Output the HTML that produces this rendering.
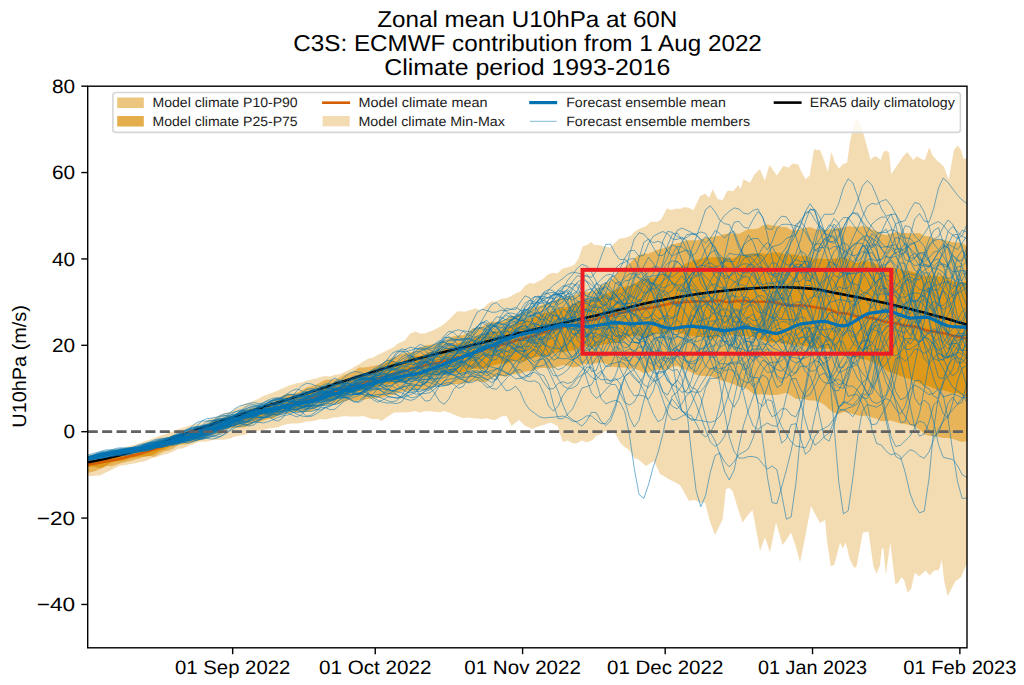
<!DOCTYPE html>
<html><head><meta charset="utf-8"><style>
html,body{margin:0;padding:0;background:#fff;overflow:hidden;}
svg{display:block;text-rendering:geometricPrecision;}
text{font-family:"Liberation Sans", sans-serif;fill:#000;}
.tk{font-size:19.4px;}
.tt{font-size:23.0px;}
.lg{font-size:13.5px;fill:#1a1a1a;}
</style></head><body>
<svg width="1024" height="685" viewBox="0 0 1024 685">
<rect width="1024" height="685" fill="#fff"/>
<clipPath id="ax"><rect x="87.7" y="86.2" width="879.3" height="561.5999999999999"/></clipPath>
<g clip-path="url(#ax)">
<path d="M86.0,455.5 L88.0,455.0 L92.4,453.9 L97.2,452.9 L102.0,452.5 L106.7,451.2 L111.5,450.3 L113.0,450.0 L116.2,449.0 L121.0,448.4 L125.7,447.3 L130.5,445.7 L135.2,444.4 L138.0,443.8 L140.0,443.1 L144.7,441.3 L149.5,439.8 L154.2,438.0 L159.0,436.1 L163.0,435.0 L168.5,433.0 L173.2,431.2 L178.0,429.3 L182.8,427.8 L188.0,426.0 L192.3,425.0 L197.0,423.6 L201.8,422.2 L206.5,420.6 L211.3,418.1 L213.0,417.5 L216.0,416.4 L220.8,414.6 L225.5,412.8 L230.3,411.8 L235.0,408.7 L238.0,407.5 L239.8,406.7 L244.5,403.7 L249.3,402.6 L254.0,400.8 L258.8,398.5 L263.0,396.0 L268.3,394.3 L273.1,392.4 L277.8,390.4 L282.6,388.3 L288.0,386.0 L292.1,384.5 L296.8,383.2 L301.6,382.5 L306.3,380.7 L311.1,379.5 L313.0,379.0 L315.8,378.6 L320.6,377.1 L325.3,376.0 L330.0,376.5 L334.8,374.8 L339.6,374.2 L342.7,372.7 L344.4,371.9 L349.1,369.9 L353.9,367.1 L355.4,366.3 L358.6,364.6 L363.4,361.6 L368.1,358.7 L372.9,357.7 L377.6,354.8 L380.8,353.6 L382.4,352.8 L387.1,350.3 L391.9,348.1 L393.5,347.3 L396.6,344.6 L400.0,342.6 L401.4,342.0 L404.7,340.6 L406.1,338.8 L410.2,333.6 L415.6,331.6 L420.3,333.6 L425.8,333.2 L429.9,331.6 L432.8,330.5 L434.7,329.5 L439.0,327.3 L443.8,324.2 L450.0,318.8 L453.7,314.8 L457.8,311.3 L463.2,311.6 L464.8,311.7 L467.9,310.8 L470.3,310.2 L472.7,309.2 L475.0,308.2 L477.4,309.2 L480.0,310.2 L482.2,308.9 L486.9,304.5 L491.7,301.2 L495.0,301.6 L496.5,301.2 L501.2,298.8 L506.0,298.3 L507.8,297.8 L510.7,296.3 L515.5,293.5 L520.4,291.4 L525.0,285.7 L529.7,283.0 L533.2,283.8 L534.5,283.2 L540.0,280.5 L544.0,278.3 L547.1,274.8 L548.7,274.2 L552.8,272.7 L557.1,273.4 L562.8,268.4 L568.5,267.0 L572.5,265.5 L574.2,264.9 L577.3,260.3 L578.5,258.4 L582.8,246.3 L587.0,244.9 L591.3,242.0 L594.2,244.9 L596.3,244.9 L598.5,244.9 L601.0,245.5 L604.2,246.3 L605.8,246.7 L609.9,247.8 L614.1,243.5 L619.8,238.5 L625.5,237.8 L629.5,236.2 L631.2,235.6 L634.1,232.1 L639.8,228.5 L643.8,227.0 L645.5,226.4 L648.5,223.7 L651.2,221.4 L653.3,221.7 L656.9,222.1 L661.2,219.2 L662.8,216.2 L666.9,208.5 L671.2,210.0 L676.9,208.5 L680.0,209.1 L681.8,208.2 L684.3,207.0 L686.6,207.4 L688.6,207.7 L691.3,208.9 L693.5,209.9 L696.1,204.5 L700.0,196.3 L705.0,193.5 L709.2,197.7 L712.5,189.2 L715.1,194.1 L717.8,199.2 L719.8,199.5 L722.8,199.9 L724.6,196.2 L727.0,191.3 L729.9,190.6 L733.0,191.3 L738.5,184.9 L740.6,189.2 L743.4,179.2 L748.4,181.9 L749.9,182.8 L754.1,174.9 L757.9,171.1 L759.8,169.2 L762.6,175.6 L764.8,180.6 L767.4,172.1 L769.5,165.0 L772.1,168.8 L776.9,175.6 L781.6,168.4 L783.4,165.7 L786.4,167.0 L788.4,167.8 L791.1,165.0 L792.6,163.5 L795.9,163.9 L798.3,164.2 L801.2,171.4 L805.5,179.2 L809.7,175.6 L814.0,149.3 L816.9,150.0 L820.0,149.9 L822.9,157.0 L824.4,161.6 L827.8,172.0 L829.2,164.5 L831.4,152.1 L835.0,162.8 L839.2,168.5 L842.8,164.2 L847.1,162.8 L850.0,141.4 L852.9,128.4 L854.2,122.8 L857.4,118.8 L861.3,125.7 L865.6,141.4 L867.2,147.3 L870.6,159.9 L871.9,158.6 L874.2,156.3 L877.0,157.0 L880.6,159.9 L883.4,152.1 L886.3,150.6 L889.1,152.8 L891.3,174.2 L895.7,167.6 L897.0,165.6 L900.5,160.4 L902.7,157.0 L905.2,154.3 L907.3,152.1 L909.8,155.6 L913.4,159.9 L914.7,158.5 L916.9,156.3 L919.5,157.8 L921.9,159.2 L924.8,159.9 L929.1,147.4 L932.6,155.6 L936.9,160.6 L938.5,161.8 L939.8,162.8 L944.0,167.0 L948.7,179.9 L952.7,157.0 L954.0,149.9 L957.6,145.6 L961.1,149.9 L963.3,158.5 L966.0,158.5 L968.0,158.5 L968.0,563.0 L966.0,565.6 L961.1,577.0 L957.5,579.7 L955.4,581.3 L952.7,586.4 L947.6,596.3 L944.0,579.9 L941.9,559.9 L939.0,569.9 L934.1,570.6 L929.8,575.6 L925.5,570.6 L924.2,571.7 L919.1,576.3 L914.8,572.8 L911.2,588.4 L910.0,589.9 L907.7,592.7 L904.1,579.9 L901.3,577.0 L898.4,582.7 L895.3,583.9 L892.7,562.8 L890.3,542.8 L887.7,561.3 L885.9,574.9 L883.4,548.5 L882.0,547.8 L879.9,565.6 L876.7,573.5 L873.5,567.0 L871.9,555.9 L868.5,531.4 L867.2,531.7 L862.8,532.8 L857.7,560.2 L856.4,567.0 L854.2,567.8 L852.9,565.4 L850.0,560.0 L848.2,552.7 L845.7,542.8 L842.8,548.5 L840.0,542.8 L838.7,548.0 L834.3,564.9 L830.7,566.3 L829.2,555.7 L827.1,541.4 L825.0,520.0 L820.0,522.9 L814.9,513.6 L811.0,506.0 L805.4,536.0 L800.0,562.5 L795.9,546.7 L791.0,532.5 L786.4,540.0 L782.5,545.0 L776.0,522.5 L772.1,541.9 L770.0,552.5 L767.4,544.6 L765.0,537.5 L762.6,543.9 L760.0,551.0 L757.9,539.3 L752.5,510.0 L748.4,514.4 L742.5,522.5 L738.9,511.5 L734.1,496.0 L732.5,491.0 L729.3,488.0 L726.0,489.0 L724.6,501.4 L722.5,520.0 L719.8,525.3 L715.0,535.0 L710.3,522.5 L705.0,502.5 L700.8,502.9 L695.0,500.0 L691.3,500.6 L689.0,501.0 L686.6,496.7 L681.8,488.2 L680.0,485.0 L677.1,483.4 L672.5,481.0 L667.6,478.4 L662.8,475.6 L660.0,474.0 L658.1,469.8 L654.0,461.0 L648.5,464.4 L646.0,466.0 L643.8,464.1 L638.4,459.5 L634.3,458.2 L629.5,450.6 L627.9,449.0 L624.8,447.2 L620.8,443.6 L615.3,433.9 L613.8,431.3 L610.5,431.1 L605.0,431.3 L600.0,434.5 L596.3,435.8 L592.7,440.0 L586.8,442.4 L582.0,440.5 L577.3,443.1 L575.0,443.6 L572.5,443.3 L567.7,440.4 L562.8,442.0 L557.6,426.0 L553.5,424.0 L550.5,422.6 L548.7,423.2 L544.0,424.7 L540.0,426.0 L534.5,427.9 L531.5,429.0 L529.7,427.7 L525.0,425.7 L520.2,420.9 L519.0,420.0 L515.5,422.8 L511.5,426.0 L506.5,416.0 L501.2,416.5 L496.5,419.2 L494.0,420.0 L491.7,419.8 L486.9,418.3 L482.2,419.1 L477.4,418.4 L472.7,418.2 L469.0,417.5 L463.2,417.9 L458.4,416.5 L453.7,414.6 L448.9,412.5 L444.0,411.0 L439.4,412.2 L434.7,411.8 L429.9,411.2 L425.2,411.2 L420.4,412.4 L419.0,412.5 L415.7,410.9 L410.9,411.9 L406.1,412.4 L401.4,412.2 L396.6,412.5 L394.0,412.5 L391.9,413.9 L387.1,417.1 L381.5,421.0 L377.6,418.8 L372.9,419.2 L369.0,418.0 L363.4,415.9 L358.6,416.4 L353.9,416.4 L349.1,416.6 L344.0,416.0 L339.6,417.1 L338.0,417.5 L334.8,417.2 L330.1,418.5 L325.3,419.4 L320.6,419.1 L315.8,420.6 L313.0,421.0 L311.1,421.2 L306.3,421.5 L301.6,423.0 L296.8,423.4 L292.1,423.5 L288.0,424.0 L282.6,425.3 L277.8,427.6 L273.1,428.1 L268.3,428.5 L263.0,430.0 L258.8,430.6 L254.0,431.5 L249.3,432.9 L244.5,434.7 L239.8,435.6 L238.0,436.0 L235.0,436.5 L230.3,438.4 L225.5,439.6 L220.8,439.7 L216.0,439.8 L213.0,440.0 L211.3,440.3 L206.5,441.7 L201.8,441.4 L198.0,442.2 L192.3,444.4 L190.0,445.3 L187.5,446.3 L182.5,448.4 L178.0,448.8 L174.7,450.8 L173.2,451.4 L168.5,453.3 L167.0,453.9 L163.7,454.4 L159.0,456.3 L154.2,457.6 L151.0,458.6 L149.5,459.2 L144.7,461.2 L143.4,461.7 L140.0,462.0 L135.6,463.3 L130.5,464.1 L128.0,464.5 L125.7,464.9 L120.0,465.8 L116.2,467.6 L113.0,469.0 L111.5,469.8 L108.0,471.5 L106.7,472.1 L102.0,474.5 L100.0,475.5 L97.2,475.6 L92.4,476.1 L88.0,476.0 L86.0,476.3 Z" fill="rgba(218,140,0,0.3)"/>
<path d="M87.7,461.3 L92.4,460.3 L97.2,458.5 L102.0,457.9 L106.7,457.9 L111.5,456.9 L116.2,455.1 L121.0,453.0 L125.7,453.4 L130.5,453.3 L135.2,452.0 L140.0,449.2 L144.7,446.4 L149.5,446.2 L154.2,443.6 L159.0,440.1 L163.7,439.6 L168.5,436.9 L173.2,434.7 L178.0,434.2 L182.8,434.0 L187.5,431.5 L192.3,430.3 L197.0,430.3 L201.8,428.3 L206.5,424.6 L211.3,421.5 L216.0,419.0 L220.8,418.0 L225.5,417.6 L230.3,416.0 L235.0,414.3 L239.8,412.7 L244.5,409.9 L249.3,408.7 L254.0,407.9 L258.8,406.6 L263.6,405.2 L268.3,402.7 L273.1,400.4 L277.8,398.7 L282.6,395.7 L287.3,393.7 L292.1,394.0 L296.8,392.7 L301.6,390.4 L306.3,387.4 L311.1,386.3 L315.8,384.7 L320.6,382.4 L325.3,379.8 L330.1,379.7 L334.8,379.6 L339.6,377.5 L344.4,374.8 L349.1,373.5 L353.9,371.4 L358.6,367.5 L363.4,367.4 L368.1,367.1 L372.9,366.1 L377.6,365.2 L382.4,362.9 L387.1,360.0 L391.9,358.1 L396.6,356.5 L401.4,354.0 L406.1,352.7 L410.9,352.2 L415.7,351.2 L420.4,347.9 L425.2,345.5 L429.9,344.7 L434.7,344.3 L439.4,342.6 L444.2,341.2 L448.9,337.9 L453.7,336.3 L458.4,335.5 L463.2,335.2 L467.9,333.0 L472.7,328.9 L477.4,327.4 L482.2,326.6 L486.9,323.8 L491.7,321.6 L496.5,322.0 L501.2,320.8 L506.0,319.0 L510.7,316.8 L515.5,315.7 L520.2,313.7 L525.0,312.1 L529.7,309.1 L534.5,307.2 L539.2,306.1 L544.0,304.2 L548.7,303.5 L553.5,301.0 L558.2,298.3 L563.0,297.6 L567.7,296.6 L572.5,296.2 L577.3,293.9 L582.0,291.6 L586.8,291.7 L591.5,291.8 L596.3,289.6 L601.0,285.5 L605.8,282.9 L610.5,280.8 L615.3,275.4 L620.0,269.8 L624.8,266.9 L629.5,263.4 L634.3,258.6 L639.0,255.0 L643.8,253.6 L648.5,253.7 L653.3,251.4 L658.1,249.6 L662.8,248.4 L667.6,246.9 L672.3,244.3 L677.1,243.5 L681.8,241.9 L686.6,240.4 L691.3,240.2 L696.1,240.6 L700.8,239.5 L705.6,237.7 L710.3,237.3 L715.1,236.6 L719.8,235.5 L724.6,234.1 L729.3,233.5 L734.1,233.3 L738.9,234.1 L743.6,231.6 L748.4,229.0 L753.1,229.2 L757.9,228.6 L762.6,225.6 L767.4,224.4 L772.1,225.4 L776.9,225.9 L781.6,227.0 L786.4,227.3 L791.1,229.9 L795.9,230.2 L800.6,228.9 L805.4,228.0 L810.1,226.9 L814.9,228.9 L819.7,229.4 L824.4,229.7 L829.2,229.4 L833.9,228.5 L838.7,227.9 L843.4,227.5 L848.2,226.2 L852.9,226.7 L857.7,227.0 L862.4,226.3 L867.2,226.4 L871.9,229.6 L876.7,231.0 L881.4,233.7 L886.2,235.3 L891.0,233.6 L895.7,232.0 L900.5,232.7 L905.2,232.9 L910.0,233.5 L914.7,233.3 L919.5,233.1 L924.2,236.0 L929.0,236.4 L933.7,238.3 L938.5,239.4 L943.2,239.9 L948.0,241.1 L952.7,242.2 L957.5,242.6 L962.2,243.2 L967.0,246.0 L967.0,441.1 L962.2,442.0 L957.5,440.4 L952.7,438.7 L948.0,437.9 L943.2,438.1 L938.5,437.0 L933.7,436.1 L929.0,435.8 L924.2,434.3 L919.5,429.4 L914.7,426.9 L910.0,425.3 L905.2,423.9 L900.5,423.6 L895.7,421.9 L891.0,420.6 L886.2,421.1 L881.4,421.2 L876.7,418.7 L871.9,417.6 L867.2,415.4 L862.4,415.9 L857.7,415.5 L852.9,414.1 L848.2,412.6 L843.4,412.1 L838.7,414.1 L833.9,412.8 L829.2,409.2 L824.4,404.7 L819.7,401.9 L814.9,400.4 L810.1,400.6 L805.4,399.5 L800.6,398.7 L795.9,398.9 L791.1,395.5 L786.4,392.7 L781.6,394.0 L776.9,394.9 L772.1,394.9 L767.4,394.7 L762.6,394.2 L757.9,394.6 L753.1,393.5 L748.4,389.8 L743.6,387.2 L738.9,386.8 L734.1,384.5 L729.3,382.7 L724.6,381.3 L719.8,379.9 L715.1,377.9 L710.3,375.9 L705.6,376.0 L700.8,375.8 L696.1,374.8 L691.3,372.6 L686.6,370.0 L681.8,368.2 L677.1,365.8 L672.3,366.8 L667.6,369.6 L662.8,369.9 L658.1,369.8 L653.3,370.4 L648.5,372.5 L643.8,373.1 L639.0,370.3 L634.3,368.6 L629.5,368.8 L624.8,367.6 L620.0,367.4 L615.3,367.1 L610.5,366.6 L605.8,363.6 L601.0,362.3 L596.3,363.3 L591.5,364.2 L586.8,363.4 L582.0,364.7 L577.3,367.1 L572.5,367.4 L567.7,365.7 L563.0,364.9 L558.2,366.5 L553.5,368.1 L548.7,368.5 L544.0,367.7 L539.2,368.2 L534.5,370.3 L529.7,371.1 L525.0,371.8 L520.2,373.4 L515.5,373.7 L510.7,374.5 L506.0,376.5 L501.2,376.0 L496.5,376.2 L491.7,377.8 L486.9,381.7 L482.2,382.0 L477.4,381.1 L472.7,381.2 L467.9,382.8 L463.2,383.3 L458.4,383.9 L453.7,384.1 L448.9,385.1 L444.2,385.5 L439.4,384.9 L434.7,385.8 L429.9,388.3 L425.2,389.9 L420.4,388.9 L415.7,389.9 L410.9,390.8 L406.1,391.3 L401.4,391.5 L396.6,393.6 L391.9,394.9 L387.1,396.0 L382.4,397.4 L377.6,397.5 L372.9,398.3 L368.1,398.9 L363.4,399.8 L358.6,400.5 L353.9,401.0 L349.1,399.9 L344.4,401.6 L339.6,403.5 L334.8,403.2 L330.1,404.0 L325.3,405.2 L320.6,406.1 L315.8,408.7 L311.1,411.6 L306.3,412.0 L301.6,412.2 L296.8,412.0 L292.1,412.2 L287.3,413.3 L282.6,413.6 L277.8,415.9 L273.1,418.5 L268.3,419.1 L263.6,420.7 L258.8,422.2 L254.0,422.5 L249.3,425.8 L244.5,427.2 L239.8,427.8 L235.0,427.8 L230.3,428.2 L225.5,429.6 L220.8,433.4 L216.0,434.1 L211.3,435.1 L206.5,436.9 L201.8,440.1 L197.0,441.0 L192.3,442.3 L187.5,444.1 L182.8,444.4 L178.0,445.3 L173.2,448.5 L168.5,450.5 L163.7,451.4 L159.0,453.9 L154.2,456.9 L149.5,456.1 L144.7,456.2 L140.0,458.2 L135.2,459.6 L130.5,460.9 L125.7,461.9 L121.0,463.2 L116.2,464.7 L111.5,466.3 L106.7,466.1 L102.0,467.9 L97.2,470.2 L92.4,471.9 L87.7,472.7 Z" fill="rgba(218,140,0,0.5)"/>
<path d="M87.7,463.9 L92.4,462.6 L97.2,460.9 L102.0,458.8 L106.7,457.6 L111.5,458.3 L116.2,457.8 L121.0,456.1 L125.7,455.1 L130.5,454.3 L135.2,453.2 L140.0,451.6 L144.7,449.5 L149.5,448.3 L154.2,445.6 L159.0,444.8 L163.7,443.4 L168.5,442.0 L173.2,440.9 L178.0,438.2 L182.8,433.9 L187.5,431.6 L192.3,431.3 L197.0,429.1 L201.8,428.0 L206.5,426.4 L211.3,422.6 L216.0,420.6 L220.8,420.9 L225.5,419.6 L230.3,417.6 L235.0,415.8 L239.8,413.3 L244.5,411.3 L249.3,410.6 L254.0,408.4 L258.8,406.8 L263.6,406.8 L268.3,405.5 L273.1,403.8 L277.8,401.3 L282.6,399.6 L287.3,397.8 L292.1,396.8 L296.8,396.1 L301.6,394.3 L306.3,393.6 L311.1,392.8 L315.8,391.8 L320.6,388.6 L325.3,387.6 L330.1,385.5 L334.8,383.3 L339.6,380.8 L344.4,379.9 L349.1,379.4 L353.9,377.5 L358.6,375.8 L363.4,374.4 L368.1,373.4 L372.9,370.5 L377.6,367.1 L382.4,365.7 L387.1,362.9 L391.9,360.8 L396.6,361.8 L401.4,362.5 L406.1,360.0 L410.9,356.8 L415.7,355.7 L420.4,355.9 L425.2,353.9 L429.9,352.1 L434.7,350.9 L439.4,350.1 L444.2,349.2 L448.9,347.5 L453.7,345.3 L458.4,343.2 L463.2,342.5 L467.9,340.6 L472.7,339.3 L477.4,336.5 L482.2,335.0 L486.9,333.1 L491.7,331.0 L496.5,331.6 L501.2,330.2 L506.0,327.5 L510.7,326.2 L515.5,323.4 L520.2,320.0 L525.0,319.8 L529.7,319.0 L534.5,317.0 L539.2,314.5 L544.0,313.0 L548.7,312.2 L553.5,311.0 L558.2,308.9 L563.0,307.6 L567.7,306.9 L572.5,304.6 L577.3,302.5 L582.0,299.9 L586.8,300.3 L591.5,299.5 L596.3,297.8 L601.0,295.6 L605.8,293.5 L610.5,291.9 L615.3,289.7 L620.0,287.5 L624.8,286.6 L629.5,285.9 L634.3,283.4 L639.0,280.9 L643.8,278.7 L648.5,278.1 L653.3,278.0 L658.1,275.6 L662.8,272.8 L667.6,270.1 L672.3,267.3 L677.1,267.0 L681.8,266.3 L686.6,263.2 L691.3,261.5 L696.1,259.8 L700.8,258.9 L705.6,257.3 L710.3,257.5 L715.1,257.0 L719.8,257.1 L724.6,257.5 L729.3,258.6 L734.1,258.0 L738.9,255.8 L743.6,254.5 L748.4,254.4 L753.1,254.1 L757.9,252.8 L762.6,253.5 L767.4,254.0 L772.1,252.4 L776.9,252.2 L781.6,253.3 L786.4,254.4 L791.1,254.2 L795.9,254.6 L800.6,255.9 L805.4,255.8 L810.1,257.6 L814.9,258.9 L819.7,258.4 L824.4,258.8 L829.2,259.2 L833.9,258.4 L838.7,258.2 L843.4,257.3 L848.2,258.9 L852.9,262.2 L857.7,262.8 L862.4,260.9 L867.2,261.2 L871.9,262.4 L876.7,263.9 L881.4,265.7 L886.2,267.1 L891.0,267.8 L895.7,268.2 L900.5,269.5 L905.2,270.5 L910.0,271.3 L914.7,272.6 L919.5,274.9 L924.2,276.0 L929.0,275.4 L933.7,275.3 L938.5,276.6 L943.2,276.1 L948.0,277.7 L952.7,281.2 L957.5,282.3 L962.2,282.0 L967.0,281.5 L967.0,397.1 L962.2,395.4 L957.5,393.0 L952.7,393.2 L948.0,391.5 L943.2,390.3 L938.5,389.7 L933.7,388.3 L929.0,386.1 L924.2,385.5 L919.5,383.0 L914.7,380.9 L910.0,379.0 L905.2,377.7 L900.5,376.0 L895.7,374.1 L891.0,372.6 L886.2,370.2 L881.4,366.2 L876.7,364.1 L871.9,362.1 L867.2,360.0 L862.4,359.1 L857.7,358.1 L852.9,357.2 L848.2,355.2 L843.4,353.5 L838.7,352.6 L833.9,349.9 L829.2,348.4 L824.4,348.6 L819.7,348.7 L814.9,348.2 L810.1,347.6 L805.4,345.9 L800.6,345.5 L795.9,345.0 L791.1,344.8 L786.4,344.2 L781.6,343.0 L776.9,342.1 L772.1,342.9 L767.4,341.9 L762.6,339.7 L757.9,338.3 L753.1,337.1 L748.4,336.4 L743.6,336.1 L738.9,335.8 L734.1,335.2 L729.3,334.9 L724.6,335.5 L719.8,336.0 L715.1,338.5 L710.3,339.5 L705.6,337.2 L700.8,336.4 L696.1,336.6 L691.3,336.2 L686.6,335.4 L681.8,333.5 L677.1,332.0 L672.3,330.4 L667.6,333.9 L662.8,333.9 L658.1,333.2 L653.3,334.8 L648.5,337.3 L643.8,337.3 L639.0,335.8 L634.3,335.8 L629.5,336.6 L624.8,338.9 L620.0,342.3 L615.3,343.0 L610.5,343.5 L605.8,344.0 L601.0,345.0 L596.3,346.4 L591.5,347.9 L586.8,345.7 L582.0,346.5 L577.3,349.3 L572.5,351.0 L567.7,351.2 L563.0,352.5 L558.2,352.1 L553.5,353.2 L548.7,355.3 L544.0,355.4 L539.2,356.4 L534.5,357.2 L529.7,358.6 L525.0,361.4 L520.2,361.5 L515.5,360.4 L510.7,362.1 L506.0,364.2 L501.2,363.4 L496.5,364.6 L491.7,365.7 L486.9,368.0 L482.2,368.7 L477.4,368.8 L472.7,368.8 L467.9,370.6 L463.2,372.4 L458.4,372.5 L453.7,373.0 L448.9,372.8 L444.2,373.9 L439.4,375.1 L434.7,375.4 L429.9,377.1 L425.2,377.2 L420.4,378.3 L415.7,377.9 L410.9,378.8 L406.1,380.4 L401.4,381.0 L396.6,383.4 L391.9,383.8 L387.1,383.4 L382.4,384.6 L377.6,386.4 L372.9,387.4 L368.1,388.9 L363.4,390.6 L358.6,391.5 L353.9,392.2 L349.1,393.3 L344.4,396.0 L339.6,397.7 L334.8,397.6 L330.1,399.8 L325.3,400.2 L320.6,400.4 L315.8,402.6 L311.1,404.4 L306.3,407.1 L301.6,408.2 L296.8,410.4 L292.1,409.1 L287.3,409.7 L282.6,411.8 L277.8,414.7 L273.1,416.0 L268.3,416.6 L263.6,415.8 L258.8,418.5 L254.0,420.3 L249.3,420.1 L244.5,421.0 L239.8,423.9 L235.0,426.3 L230.3,426.9 L225.5,428.7 L220.8,429.9 L216.0,429.9 L211.3,431.0 L206.5,434.9 L201.8,436.7 L197.0,437.9 L192.3,439.4 L187.5,439.1 L182.8,440.4 L178.0,443.1 L173.2,445.2 L168.5,447.5 L163.7,449.7 L159.0,451.3 L154.2,454.1 L149.5,456.1 L144.7,456.8 L140.0,456.4 L135.2,457.6 L130.5,458.1 L125.7,459.9 L121.0,461.2 L116.2,461.2 L111.5,462.4 L106.7,465.2 L102.0,468.0 L97.2,467.5 L92.4,466.5 L87.7,467.0 Z" fill="rgba(218,140,0,0.7)"/>
<path d="M87.7,464.8 L92.4,464.0 L97.2,463.2 L102.0,462.3 L106.7,461.3 L111.5,460.4 L116.2,459.6 L121.0,458.6 L125.7,457.3 L130.5,456.1 L135.2,455.0 L140.0,453.8 L144.7,452.3 L149.5,450.8 L154.2,449.3 L159.0,447.7 L163.7,445.8 L168.5,444.0 L173.2,442.2 L178.0,440.4 L182.8,438.6 L187.5,437.0 L192.3,435.3 L197.0,433.7 L201.8,432.1 L206.5,430.4 L211.3,428.6 L216.0,427.1 L220.8,425.6 L225.5,424.0 L230.3,422.3 L235.0,420.8 L239.8,419.2 L244.5,417.8 L249.3,416.4 L254.0,414.8 L258.8,413.4 L263.6,412.0 L268.3,410.5 L273.1,409.1 L277.8,407.7 L282.6,406.3 L287.3,404.9 L292.1,403.6 L296.8,402.4 L301.6,400.8 L306.3,399.5 L311.1,398.2 L315.8,396.8 L320.6,395.6 L325.3,394.1 L330.1,392.4 L334.8,391.0 L339.6,389.6 L344.4,388.2 L349.1,386.8 L353.9,385.4 L358.6,384.1 L363.4,382.8 L368.1,381.3 L372.9,379.9 L377.6,378.5 L382.4,377.1 L387.1,375.7 L391.9,374.3 L396.6,373.2 L401.4,372.0 L406.1,370.7 L410.9,369.1 L415.7,367.8 L420.4,366.6 L425.2,365.2 L429.9,364.1 L434.7,363.2 L439.4,362.3 L444.2,361.1 L448.9,359.7 L453.7,358.5 L458.4,357.5 L463.2,356.4 L467.9,354.9 L472.7,353.3 L477.4,352.0 L482.2,350.5 L486.9,348.8 L491.7,347.2 L496.5,345.9 L501.2,344.7 L506.0,343.7 L510.7,342.3 L515.5,340.8 L520.2,339.4 L525.0,338.1 L529.7,337.0 L534.5,335.6 L539.2,334.1 L544.0,332.5 L548.7,331.2 L553.5,329.4 L558.2,327.9 L563.0,327.1 L567.7,326.1 L572.5,325.5 L577.3,324.6 L582.0,322.5 L586.8,321.0 L591.5,320.1 L596.3,319.1 L601.0,317.8 L605.8,316.7 L610.5,315.9 L615.3,314.6 L620.0,313.0 L624.8,312.1 L629.5,311.1 L634.3,309.9 L639.0,309.1 L643.8,308.4 L648.5,308.1 L653.3,307.3 L658.1,306.2 L662.8,305.2 L667.6,304.2 L672.3,302.8 L677.1,302.6 L681.8,302.5 L686.6,301.8 L691.3,301.8 L696.1,301.3 L700.8,301.5 L705.6,301.3 L710.3,301.5 L715.1,301.0 L719.8,300.6 L724.6,301.7 L729.3,302.2 L734.1,301.4 L738.9,300.9 L743.6,300.9 L748.4,301.1 L753.1,301.9 L757.9,301.8 L762.6,301.8 L767.4,301.8 L772.1,302.0 L776.9,302.7 L781.6,304.2 L786.4,304.9 L791.1,305.5 L795.9,305.5 L800.6,305.4 L805.4,305.8 L810.1,306.4 L814.9,307.2 L819.7,308.0 L824.4,308.8 L829.2,309.5 L833.9,311.2 L838.7,313.1 L843.4,313.3 L848.2,313.8 L852.9,315.6 L857.7,316.8 L862.4,316.7 L867.2,317.4 L871.9,318.1 L876.7,318.9 L881.4,320.7 L886.2,321.9 L891.0,322.5 L895.7,323.3 L900.5,324.6 L905.2,325.4 L910.0,326.1 L914.7,326.6 L919.5,327.9 L924.2,329.9 L929.0,330.7 L933.7,331.6 L938.5,332.5 L943.2,333.1 L948.0,334.3 L952.7,335.7 L957.5,336.5 L962.2,337.4 L967.0,338.6" fill="none" stroke="#D55E00" stroke-width="2.6" stroke-linejoin="round"/>
<path d="M87.7,462.3 L92.4,461.4 L97.2,460.4 L102.0,459.5 L106.7,458.4 L111.5,457.3 L116.2,456.2 L121.0,455.0 L125.7,453.8 L130.5,452.6 L135.2,451.3 L140.0,449.9 L144.7,448.5 L149.5,447.0 L154.2,445.4 L159.0,443.7 L163.7,442.0 L168.5,440.2 L173.2,438.4 L178.0,436.6 L182.8,434.8 L187.5,433.0 L192.3,431.3 L197.0,429.5 L201.8,427.9 L206.5,426.2 L211.3,424.6 L216.0,423.0 L220.8,421.3 L225.5,419.7 L230.3,418.1 L235.0,416.5 L239.8,414.9 L244.5,413.3 L249.3,411.7 L254.0,410.1 L258.8,408.5 L263.6,407.0 L268.3,405.4 L273.1,403.9 L277.8,402.4 L282.6,400.9 L287.3,399.4 L292.1,397.9 L296.8,396.4 L301.6,394.9 L306.3,393.4 L311.1,391.8 L315.8,390.3 L320.6,388.8 L325.3,387.2 L330.1,385.7 L334.8,384.1 L339.6,382.4 L344.4,380.9 L349.1,379.4 L353.9,377.9 L358.6,376.4 L363.4,374.9 L368.1,373.4 L372.9,371.9 L377.6,370.4 L382.4,369.0 L387.1,367.6 L391.9,366.1 L396.6,364.7 L401.4,363.3 L406.1,362.0 L410.9,360.6 L415.7,359.3 L420.4,358.0 L425.2,356.7 L429.9,355.4 L434.7,354.2 L439.4,353.0 L444.2,351.9 L448.9,350.8 L453.7,349.7 L458.4,348.5 L463.2,347.4 L467.9,346.3 L472.7,345.1 L477.4,343.9 L482.2,342.7 L486.9,341.4 L491.7,340.2 L496.5,339.0 L501.2,337.7 L506.0,336.5 L510.7,335.2 L515.5,334.0 L520.2,332.8 L525.0,331.7 L529.7,330.5 L534.5,329.4 L539.2,328.3 L544.0,327.2 L548.7,326.1 L553.5,325.0 L558.2,323.9 L563.0,322.9 L567.7,321.8 L572.5,320.8 L577.3,319.7 L582.0,318.6 L586.8,317.5 L591.5,316.5 L596.3,315.4 L601.0,314.3 L605.8,313.1 L610.5,311.9 L615.3,310.8 L620.0,309.6 L624.8,308.4 L629.5,307.2 L634.3,306.0 L639.0,304.9 L643.8,303.8 L648.5,302.8 L653.3,301.8 L658.1,300.9 L662.8,300.0 L667.6,299.0 L672.3,298.2 L677.1,297.3 L681.8,296.5 L686.6,295.7 L691.3,295.0 L696.1,294.3 L700.8,293.6 L705.6,293.0 L710.3,292.4 L715.1,291.8 L719.8,291.3 L724.6,290.7 L729.3,290.2 L734.1,289.7 L738.9,289.3 L743.6,288.9 L748.4,288.6 L753.1,288.3 L757.9,288.0 L762.6,287.8 L767.4,287.5 L772.1,287.3 L776.9,287.2 L781.6,287.2 L786.4,287.3 L791.1,287.4 L795.9,287.6 L800.6,287.9 L805.4,288.2 L810.1,288.6 L814.9,289.0 L819.7,289.8 L824.4,290.8 L829.2,291.8 L833.9,292.7 L838.7,293.6 L843.4,294.5 L848.2,295.5 L852.9,296.4 L857.7,297.3 L862.4,298.3 L867.2,299.3 L871.9,300.3 L876.7,301.3 L881.4,302.3 L886.2,303.3 L891.0,304.4 L895.7,305.5 L900.5,306.7 L905.2,307.8 L910.0,309.0 L914.7,310.2 L919.5,311.4 L924.2,312.6 L929.0,313.9 L933.7,315.2 L938.5,316.5 L943.2,317.8 L948.0,319.1 L952.7,320.5 L957.5,321.9 L962.2,323.3 L967.0,324.7" fill="none" stroke="#000" stroke-width="2.6" stroke-linejoin="round"/>
<g fill="none" stroke="#0072B2" stroke-opacity="0.58" stroke-width="0.95" stroke-linejoin="round">
<path d="M87.7,459.7 L92.4,459.1 L97.2,458.5 L102.0,458.0 L106.7,457.3 L111.5,456.5 L116.2,455.7 L121.0,454.2 L125.7,452.1 L130.5,450.4 L135.2,449.4 L140.0,448.4 L144.7,447.5 L149.5,446.7 L154.2,445.8 L159.0,444.7 L163.7,443.9 L168.5,442.9 L173.2,441.9 L178.0,441.8 L182.8,441.8 L187.5,440.2 L192.3,437.4 L197.0,435.3 L201.8,434.3 L206.5,433.9 L211.3,432.8 L216.0,430.6 L220.8,428.8 L225.5,427.1 L230.3,424.3 L235.0,420.9 L239.8,417.7 L244.5,416.0 L249.3,416.3 L254.0,416.4 L258.8,413.8 L263.6,410.5 L268.3,408.3 L273.1,407.9 L277.8,408.1 L282.6,408.2 L287.3,407.7 L292.1,406.1 L296.8,403.9 L301.6,400.7 L306.3,396.2 L311.1,391.9 L315.8,389.7 L320.6,388.3 L325.3,385.7 L330.1,384.1 L334.8,384.6 L339.6,384.4 L344.4,383.3 L349.1,383.2 L353.9,383.1 L358.6,381.5 L363.4,378.9 L368.1,378.3 L372.9,379.7 L377.6,380.1 L382.4,377.7 L387.1,375.1 L391.9,375.0 L396.6,377.1 L401.4,378.8 L406.1,379.9 L410.9,381.5 L415.7,380.4 L420.4,375.9 L425.2,369.4 L429.9,361.2 L434.7,355.3 L439.4,354.8 L444.2,356.9 L448.9,357.8 L453.7,356.1 L458.4,352.0 L463.2,348.1 L467.9,346.2 L472.7,343.8 L477.4,338.6 L482.2,332.9 L486.9,327.1 L491.7,324.4 L496.5,327.1 L501.2,333.1 L506.0,337.3 L510.7,335.8 L515.5,329.7 L520.2,327.0 L525.0,330.7 L529.7,336.1 L534.5,342.3 L539.2,351.1 L544.0,356.8 L548.7,360.8 L553.5,366.6 L558.2,369.7 L563.0,367.8 L567.7,363.4 L572.5,359.7 L577.3,357.1 L582.0,352.9 L586.8,347.9 L591.5,341.9 L596.3,330.5 L601.0,316.4 L605.8,308.9 L610.5,309.3 L615.3,309.4 L620.0,308.1 L624.8,310.7 L629.5,312.0 L634.3,305.1 L639.0,299.1 L643.8,303.2 L648.5,307.5 L653.3,303.1 L658.1,294.6 L662.8,291.4 L667.6,297.5 L672.3,304.0 L677.1,305.1 L681.8,306.9 L686.6,315.2 L691.3,324.1 L696.1,328.7 L700.8,326.7 L705.6,333.2 L710.3,340.9 L715.1,336.1 L719.8,329.1 L724.6,330.2 L729.3,338.6 L734.1,349.5 L738.9,346.7 L743.6,329.5 L748.4,322.8 L753.1,335.3 L757.9,340.3 L762.6,336.9 L767.4,324.4 L772.1,307.7 L776.9,293.9 L781.6,287.1 L786.4,295.0 L791.1,314.0 L795.9,333.2 L800.6,344.5 L805.4,339.9 L810.1,334.5 L814.9,333.6 L819.7,324.9 L824.4,300.0 L829.2,275.8 L833.9,265.9 L838.7,255.6 L843.4,234.8 L848.2,219.0 L852.9,212.0 L857.7,200.5 L862.4,186.3 L867.2,180.5 L871.9,185.0 L876.7,196.4 L881.4,208.9 L886.2,216.2 L891.0,214.5 L895.7,214.0 L900.5,227.2 L905.2,246.6 L910.0,260.8 L914.7,265.8 L919.5,264.6 L924.2,266.0 L929.0,266.8 L933.7,260.4 L938.5,258.9 L943.2,266.7 L948.0,265.9 L952.7,252.5 L957.5,237.5 L962.2,230.2 L967.0,232.3"/>
<path d="M87.7,457.3 L92.4,456.4 L97.2,455.7 L102.0,454.5 L106.7,453.0 L111.5,451.9 L116.2,451.4 L121.0,451.2 L125.7,450.7 L130.5,450.0 L135.2,449.7 L140.0,449.5 L144.7,448.8 L149.5,447.9 L154.2,446.7 L159.0,445.1 L163.7,443.4 L168.5,441.7 L173.2,439.3 L178.0,436.7 L182.8,435.0 L187.5,433.2 L192.3,430.3 L197.0,427.3 L201.8,425.3 L206.5,424.6 L211.3,424.4 L216.0,423.5 L220.8,422.6 L225.5,421.9 L230.3,420.0 L235.0,416.5 L239.8,412.7 L244.5,409.4 L249.3,407.0 L254.0,405.8 L258.8,404.7 L263.6,402.5 L268.3,399.9 L273.1,398.2 L277.8,398.0 L282.6,399.1 L287.3,399.5 L292.1,396.5 L296.8,391.0 L301.6,385.8 L306.3,383.4 L311.1,383.9 L315.8,385.8 L320.6,386.6 L325.3,386.6 L330.1,386.9 L334.8,388.2 L339.6,388.3 L344.4,386.0 L349.1,384.4 L353.9,384.5 L358.6,384.3 L363.4,381.9 L368.1,377.9 L372.9,376.6 L377.6,380.0 L382.4,386.8 L387.1,391.1 L391.9,390.8 L396.6,389.5 L401.4,387.9 L406.1,385.8 L410.9,385.1 L415.7,385.4 L420.4,385.8 L425.2,383.9 L429.9,379.2 L434.7,376.1 L439.4,373.9 L444.2,371.0 L448.9,369.8 L453.7,369.3 L458.4,367.3 L463.2,363.8 L467.9,358.9 L472.7,357.6 L477.4,363.6 L482.2,368.6 L486.9,365.0 L491.7,355.3 L496.5,345.4 L501.2,340.3 L506.0,340.4 L510.7,344.8 L515.5,349.2 L520.2,348.9 L525.0,346.4 L529.7,346.5 L534.5,350.9 L539.2,355.1 L544.0,356.0 L548.7,356.3 L553.5,351.0 L558.2,335.5 L563.0,323.1 L567.7,324.9 L572.5,334.0 L577.3,333.6 L582.0,320.9 L586.8,307.5 L591.5,301.7 L596.3,300.2 L601.0,301.1 L605.8,306.7 L610.5,309.1 L615.3,304.7 L620.0,302.1 L624.8,303.3 L629.5,303.3 L634.3,302.4 L639.0,304.9 L643.8,307.1 L648.5,312.0 L653.3,321.0 L658.1,325.7 L662.8,327.7 L667.6,335.9 L672.3,359.2 L677.1,390.5 L681.8,411.1 L686.6,413.2 L691.3,404.3 L696.1,393.0 L700.8,384.9 L705.6,377.4 L710.3,369.1 L715.1,366.8 L719.8,369.1 L724.6,367.5 L729.3,363.4 L734.1,362.2 L738.9,361.9 L743.6,358.3 L748.4,349.0 L753.1,338.3 L757.9,330.7 L762.6,324.6 L767.4,319.5 L772.1,316.4 L776.9,320.3 L781.6,318.7 L786.4,306.5 L791.1,290.8 L795.9,286.2 L800.6,293.5 L805.4,303.6 L810.1,314.7 L814.9,323.1 L819.7,331.5 L824.4,336.5 L829.2,346.1 L833.9,363.3 L838.7,372.8 L843.4,370.7 L848.2,367.7 L852.9,366.4 L857.7,363.5 L862.4,352.8 L867.2,338.0 L871.9,328.6 L876.7,325.4 L881.4,324.1 L886.2,317.8 L891.0,303.0 L895.7,275.3 L900.5,249.3 L905.2,243.0 L910.0,248.6 L914.7,259.3 L919.5,265.6 L924.2,258.8 L929.0,247.1 L933.7,240.8 L938.5,239.2 L943.2,240.0 L948.0,245.2 L952.7,258.4 L957.5,277.7 L962.2,294.5 L967.0,306.1"/>
<path d="M87.7,459.1 L92.4,458.5 L97.2,458.2 L102.0,457.7 L106.7,456.4 L111.5,454.4 L116.2,452.5 L121.0,450.9 L125.7,449.6 L130.5,448.7 L135.2,448.0 L140.0,447.3 L144.7,446.3 L149.5,444.8 L154.2,443.3 L159.0,442.7 L163.7,443.0 L168.5,443.2 L173.2,442.8 L178.0,441.6 L182.8,439.8 L187.5,437.5 L192.3,435.6 L197.0,434.4 L201.8,431.7 L206.5,426.9 L211.3,422.3 L216.0,418.5 L220.8,415.2 L225.5,413.6 L230.3,413.1 L235.0,412.0 L239.8,410.6 L244.5,409.2 L249.3,407.6 L254.0,406.7 L258.8,406.6 L263.6,407.1 L268.3,408.9 L273.1,411.0 L277.8,412.3 L282.6,412.4 L287.3,410.9 L292.1,408.1 L296.8,405.0 L301.6,401.9 L306.3,400.1 L311.1,399.9 L315.8,398.2 L320.6,395.3 L325.3,393.2 L330.1,391.3 L334.8,390.1 L339.6,389.3 L344.4,387.8 L349.1,387.9 L353.9,390.3 L358.6,389.9 L363.4,385.9 L368.1,381.6 L372.9,380.3 L377.6,383.2 L382.4,387.3 L387.1,389.3 L391.9,390.8 L396.6,394.4 L401.4,397.5 L406.1,396.6 L410.9,394.5 L415.7,392.5 L420.4,387.1 L425.2,377.4 L429.9,366.6 L434.7,357.9 L439.4,351.3 L444.2,348.7 L448.9,348.5 L453.7,348.4 L458.4,346.9 L463.2,342.0 L467.9,332.9 L472.7,321.1 L477.4,312.0 L482.2,309.3 L486.9,310.5 L491.7,312.3 L496.5,312.1 L501.2,310.2 L506.0,311.0 L510.7,315.3 L515.5,318.5 L520.2,320.1 L525.0,321.6 L529.7,321.8 L534.5,324.5 L539.2,334.8 L544.0,342.8 L548.7,347.2 L553.5,352.7 L558.2,358.2 L563.0,358.8 L567.7,358.5 L572.5,360.2 L577.3,357.3 L582.0,351.9 L586.8,350.4 L591.5,348.5 L596.3,343.1 L601.0,337.4 L605.8,331.2 L610.5,322.2 L615.3,312.2 L620.0,312.5 L624.8,313.0 L629.5,308.5 L634.3,305.4 L639.0,310.7 L643.8,317.7 L648.5,317.3 L653.3,313.8 L658.1,318.3 L662.8,318.9 L667.6,322.1 L672.3,334.5 L677.1,348.8 L681.8,355.3 L686.6,360.2 L691.3,368.7 L696.1,371.8 L700.8,363.2 L705.6,351.1 L710.3,346.7 L715.1,345.2 L719.8,340.6 L724.6,341.3 L729.3,346.5 L734.1,339.3 L738.9,315.7 L743.6,296.9 L748.4,297.7 L753.1,311.2 L757.9,326.4 L762.6,334.8 L767.4,333.5 L772.1,328.9 L776.9,325.3 L781.6,321.3 L786.4,322.2 L791.1,325.1 L795.9,326.6 L800.6,309.7 L805.4,280.7 L810.1,255.5 L814.9,236.7 L819.7,221.8 L824.4,214.2 L829.2,214.4 L833.9,213.9 L838.7,203.6 L843.4,187.8 L848.2,178.8 L852.9,182.9 L857.7,196.4 L862.4,210.9 L867.2,220.7 L871.9,226.9 L876.7,232.9 L881.4,232.2 L886.2,221.5 L891.0,214.2 L895.7,224.5 L900.5,246.0 L905.2,260.0 L910.0,261.9 L914.7,258.0 L919.5,253.0 L924.2,252.3 L929.0,260.4 L933.7,273.8 L938.5,282.9 L943.2,289.9 L948.0,301.6 L952.7,316.7 L957.5,330.7 L962.2,338.4 L967.0,349.3"/>
<path d="M87.7,458.0 L92.4,457.0 L97.2,456.2 L102.0,455.4 L106.7,454.9 L111.5,454.7 L116.2,454.5 L121.0,453.9 L125.7,453.3 L130.5,453.1 L135.2,452.6 L140.0,451.8 L144.7,451.2 L149.5,450.3 L154.2,448.2 L159.0,445.4 L163.7,442.8 L168.5,440.9 L173.2,439.5 L178.0,438.5 L182.8,435.9 L187.5,433.2 L192.3,431.8 L197.0,430.7 L201.8,428.5 L206.5,426.1 L211.3,423.8 L216.0,420.3 L220.8,416.8 L225.5,415.6 L230.3,416.8 L235.0,418.4 L239.8,417.9 L244.5,414.9 L249.3,411.6 L254.0,410.0 L258.8,409.6 L263.6,409.6 L268.3,410.4 L273.1,412.8 L277.8,414.8 L282.6,414.6 L287.3,412.4 L292.1,409.6 L296.8,408.9 L301.6,412.0 L306.3,415.9 L311.1,416.4 L315.8,414.2 L320.6,410.9 L325.3,408.0 L330.1,406.1 L334.8,403.4 L339.6,399.8 L344.4,396.6 L349.1,392.7 L353.9,388.9 L358.6,388.0 L363.4,389.5 L368.1,390.0 L372.9,389.1 L377.6,388.9 L382.4,388.2 L387.1,385.9 L391.9,385.7 L396.6,388.8 L401.4,388.9 L406.1,382.8 L410.9,376.1 L415.7,375.3 L420.4,378.3 L425.2,379.8 L429.9,377.4 L434.7,372.6 L439.4,370.4 L444.2,371.2 L448.9,372.6 L453.7,371.7 L458.4,367.1 L463.2,358.7 L467.9,350.8 L472.7,347.6 L477.4,347.8 L482.2,351.3 L486.9,357.1 L491.7,357.1 L496.5,345.0 L501.2,331.4 L506.0,325.3 L510.7,327.0 L515.5,330.4 L520.2,328.3 L525.0,319.7 L529.7,306.8 L534.5,296.6 L539.2,296.2 L544.0,304.1 L548.7,312.9 L553.5,315.7 L558.2,316.4 L563.0,323.9 L567.7,327.6 L572.5,323.4 L577.3,318.8 L582.0,320.3 L586.8,325.2 L591.5,331.9 L596.3,338.5 L601.0,335.9 L605.8,326.3 L610.5,323.3 L615.3,324.8 L620.0,323.8 L624.8,322.3 L629.5,325.1 L634.3,326.9 L639.0,320.0 L643.8,312.1 L648.5,305.8 L653.3,301.0 L658.1,297.9 L662.8,293.4 L667.6,283.3 L672.3,269.5 L677.1,255.1 L681.8,242.3 L686.6,234.7 L691.3,233.7 L696.1,234.2 L700.8,231.9 L705.6,233.4 L710.3,241.7 L715.1,248.3 L719.8,256.4 L724.6,270.3 L729.3,278.3 L734.1,281.4 L738.9,284.5 L743.6,285.3 L748.4,288.1 L753.1,288.7 L757.9,280.3 L762.6,273.6 L767.4,268.9 L772.1,262.3 L776.9,263.9 L781.6,273.7 L786.4,275.7 L791.1,265.2 L795.9,259.4 L800.6,261.7 L805.4,261.3 L810.1,262.2 L814.9,273.1 L819.7,289.4 L824.4,306.3 L829.2,322.5 L833.9,331.9 L838.7,330.7 L843.4,320.5 L848.2,309.9 L852.9,305.8 L857.7,303.7 L862.4,297.7 L867.2,292.2 L871.9,297.4 L876.7,310.7 L881.4,311.9 L886.2,297.1 L891.0,287.5 L895.7,290.7 L900.5,297.0 L905.2,297.4 L910.0,294.2 L914.7,292.7 L919.5,293.5 L924.2,296.6 L929.0,302.2 L933.7,309.1 L938.5,318.2 L943.2,328.4 L948.0,333.1 L952.7,329.0 L957.5,320.1 L962.2,311.5 L967.0,306.8"/>
<path d="M87.7,456.2 L92.4,455.5 L97.2,454.6 L102.0,453.7 L106.7,452.8 L111.5,452.2 L116.2,452.1 L121.0,452.3 L125.7,452.0 L130.5,451.3 L135.2,450.7 L140.0,449.5 L144.7,447.3 L149.5,446.1 L154.2,446.1 L159.0,446.3 L163.7,446.1 L168.5,445.1 L173.2,442.3 L178.0,438.9 L182.8,437.0 L187.5,436.8 L192.3,436.6 L197.0,435.6 L201.8,434.1 L206.5,432.9 L211.3,432.9 L216.0,431.6 L220.8,427.8 L225.5,423.3 L230.3,420.2 L235.0,418.4 L239.8,417.1 L244.5,416.5 L249.3,417.0 L254.0,417.5 L258.8,417.4 L263.6,417.4 L268.3,416.7 L273.1,413.1 L277.8,408.9 L282.6,408.4 L287.3,410.4 L292.1,411.1 L296.8,409.4 L301.6,407.1 L306.3,405.6 L311.1,403.9 L315.8,400.7 L320.6,397.1 L325.3,395.1 L330.1,393.5 L334.8,390.4 L339.6,388.1 L344.4,388.3 L349.1,389.6 L353.9,391.0 L358.6,392.7 L363.4,393.3 L368.1,390.4 L372.9,385.3 L377.6,382.0 L382.4,383.2 L387.1,387.9 L391.9,391.2 L396.6,390.2 L401.4,386.6 L406.1,386.6 L410.9,391.3 L415.7,394.2 L420.4,393.9 L425.2,393.5 L429.9,392.7 L434.7,389.1 L439.4,385.1 L444.2,383.4 L448.9,382.4 L453.7,384.2 L458.4,388.2 L463.2,386.5 L467.9,378.4 L472.7,373.5 L477.4,375.4 L482.2,375.9 L486.9,369.5 L491.7,359.7 L496.5,352.0 L501.2,349.1 L506.0,351.1 L510.7,352.5 L515.5,347.2 L520.2,338.7 L525.0,333.4 L529.7,328.1 L534.5,323.7 L539.2,324.7 L544.0,327.6 L548.7,323.7 L553.5,313.4 L558.2,301.9 L563.0,292.8 L567.7,291.7 L572.5,304.0 L577.3,323.1 L582.0,335.8 L586.8,336.8 L591.5,328.6 L596.3,318.4 L601.0,313.7 L605.8,317.1 L610.5,321.5 L615.3,320.2 L620.0,311.9 L624.8,295.6 L629.5,279.6 L634.3,270.7 L639.0,268.4 L643.8,273.8 L648.5,281.4 L653.3,283.5 L658.1,285.0 L662.8,288.1 L667.6,286.2 L672.3,283.1 L677.1,286.4 L681.8,290.9 L686.6,291.8 L691.3,289.7 L696.1,290.5 L700.8,306.3 L705.6,326.8 L710.3,344.7 L715.1,361.2 L719.8,383.9 L724.6,412.8 L729.3,437.0 L734.1,451.5 L738.9,458.1 L743.6,458.1 L748.4,456.5 L753.1,456.6 L757.9,457.9 L762.6,463.8 L767.4,469.1 L772.1,465.9 L776.9,469.7 L781.6,494.0 L786.4,519.2 L791.1,517.0 L795.9,483.5 L800.6,433.8 L805.4,391.2 L810.1,367.8 L814.9,360.4 L819.7,354.6 L824.4,343.3 L829.2,333.5 L833.9,326.7 L838.7,328.0 L843.4,334.0 L848.2,328.3 L852.9,310.7 L857.7,295.8 L862.4,293.9 L867.2,301.8 L871.9,308.0 L876.7,298.8 L881.4,279.7 L886.2,264.2 L891.0,260.7 L895.7,269.5 L900.5,283.2 L905.2,292.7 L910.0,297.6 L914.7,302.6 L919.5,313.9 L924.2,318.4 L929.0,308.0 L933.7,301.2 L938.5,304.8 L943.2,309.3 L948.0,306.6 L952.7,302.0 L957.5,293.1 L962.2,285.5 L967.0,282.6"/>
<path d="M87.7,458.4 L92.4,457.9 L97.2,457.1 L102.0,456.4 L106.7,455.9 L111.5,454.8 L116.2,453.4 L121.0,452.5 L125.7,452.2 L130.5,451.8 L135.2,450.7 L140.0,449.1 L144.7,447.5 L149.5,446.2 L154.2,445.5 L159.0,444.9 L163.7,443.8 L168.5,442.0 L173.2,440.0 L178.0,438.6 L182.8,438.0 L187.5,437.7 L192.3,436.3 L197.0,434.1 L201.8,431.4 L206.5,428.7 L211.3,426.3 L216.0,424.8 L220.8,424.1 L225.5,423.4 L230.3,422.0 L235.0,420.5 L239.8,419.3 L244.5,418.0 L249.3,416.3 L254.0,414.4 L258.8,412.0 L263.6,410.1 L268.3,409.0 L273.1,408.4 L277.8,408.5 L282.6,408.1 L287.3,405.1 L292.1,400.4 L296.8,397.0 L301.6,396.6 L306.3,397.1 L311.1,396.1 L315.8,393.4 L320.6,391.3 L325.3,389.9 L330.1,388.6 L334.8,389.2 L339.6,391.2 L344.4,391.0 L349.1,387.5 L353.9,382.4 L358.6,378.7 L363.4,377.3 L368.1,375.6 L372.9,372.5 L377.6,369.3 L382.4,367.4 L387.1,367.3 L391.9,368.9 L396.6,368.8 L401.4,364.2 L406.1,358.4 L410.9,356.0 L415.7,357.9 L420.4,363.6 L425.2,369.9 L429.9,370.4 L434.7,367.7 L439.4,363.4 L444.2,357.0 L448.9,350.5 L453.7,348.5 L458.4,351.9 L463.2,355.4 L467.9,354.4 L472.7,353.7 L477.4,349.1 L482.2,338.5 L486.9,328.7 L491.7,324.1 L496.5,323.7 L501.2,324.2 L506.0,324.7 L510.7,325.8 L515.5,324.1 L520.2,318.3 L525.0,311.9 L529.7,306.3 L534.5,300.7 L539.2,296.6 L544.0,296.7 L548.7,297.9 L553.5,298.6 L558.2,296.8 L563.0,288.6 L567.7,280.3 L572.5,274.8 L577.3,268.2 L582.0,264.4 L586.8,266.1 L591.5,272.1 L596.3,281.8 L601.0,292.9 L605.8,302.7 L610.5,307.6 L615.3,305.4 L620.0,297.4 L624.8,290.4 L629.5,287.0 L634.3,284.3 L639.0,286.9 L643.8,293.3 L648.5,292.1 L653.3,284.8 L658.1,276.6 L662.8,262.9 L667.6,245.3 L672.3,234.2 L677.1,232.9 L681.8,239.3 L686.6,249.3 L691.3,256.5 L696.1,252.7 L700.8,242.4 L705.6,236.6 L710.3,240.0 L715.1,252.3 L719.8,263.1 L724.6,262.2 L729.3,258.7 L734.1,268.1 L738.9,285.8 L743.6,299.0 L748.4,302.4 L753.1,301.0 L757.9,305.3 L762.6,316.4 L767.4,331.4 L772.1,339.9 L776.9,342.3 L781.6,338.1 L786.4,334.0 L791.1,333.7 L795.9,343.8 L800.6,361.7 L805.4,371.9 L810.1,375.8 L814.9,390.3 L819.7,416.5 L824.4,438.2 L829.2,441.2 L833.9,426.0 L838.7,407.9 L843.4,401.9 L848.2,402.4 L852.9,397.5 L857.7,388.4 L862.4,382.7 L867.2,378.7 L871.9,364.0 L876.7,340.3 L881.4,325.8 L886.2,323.3 L891.0,312.9 L895.7,306.0 L900.5,292.4 L905.2,270.5 L910.0,256.2 L914.7,253.3 L919.5,257.5 L924.2,264.7 L929.0,267.0 L933.7,260.0 L938.5,251.6 L943.2,247.2 L948.0,244.3 L952.7,246.7 L957.5,249.5 L962.2,242.9 L967.0,235.9"/>
<path d="M87.7,459.7 L92.4,458.9 L97.2,457.7 L102.0,456.3 L106.7,455.2 L111.5,454.5 L116.2,454.3 L121.0,454.0 L125.7,452.9 L130.5,450.8 L135.2,448.9 L140.0,448.3 L144.7,448.3 L149.5,447.6 L154.2,446.1 L159.0,445.0 L163.7,444.1 L168.5,442.9 L173.2,441.2 L178.0,439.4 L182.8,437.8 L187.5,436.0 L192.3,433.1 L197.0,431.0 L201.8,430.4 L206.5,429.3 L211.3,427.5 L216.0,425.3 L220.8,423.7 L225.5,422.2 L230.3,419.1 L235.0,415.1 L239.8,412.4 L244.5,411.9 L249.3,412.5 L254.0,412.5 L258.8,411.3 L263.6,410.2 L268.3,409.0 L273.1,407.2 L277.8,406.2 L282.6,405.6 L287.3,404.9 L292.1,404.2 L296.8,404.0 L301.6,405.7 L306.3,408.4 L311.1,408.9 L315.8,407.0 L320.6,404.7 L325.3,403.6 L330.1,403.8 L334.8,404.5 L339.6,403.2 L344.4,399.3 L349.1,394.8 L353.9,389.0 L358.6,384.6 L363.4,386.8 L368.1,393.1 L372.9,397.6 L377.6,400.1 L382.4,402.2 L387.1,403.0 L391.9,402.9 L396.6,403.6 L401.4,402.0 L406.1,395.9 L410.9,389.7 L415.7,385.4 L420.4,379.7 L425.2,373.3 L429.9,369.3 L434.7,367.3 L439.4,366.8 L444.2,366.2 L448.9,362.9 L453.7,356.3 L458.4,350.1 L463.2,348.5 L467.9,350.5 L472.7,353.5 L477.4,353.4 L482.2,347.1 L486.9,343.2 L491.7,345.8 L496.5,346.7 L501.2,343.9 L506.0,342.8 L510.7,346.2 L515.5,350.9 L520.2,353.1 L525.0,355.5 L529.7,361.4 L534.5,365.6 L539.2,361.5 L544.0,355.6 L548.7,359.6 L553.5,370.1 L558.2,379.0 L563.0,385.8 L567.7,388.4 L572.5,384.5 L577.3,377.9 L582.0,375.0 L586.8,372.3 L591.5,364.5 L596.3,358.0 L601.0,351.3 L605.8,336.5 L610.5,321.8 L615.3,316.8 L620.0,314.2 L624.8,312.4 L629.5,311.8 L634.3,307.1 L639.0,301.0 L643.8,296.4 L648.5,289.7 L653.3,281.7 L658.1,275.6 L662.8,269.7 L667.6,263.5 L672.3,260.8 L677.1,261.6 L681.8,265.8 L686.6,277.8 L691.3,293.8 L696.1,303.1 L700.8,308.3 L705.6,317.0 L710.3,328.1 L715.1,332.8 L719.8,336.8 L724.6,341.7 L729.3,345.6 L734.1,344.0 L738.9,335.2 L743.6,324.7 L748.4,325.6 L753.1,332.9 L757.9,332.2 L762.6,326.6 L767.4,322.0 L772.1,306.6 L776.9,289.2 L781.6,273.9 L786.4,270.4 L791.1,276.2 L795.9,281.7 L800.6,281.0 L805.4,276.2 L810.1,266.5 L814.9,245.2 L819.7,225.7 L824.4,230.1 L829.2,251.5 L833.9,263.9 L838.7,265.6 L843.4,271.8 L848.2,293.0 L852.9,328.7 L857.7,344.0 L862.4,350.9 L867.2,347.1 L871.9,351.1 L876.7,372.7 L881.4,397.8 L886.2,421.3 L891.0,443.1 L895.7,456.4 L900.5,459.3 L905.2,454.2 L910.0,449.7 L914.7,451.4 L919.5,455.9 L924.2,458.3 L929.0,451.9 L933.7,439.5 L938.5,429.2 L943.2,421.6 L948.0,415.2 L952.7,409.7 L957.5,404.1 L962.2,398.1 L967.0,393.9"/>
<path d="M87.7,458.0 L92.4,456.4 L97.2,454.2 L102.0,452.5 L106.7,452.0 L111.5,451.8 L116.2,450.7 L121.0,449.5 L125.7,449.1 L130.5,448.8 L135.2,448.0 L140.0,447.1 L144.7,446.8 L149.5,446.1 L154.2,444.8 L159.0,443.2 L163.7,441.7 L168.5,440.2 L173.2,439.7 L178.0,439.3 L182.8,439.1 L187.5,439.2 L192.3,439.2 L197.0,438.3 L201.8,436.2 L206.5,433.6 L211.3,431.5 L216.0,429.0 L220.8,426.3 L225.5,425.0 L230.3,424.4 L235.0,422.0 L239.8,417.7 L244.5,414.4 L249.3,412.3 L254.0,411.5 L258.8,409.4 L263.6,405.1 L268.3,402.1 L273.1,402.3 L277.8,403.6 L282.6,404.8 L287.3,406.0 L292.1,405.2 L296.8,401.5 L301.6,397.4 L306.3,396.5 L311.1,399.1 L315.8,401.4 L320.6,401.6 L325.3,401.3 L330.1,401.0 L334.8,399.6 L339.6,395.5 L344.4,390.3 L349.1,386.6 L353.9,384.4 L358.6,385.6 L363.4,390.5 L368.1,394.9 L372.9,394.4 L377.6,388.9 L382.4,382.6 L387.1,380.3 L391.9,381.2 L396.6,381.1 L401.4,380.4 L406.1,380.9 L410.9,380.1 L415.7,379.4 L420.4,382.2 L425.2,385.1 L429.9,387.4 L434.7,393.2 L439.4,401.2 L444.2,404.4 L448.9,398.8 L453.7,389.2 L458.4,384.6 L463.2,382.8 L467.9,377.4 L472.7,371.5 L477.4,370.7 L482.2,373.0 L486.9,369.7 L491.7,359.1 L496.5,346.8 L501.2,333.5 L506.0,326.6 L510.7,323.5 L515.5,321.0 L520.2,317.8 L525.0,313.0 L529.7,311.4 L534.5,314.0 L539.2,314.0 L544.0,309.0 L548.7,300.2 L553.5,293.6 L558.2,294.2 L563.0,296.8 L567.7,294.4 L572.5,286.4 L577.3,283.4 L582.0,290.6 L586.8,296.1 L591.5,291.6 L596.3,284.4 L601.0,279.5 L605.8,275.3 L610.5,274.2 L615.3,277.5 L620.0,284.0 L624.8,290.4 L629.5,295.3 L634.3,299.1 L639.0,295.5 L643.8,284.6 L648.5,279.7 L653.3,284.4 L658.1,289.8 L662.8,290.6 L667.6,292.5 L672.3,301.6 L677.1,307.0 L681.8,301.1 L686.6,293.4 L691.3,292.8 L696.1,296.0 L700.8,298.1 L705.6,297.2 L710.3,294.1 L715.1,288.8 L719.8,276.7 L724.6,260.1 L729.3,253.2 L734.1,254.4 L738.9,254.8 L743.6,255.3 L748.4,254.7 L753.1,253.8 L757.9,255.1 L762.6,260.6 L767.4,267.7 L772.1,273.4 L776.9,280.7 L781.6,283.0 L786.4,272.8 L791.1,263.3 L795.9,265.9 L800.6,272.5 L805.4,273.2 L810.1,262.7 L814.9,249.9 L819.7,247.5 L824.4,247.5 L829.2,240.3 L833.9,229.7 L838.7,229.9 L843.4,252.0 L848.2,277.5 L852.9,291.7 L857.7,312.4 L862.4,332.0 L867.2,350.6 L871.9,357.0 L876.7,356.8 L881.4,364.7 L886.2,374.9 L891.0,384.1 L895.7,402.8 L900.5,422.4 L905.2,421.8 L910.0,400.4 L914.7,380.7 L919.5,380.2 L924.2,386.2 L929.0,388.8 L933.7,396.2 L938.5,398.8 L943.2,383.7 L948.0,366.0 L952.7,359.0 L957.5,357.7 L962.2,359.4 L967.0,364.8"/>
<path d="M87.7,459.6 L92.4,458.4 L97.2,456.7 L102.0,455.5 L106.7,454.7 L111.5,454.0 L116.2,453.5 L121.0,453.2 L125.7,453.2 L130.5,452.5 L135.2,451.2 L140.0,450.4 L144.7,450.2 L149.5,450.0 L154.2,448.6 L159.0,445.6 L163.7,443.0 L168.5,443.0 L173.2,444.2 L178.0,443.4 L182.8,440.2 L187.5,436.8 L192.3,434.4 L197.0,430.8 L201.8,427.8 L206.5,427.1 L211.3,427.7 L216.0,426.7 L220.8,423.6 L225.5,420.7 L230.3,418.4 L235.0,414.7 L239.8,411.3 L244.5,410.4 L249.3,411.5 L254.0,412.2 L258.8,411.5 L263.6,409.8 L268.3,408.0 L273.1,406.2 L277.8,405.9 L282.6,408.1 L287.3,408.8 L292.1,407.3 L296.8,406.9 L301.6,408.5 L306.3,409.2 L311.1,406.5 L315.8,401.4 L320.6,395.8 L325.3,392.1 L330.1,391.5 L334.8,392.4 L339.6,392.8 L344.4,393.7 L349.1,394.8 L353.9,394.7 L358.6,393.4 L363.4,391.8 L368.1,389.2 L372.9,385.9 L377.6,382.3 L382.4,379.5 L387.1,378.9 L391.9,379.1 L396.6,380.2 L401.4,381.6 L406.1,381.3 L410.9,378.3 L415.7,375.2 L420.4,374.7 L425.2,373.5 L429.9,371.4 L434.7,371.3 L439.4,372.4 L444.2,370.0 L448.9,362.2 L453.7,355.4 L458.4,356.8 L463.2,365.1 L467.9,372.0 L472.7,373.0 L477.4,372.2 L482.2,372.4 L486.9,371.9 L491.7,370.6 L496.5,368.8 L501.2,369.2 L506.0,373.5 L510.7,374.8 L515.5,370.6 L520.2,369.5 L525.0,375.2 L529.7,377.1 L534.5,368.9 L539.2,359.8 L544.0,350.9 L548.7,336.7 L553.5,324.0 L558.2,319.8 L563.0,319.2 L567.7,318.6 L572.5,318.3 L577.3,315.8 L582.0,311.9 L586.8,309.3 L591.5,312.0 L596.3,319.4 L601.0,325.0 L605.8,321.1 L610.5,303.1 L615.3,283.3 L620.0,281.7 L624.8,292.2 L629.5,299.2 L634.3,304.4 L639.0,311.0 L643.8,307.8 L648.5,295.3 L653.3,283.9 L658.1,274.1 L662.8,266.0 L667.6,257.4 L672.3,243.1 L677.1,230.5 L681.8,228.1 L686.6,230.1 L691.3,232.3 L696.1,235.3 L700.8,239.0 L705.6,243.0 L710.3,238.5 L715.1,230.5 L719.8,233.4 L724.6,238.2 L729.3,233.1 L734.1,231.4 L738.9,244.2 L743.6,255.6 L748.4,256.3 L753.1,259.3 L757.9,265.3 L762.6,268.6 L767.4,272.6 L772.1,281.5 L776.9,288.9 L781.6,285.0 L786.4,277.1 L791.1,271.1 L795.9,264.4 L800.6,264.1 L805.4,269.4 L810.1,272.1 L814.9,270.7 L819.7,268.9 L824.4,270.5 L829.2,280.4 L833.9,296.7 L838.7,309.4 L843.4,315.9 L848.2,326.1 L852.9,337.6 L857.7,332.5 L862.4,327.9 L867.2,322.1 L871.9,316.6 L876.7,320.7 L881.4,332.1 L886.2,342.6 L891.0,353.0 L895.7,356.1 L900.5,352.0 L905.2,346.6 L910.0,339.1 L914.7,328.4 L919.5,322.3 L924.2,316.5 L929.0,316.9 L933.7,315.5 L938.5,304.8 L943.2,285.8 L948.0,265.8 L952.7,258.9 L957.5,269.9 L962.2,282.9 L967.0,291.4"/>
<path d="M87.7,457.7 L92.4,456.6 L97.2,456.0 L102.0,455.9 L106.7,455.4 L111.5,454.2 L116.2,453.2 L121.0,452.8 L125.7,452.4 L130.5,451.4 L135.2,450.3 L140.0,449.6 L144.7,448.4 L149.5,446.2 L154.2,444.4 L159.0,443.8 L163.7,443.2 L168.5,441.5 L173.2,438.5 L178.0,435.1 L182.8,432.1 L187.5,429.6 L192.3,427.7 L197.0,426.8 L201.8,426.6 L206.5,425.6 L211.3,423.4 L216.0,421.8 L220.8,421.6 L225.5,421.5 L230.3,419.8 L235.0,417.7 L239.8,416.2 L244.5,414.6 L249.3,414.1 L254.0,415.4 L258.8,417.0 L263.6,417.6 L268.3,416.8 L273.1,414.2 L277.8,410.2 L282.6,408.0 L287.3,408.3 L292.1,409.3 L296.8,409.3 L301.6,407.7 L306.3,405.8 L311.1,406.5 L315.8,409.6 L320.6,410.0 L325.3,407.4 L330.1,405.7 L334.8,404.1 L339.6,400.2 L344.4,397.5 L349.1,399.1 L353.9,402.1 L358.6,401.4 L363.4,397.2 L368.1,394.4 L372.9,395.9 L377.6,397.1 L382.4,394.1 L387.1,390.0 L391.9,386.0 L396.6,381.8 L401.4,379.6 L406.1,377.3 L410.9,372.9 L415.7,370.0 L420.4,367.8 L425.2,366.5 L429.9,365.3 L434.7,364.4 L439.4,362.6 L444.2,358.7 L448.9,359.9 L453.7,366.8 L458.4,373.4 L463.2,374.3 L467.9,373.2 L472.7,375.6 L477.4,377.4 L482.2,376.9 L486.9,379.2 L491.7,382.6 L496.5,379.1 L501.2,369.3 L506.0,362.1 L510.7,359.5 L515.5,360.8 L520.2,363.1 L525.0,359.5 L529.7,352.1 L534.5,349.6 L539.2,352.4 L544.0,359.2 L548.7,370.7 L553.5,381.3 L558.2,391.4 L563.0,405.0 L567.7,416.0 L572.5,419.5 L577.3,422.9 L582.0,426.2 L586.8,420.7 L591.5,412.2 L596.3,412.7 L601.0,421.2 L605.8,425.6 L610.5,420.9 L615.3,408.5 L620.0,391.4 L624.8,376.8 L629.5,372.8 L634.3,378.1 L639.0,382.9 L643.8,376.4 L648.5,357.1 L653.3,340.5 L658.1,336.9 L662.8,337.6 L667.6,336.5 L672.3,340.4 L677.1,337.0 L681.8,322.6 L686.6,300.0 L691.3,278.0 L696.1,268.5 L700.8,272.9 L705.6,285.4 L710.3,298.3 L715.1,312.5 L719.8,330.5 L724.6,336.3 L729.3,326.4 L734.1,316.3 L738.9,318.1 L743.6,334.9 L748.4,347.5 L753.1,341.7 L757.9,332.6 L762.6,332.1 L767.4,330.9 L772.1,321.3 L776.9,303.5 L781.6,293.1 L786.4,305.9 L791.1,330.6 L795.9,335.9 L800.6,332.7 L805.4,326.5 L810.1,328.7 L814.9,344.9 L819.7,358.8 L824.4,363.5 L829.2,369.9 L833.9,379.0 L838.7,384.8 L843.4,382.9 L848.2,371.5 L852.9,361.9 L857.7,365.7 L862.4,373.2 L867.2,378.7 L871.9,385.0 L876.7,391.8 L881.4,398.0 L886.2,394.7 L891.0,376.7 L895.7,358.6 L900.5,356.8 L905.2,361.3 L910.0,356.5 L914.7,349.0 L919.5,350.1 L924.2,353.5 L929.0,350.2 L933.7,339.4 L938.5,326.3 L943.2,319.7 L948.0,315.2 L952.7,303.5 L957.5,284.8 L962.2,282.4 L967.0,297.2"/>
<path d="M87.7,458.4 L92.4,457.6 L97.2,456.8 L102.0,455.8 L106.7,454.7 L111.5,454.3 L116.2,454.1 L121.0,453.1 L125.7,451.8 L130.5,450.9 L135.2,450.1 L140.0,448.9 L144.7,447.9 L149.5,447.9 L154.2,447.4 L159.0,445.3 L163.7,443.2 L168.5,442.5 L173.2,442.0 L178.0,440.3 L182.8,436.7 L187.5,433.7 L192.3,432.5 L197.0,431.9 L201.8,430.6 L206.5,427.5 L211.3,423.5 L216.0,420.6 L220.8,419.4 L225.5,418.1 L230.3,415.3 L235.0,411.9 L239.8,410.0 L244.5,410.3 L249.3,411.3 L254.0,410.9 L258.8,408.7 L263.6,405.6 L268.3,402.3 L273.1,400.2 L277.8,399.5 L282.6,399.2 L287.3,399.4 L292.1,400.7 L296.8,403.0 L301.6,404.2 L306.3,405.2 L311.1,405.5 L315.8,406.0 L320.6,405.7 L325.3,403.4 L330.1,400.4 L334.8,398.6 L339.6,397.7 L344.4,397.3 L349.1,398.4 L353.9,401.2 L358.6,402.6 L363.4,399.5 L368.1,393.0 L372.9,388.5 L377.6,388.9 L382.4,391.6 L387.1,393.2 L391.9,393.5 L396.6,394.9 L401.4,397.3 L406.1,399.2 L410.9,400.4 L415.7,398.7 L420.4,394.5 L425.2,390.7 L429.9,386.1 L434.7,379.2 L439.4,372.9 L444.2,371.2 L448.9,372.4 L453.7,371.5 L458.4,367.6 L463.2,362.6 L467.9,358.1 L472.7,352.1 L477.4,344.4 L482.2,340.9 L486.9,342.7 L491.7,342.3 L496.5,337.0 L501.2,336.0 L506.0,338.0 L510.7,336.5 L515.5,331.6 L520.2,331.2 L525.0,332.5 L529.7,327.0 L534.5,316.0 L539.2,307.5 L544.0,306.2 L548.7,303.7 L553.5,300.9 L558.2,307.2 L563.0,317.3 L567.7,321.9 L572.5,318.6 L577.3,309.7 L582.0,302.9 L586.8,303.6 L591.5,306.9 L596.3,307.4 L601.0,307.4 L605.8,312.6 L610.5,322.3 L615.3,333.2 L620.0,341.4 L624.8,337.5 L629.5,324.6 L634.3,314.2 L639.0,315.8 L643.8,326.3 L648.5,337.9 L653.3,345.3 L658.1,354.8 L662.8,369.7 L667.6,381.2 L672.3,384.4 L677.1,387.4 L681.8,392.3 L686.6,390.9 L691.3,380.8 L696.1,363.8 L700.8,344.6 L705.6,332.2 L710.3,330.2 L715.1,322.7 L719.8,311.2 L724.6,298.3 L729.3,288.6 L734.1,282.3 L738.9,279.5 L743.6,273.7 L748.4,265.3 L753.1,264.5 L757.9,274.0 L762.6,286.3 L767.4,297.0 L772.1,306.0 L776.9,316.3 L781.6,319.4 L786.4,319.8 L791.1,319.6 L795.9,320.1 L800.6,317.0 L805.4,318.3 L810.1,332.0 L814.9,350.3 L819.7,362.7 L824.4,371.0 L829.2,382.1 L833.9,390.8 L838.7,390.6 L843.4,380.8 L848.2,366.3 L852.9,356.6 L857.7,356.2 L862.4,354.0 L867.2,341.5 L871.9,325.9 L876.7,319.0 L881.4,320.6 L886.2,317.7 L891.0,313.4 L895.7,317.4 L900.5,323.5 L905.2,326.2 L910.0,326.6 L914.7,317.4 L919.5,302.0 L924.2,299.4 L929.0,306.8 L933.7,310.9 L938.5,302.0 L943.2,290.8 L948.0,295.1 L952.7,310.6 L957.5,322.4 L962.2,320.6 L967.0,308.8"/>
<path d="M87.7,460.6 L92.4,459.9 L97.2,458.9 L102.0,457.8 L106.7,456.8 L111.5,455.8 L116.2,454.9 L121.0,454.1 L125.7,453.3 L130.5,452.8 L135.2,452.1 L140.0,451.3 L144.7,450.9 L149.5,449.9 L154.2,448.2 L159.0,447.1 L163.7,446.5 L168.5,445.1 L173.2,442.2 L178.0,439.1 L182.8,437.3 L187.5,437.3 L192.3,437.7 L197.0,437.5 L201.8,436.6 L206.5,434.7 L211.3,431.5 L216.0,428.7 L220.8,427.4 L225.5,425.7 L230.3,422.7 L235.0,421.7 L239.8,422.8 L244.5,424.7 L249.3,426.1 L254.0,424.8 L258.8,420.9 L263.6,417.4 L268.3,415.9 L273.1,415.0 L277.8,414.0 L282.6,413.0 L287.3,412.9 L292.1,415.1 L296.8,416.9 L301.6,414.7 L306.3,409.0 L311.1,405.4 L315.8,406.4 L320.6,406.1 L325.3,401.9 L330.1,398.5 L334.8,397.0 L339.6,395.8 L344.4,394.0 L349.1,391.6 L353.9,390.1 L358.6,390.1 L363.4,391.3 L368.1,393.8 L372.9,395.8 L377.6,396.7 L382.4,398.5 L387.1,400.6 L391.9,401.9 L396.6,400.7 L401.4,395.8 L406.1,388.8 L410.9,382.4 L415.7,379.9 L420.4,382.0 L425.2,383.4 L429.9,377.8 L434.7,369.3 L439.4,362.9 L444.2,358.7 L448.9,355.7 L453.7,355.1 L458.4,353.3 L463.2,348.8 L467.9,345.9 L472.7,345.6 L477.4,346.8 L482.2,347.5 L486.9,348.5 L491.7,348.8 L496.5,352.1 L501.2,358.9 L506.0,361.9 L510.7,357.2 L515.5,351.4 L520.2,350.3 L525.0,351.0 L529.7,349.3 L534.5,341.8 L539.2,330.1 L544.0,318.1 L548.7,314.2 L553.5,319.4 L558.2,326.8 L563.0,321.6 L567.7,310.5 L572.5,311.1 L577.3,320.9 L582.0,330.9 L586.8,335.1 L591.5,333.0 L596.3,333.4 L601.0,335.5 L605.8,336.9 L610.5,339.0 L615.3,342.0 L620.0,342.6 L624.8,341.9 L629.5,346.8 L634.3,354.5 L639.0,359.7 L643.8,357.4 L648.5,346.8 L653.3,338.7 L658.1,337.5 L662.8,336.7 L667.6,331.5 L672.3,324.5 L677.1,304.1 L681.8,288.7 L686.6,280.3 L691.3,273.8 L696.1,270.7 L700.8,275.7 L705.6,286.6 L710.3,297.2 L715.1,299.8 L719.8,291.6 L724.6,286.7 L729.3,300.1 L734.1,331.0 L738.9,356.1 L743.6,361.3 L748.4,368.5 L753.1,385.4 L757.9,402.1 L762.6,406.3 L767.4,399.6 L772.1,401.0 L776.9,422.9 L781.6,443.1 L786.4,438.9 L791.1,424.6 L795.9,423.7 L800.6,438.6 L805.4,454.3 L810.1,450.1 L814.9,436.2 L819.7,430.4 L824.4,428.2 L829.2,425.3 L833.9,418.7 L838.7,411.6 L843.4,409.3 L848.2,412.4 L852.9,416.7 L857.7,408.7 L862.4,395.3 L867.2,402.8 L871.9,429.2 L876.7,443.5 L881.4,445.1 L886.2,451.2 L891.0,455.0 L895.7,453.2 L900.5,456.6 L905.2,472.3 L910.0,493.2 L914.7,505.5 L919.5,512.8 L924.2,511.2 L929.0,478.7 L933.7,429.6 L938.5,395.3 L943.2,381.2 L948.0,376.7 L952.7,368.8 L957.5,351.9 L962.2,333.9 L967.0,328.3"/>
<path d="M87.7,458.9 L92.4,457.9 L97.2,456.3 L102.0,454.8 L106.7,453.5 L111.5,452.2 L116.2,451.1 L121.0,450.4 L125.7,449.9 L130.5,449.5 L135.2,448.5 L140.0,447.3 L144.7,446.3 L149.5,446.0 L154.2,445.5 L159.0,444.6 L163.7,443.9 L168.5,443.5 L173.2,443.7 L178.0,443.2 L182.8,441.3 L187.5,440.5 L192.3,441.1 L197.0,440.4 L201.8,438.2 L206.5,435.8 L211.3,433.9 L216.0,432.7 L220.8,430.8 L225.5,427.8 L230.3,425.7 L235.0,424.9 L239.8,422.8 L244.5,418.8 L249.3,413.9 L254.0,410.4 L258.8,407.9 L263.6,405.7 L268.3,402.8 L273.1,399.4 L277.8,397.9 L282.6,399.2 L287.3,401.4 L292.1,401.7 L296.8,400.0 L301.6,398.8 L306.3,398.5 L311.1,397.1 L315.8,395.1 L320.6,394.5 L325.3,393.9 L330.1,390.2 L334.8,385.5 L339.6,383.9 L344.4,386.4 L349.1,390.8 L353.9,394.1 L358.6,394.0 L363.4,394.8 L368.1,396.2 L372.9,395.6 L377.6,394.4 L382.4,394.5 L387.1,394.1 L391.9,392.1 L396.6,389.6 L401.4,386.4 L406.1,382.0 L410.9,378.9 L415.7,378.7 L420.4,377.4 L425.2,375.4 L429.9,377.4 L434.7,379.8 L439.4,377.2 L444.2,373.3 L448.9,370.4 L453.7,365.7 L458.4,361.9 L463.2,361.9 L467.9,365.2 L472.7,368.4 L477.4,366.0 L482.2,359.6 L486.9,355.0 L491.7,351.8 L496.5,346.6 L501.2,339.3 L506.0,332.4 L510.7,326.1 L515.5,322.4 L520.2,319.6 L525.0,317.5 L529.7,312.2 L534.5,304.6 L539.2,299.5 L544.0,298.1 L548.7,297.8 L553.5,294.8 L558.2,290.5 L563.0,291.6 L567.7,297.7 L572.5,300.0 L577.3,297.1 L582.0,293.9 L586.8,290.2 L591.5,288.6 L596.3,295.2 L601.0,304.5 L605.8,305.2 L610.5,298.3 L615.3,293.9 L620.0,299.1 L624.8,307.1 L629.5,310.9 L634.3,314.8 L639.0,320.5 L643.8,324.7 L648.5,325.5 L653.3,323.4 L658.1,324.4 L662.8,334.6 L667.6,347.9 L672.3,350.2 L677.1,346.4 L681.8,344.0 L686.6,336.5 L691.3,327.2 L696.1,322.3 L700.8,320.5 L705.6,319.1 L710.3,317.0 L715.1,310.9 L719.8,303.6 L724.6,299.3 L729.3,296.2 L734.1,295.8 L738.9,297.5 L743.6,293.5 L748.4,281.5 L753.1,270.8 L757.9,267.0 L762.6,267.9 L767.4,272.4 L772.1,275.0 L776.9,273.3 L781.6,275.9 L786.4,291.4 L791.1,308.6 L795.9,315.3 L800.6,323.3 L805.4,340.1 L810.1,344.1 L814.9,339.7 L819.7,336.4 L824.4,351.2 L829.2,374.2 L833.9,380.7 L838.7,379.3 L843.4,383.1 L848.2,386.2 L852.9,386.0 L857.7,390.7 L862.4,397.9 L867.2,398.6 L871.9,388.6 L876.7,369.4 L881.4,347.7 L886.2,333.8 L891.0,328.5 L895.7,322.3 L900.5,319.7 L905.2,315.5 L910.0,296.1 L914.7,278.5 L919.5,265.9 L924.2,255.4 L929.0,245.1 L933.7,239.5 L938.5,236.3 L943.2,227.3 L948.0,220.0 L952.7,224.2 L957.5,233.8 L962.2,246.2 L967.0,266.5"/>
<path d="M87.7,457.4 L92.4,456.9 L97.2,456.4 L102.0,455.2 L106.7,453.5 L111.5,452.0 L116.2,451.0 L121.0,450.0 L125.7,448.9 L130.5,448.5 L135.2,448.5 L140.0,447.3 L144.7,444.8 L149.5,442.9 L154.2,442.4 L159.0,442.6 L163.7,442.3 L168.5,441.3 L173.2,439.9 L178.0,439.7 L182.8,439.6 L187.5,438.6 L192.3,437.0 L197.0,435.4 L201.8,433.3 L206.5,430.8 L211.3,428.7 L216.0,427.2 L220.8,426.1 L225.5,424.1 L230.3,421.7 L235.0,420.1 L239.8,418.1 L244.5,415.6 L249.3,414.7 L254.0,414.3 L258.8,412.6 L263.6,410.8 L268.3,409.8 L273.1,408.5 L277.8,406.9 L282.6,406.9 L287.3,409.0 L292.1,411.8 L296.8,414.2 L301.6,416.0 L306.3,416.6 L311.1,415.2 L315.8,411.8 L320.6,407.8 L325.3,407.4 L330.1,409.8 L334.8,409.3 L339.6,405.2 L344.4,401.2 L349.1,398.8 L353.9,397.2 L358.6,395.5 L363.4,392.9 L368.1,390.4 L372.9,387.1 L377.6,381.8 L382.4,377.0 L387.1,374.4 L391.9,374.3 L396.6,375.6 L401.4,376.6 L406.1,376.7 L410.9,375.7 L415.7,374.0 L420.4,371.8 L425.2,370.0 L429.9,369.6 L434.7,369.7 L439.4,369.0 L444.2,368.0 L448.9,366.7 L453.7,365.9 L458.4,364.5 L463.2,358.8 L467.9,351.1 L472.7,344.7 L477.4,339.8 L482.2,334.5 L486.9,330.5 L491.7,326.8 L496.5,326.1 L501.2,327.7 L506.0,328.4 L510.7,327.4 L515.5,325.2 L520.2,318.1 L525.0,307.8 L529.7,303.0 L534.5,303.7 L539.2,302.7 L544.0,299.9 L548.7,297.0 L553.5,294.5 L558.2,294.3 L563.0,296.6 L567.7,304.7 L572.5,322.7 L577.3,339.8 L582.0,345.1 L586.8,341.5 L591.5,337.2 L596.3,336.2 L601.0,333.4 L605.8,322.8 L610.5,313.3 L615.3,311.2 L620.0,314.5 L624.8,308.4 L629.5,289.7 L634.3,276.5 L639.0,277.4 L643.8,280.2 L648.5,279.5 L653.3,274.1 L658.1,259.6 L662.8,241.1 L667.6,231.4 L672.3,232.3 L677.1,236.5 L681.8,239.1 L686.6,237.5 L691.3,234.3 L696.1,234.2 L700.8,240.4 L705.6,252.7 L710.3,267.3 L715.1,276.6 L719.8,279.8 L724.6,288.4 L729.3,302.5 L734.1,311.9 L738.9,319.6 L743.6,333.6 L748.4,350.4 L753.1,354.5 L757.9,355.0 L762.6,352.2 L767.4,348.8 L772.1,351.5 L776.9,360.1 L781.6,367.8 L786.4,373.7 L791.1,376.3 L795.9,372.8 L800.6,366.4 L805.4,366.1 L810.1,371.2 L814.9,370.7 L819.7,365.2 L824.4,362.7 L829.2,360.1 L833.9,351.0 L838.7,341.1 L843.4,342.0 L848.2,354.8 L852.9,364.1 L857.7,360.5 L862.4,351.9 L867.2,346.6 L871.9,344.3 L876.7,335.2 L881.4,318.1 L886.2,311.6 L891.0,321.5 L895.7,329.5 L900.5,331.4 L905.2,332.7 L910.0,327.6 L914.7,320.6 L919.5,326.5 L924.2,336.2 L929.0,339.6 L933.7,344.7 L938.5,350.3 L943.2,348.0 L948.0,340.6 L952.7,335.4 L957.5,335.4 L962.2,336.4 L967.0,334.3"/>
<path d="M87.7,459.6 L92.4,459.0 L97.2,458.7 L102.0,458.0 L106.7,457.0 L111.5,456.0 L116.2,455.5 L121.0,455.6 L125.7,455.2 L130.5,453.5 L135.2,452.1 L140.0,451.5 L144.7,450.0 L149.5,447.7 L154.2,446.2 L159.0,445.0 L163.7,443.3 L168.5,441.5 L173.2,439.1 L178.0,436.4 L182.8,434.6 L187.5,433.3 L192.3,432.8 L197.0,432.6 L201.8,430.8 L206.5,428.7 L211.3,428.1 L216.0,427.6 L220.8,426.3 L225.5,424.1 L230.3,422.0 L235.0,420.2 L239.8,418.3 L244.5,416.6 L249.3,415.6 L254.0,414.3 L258.8,411.2 L263.6,408.5 L268.3,408.2 L273.1,409.1 L277.8,408.8 L282.6,406.3 L287.3,403.2 L292.1,401.8 L296.8,401.6 L301.6,400.6 L306.3,398.4 L311.1,396.5 L315.8,396.0 L320.6,394.9 L325.3,393.5 L330.1,394.4 L334.8,395.4 L339.6,393.7 L344.4,390.6 L349.1,387.4 L353.9,384.2 L358.6,383.3 L363.4,386.4 L368.1,390.0 L372.9,390.2 L377.6,389.1 L382.4,389.1 L387.1,389.5 L391.9,390.4 L396.6,391.7 L401.4,392.6 L406.1,395.0 L410.9,397.8 L415.7,397.0 L420.4,394.3 L425.2,391.5 L429.9,389.7 L434.7,386.6 L439.4,379.7 L444.2,374.1 L448.9,374.1 L453.7,375.4 L458.4,376.6 L463.2,380.1 L467.9,382.3 L472.7,379.7 L477.4,374.3 L482.2,370.6 L486.9,372.8 L491.7,378.8 L496.5,379.7 L501.2,371.2 L506.0,359.6 L510.7,349.5 L515.5,340.9 L520.2,335.3 L525.0,330.0 L529.7,329.4 L534.5,333.3 L539.2,334.3 L544.0,327.5 L548.7,316.4 L553.5,307.5 L558.2,299.8 L563.0,291.9 L567.7,289.9 L572.5,294.0 L577.3,290.9 L582.0,279.6 L586.8,274.3 L591.5,280.8 L596.3,288.9 L601.0,288.9 L605.8,287.7 L610.5,290.8 L615.3,294.5 L620.0,299.3 L624.8,305.9 L629.5,312.1 L634.3,314.7 L639.0,317.8 L643.8,322.7 L648.5,330.0 L653.3,337.1 L658.1,341.0 L662.8,343.9 L667.6,350.1 L672.3,353.4 L677.1,349.6 L681.8,351.4 L686.6,362.9 L691.3,369.0 L696.1,363.0 L700.8,353.8 L705.6,350.6 L710.3,359.0 L715.1,371.4 L719.8,373.5 L724.6,362.1 L729.3,345.2 L734.1,337.5 L738.9,346.7 L743.6,364.4 L748.4,380.3 L753.1,386.6 L757.9,381.9 L762.6,375.0 L767.4,377.9 L772.1,395.0 L776.9,414.8 L781.6,426.7 L786.4,434.2 L791.1,441.7 L795.9,446.1 L800.6,446.9 L805.4,448.0 L810.1,438.8 L814.9,415.8 L819.7,396.5 L824.4,387.5 L829.2,380.0 L833.9,368.5 L838.7,351.4 L843.4,335.1 L848.2,327.8 L852.9,307.9 L857.7,286.9 L862.4,269.4 L867.2,267.4 L871.9,279.0 L876.7,283.2 L881.4,276.4 L886.2,275.6 L891.0,276.9 L895.7,270.4 L900.5,262.8 L905.2,263.4 L910.0,277.4 L914.7,299.5 L919.5,319.0 L924.2,331.2 L929.0,333.3 L933.7,328.8 L938.5,331.2 L943.2,343.9 L948.0,349.2 L952.7,340.9 L957.5,334.1 L962.2,326.0 L967.0,312.5"/>
<path d="M87.7,457.3 L92.4,456.8 L97.2,456.2 L102.0,455.2 L106.7,454.1 L111.5,453.2 L116.2,452.2 L121.0,451.1 L125.7,450.8 L130.5,451.3 L135.2,452.0 L140.0,451.1 L144.7,448.3 L149.5,445.6 L154.2,443.9 L159.0,442.9 L163.7,442.5 L168.5,442.3 L173.2,441.0 L178.0,438.4 L182.8,436.3 L187.5,436.8 L192.3,438.3 L197.0,437.9 L201.8,435.4 L206.5,434.2 L211.3,435.7 L216.0,437.2 L220.8,436.4 L225.5,433.7 L230.3,430.7 L235.0,427.9 L239.8,425.9 L244.5,423.7 L249.3,419.4 L254.0,414.4 L258.8,411.0 L263.6,409.9 L268.3,410.7 L273.1,411.2 L277.8,411.0 L282.6,411.6 L287.3,411.2 L292.1,407.1 L296.8,402.0 L301.6,399.3 L306.3,397.6 L311.1,395.3 L315.8,393.7 L320.6,393.8 L325.3,393.9 L330.1,393.0 L334.8,392.7 L339.6,393.9 L344.4,393.6 L349.1,390.7 L353.9,388.1 L358.6,387.0 L363.4,386.5 L368.1,385.1 L372.9,380.7 L377.6,375.3 L382.4,374.4 L387.1,376.4 L391.9,375.0 L396.6,370.1 L401.4,365.7 L406.1,362.0 L410.9,357.9 L415.7,354.1 L420.4,351.2 L425.2,349.2 L429.9,347.1 L434.7,344.6 L439.4,342.5 L444.2,342.3 L448.9,344.1 L453.7,346.1 L458.4,346.3 L463.2,343.0 L467.9,337.4 L472.7,331.6 L477.4,326.1 L482.2,322.9 L486.9,325.6 L491.7,331.3 L496.5,333.5 L501.2,332.0 L506.0,331.3 L510.7,332.3 L515.5,331.2 L520.2,329.5 L525.0,328.7 L529.7,324.5 L534.5,313.3 L539.2,299.9 L544.0,292.7 L548.7,293.7 L553.5,298.8 L558.2,304.6 L563.0,302.1 L567.7,292.8 L572.5,294.9 L577.3,310.8 L582.0,325.9 L586.8,333.4 L591.5,338.0 L596.3,342.4 L601.0,350.0 L605.8,356.2 L610.5,353.2 L615.3,346.8 L620.0,348.8 L624.8,356.4 L629.5,363.3 L634.3,370.2 L639.0,377.6 L643.8,384.7 L648.5,387.5 L653.3,380.9 L658.1,371.7 L662.8,371.2 L667.6,379.8 L672.3,385.5 L677.1,380.8 L681.8,367.6 L686.6,344.9 L691.3,323.2 L696.1,313.9 L700.8,299.0 L705.6,291.2 L710.3,296.6 L715.1,304.1 L719.8,304.3 L724.6,311.4 L729.3,324.0 L734.1,327.3 L738.9,320.6 L743.6,322.8 L748.4,335.4 L753.1,350.0 L757.9,360.9 L762.6,366.9 L767.4,372.4 L772.1,371.7 L776.9,361.8 L781.6,354.0 L786.4,347.0 L791.1,332.5 L795.9,317.4 L800.6,311.0 L805.4,304.0 L810.1,298.0 L814.9,295.9 L819.7,290.6 L824.4,280.1 L829.2,275.7 L833.9,281.3 L838.7,290.8 L843.4,307.2 L848.2,332.8 L852.9,343.1 L857.7,347.4 L862.4,355.4 L867.2,374.8 L871.9,388.2 L876.7,378.7 L881.4,360.6 L886.2,352.2 L891.0,349.6 L895.7,343.2 L900.5,332.4 L905.2,321.5 L910.0,303.4 L914.7,284.9 L919.5,274.0 L924.2,270.4 L929.0,267.2 L933.7,260.1 L938.5,252.1 L943.2,246.4 L948.0,247.6 L952.7,255.1 L957.5,261.0 L962.2,260.1 L967.0,253.6"/>
<path d="M87.7,457.5 L92.4,456.1 L97.2,454.9 L102.0,453.9 L106.7,452.8 L111.5,452.1 L116.2,452.0 L121.0,451.9 L125.7,451.2 L130.5,449.5 L135.2,448.3 L140.0,448.5 L144.7,449.0 L149.5,449.0 L154.2,448.6 L159.0,447.1 L163.7,444.5 L168.5,442.1 L173.2,441.2 L178.0,441.7 L182.8,441.8 L187.5,439.8 L192.3,436.2 L197.0,432.6 L201.8,429.4 L206.5,426.4 L211.3,424.1 L216.0,422.2 L220.8,421.4 L225.5,420.6 L230.3,418.5 L235.0,415.1 L239.8,412.2 L244.5,410.4 L249.3,409.0 L254.0,407.2 L258.8,405.5 L263.6,404.0 L268.3,403.0 L273.1,402.3 L277.8,402.1 L282.6,401.8 L287.3,401.1 L292.1,401.7 L296.8,404.4 L301.6,406.7 L306.3,406.2 L311.1,402.3 L315.8,398.6 L320.6,397.0 L325.3,398.1 L330.1,400.4 L334.8,400.0 L339.6,396.3 L344.4,393.1 L349.1,391.7 L353.9,391.3 L358.6,389.8 L363.4,387.0 L368.1,382.2 L372.9,377.3 L377.6,373.8 L382.4,371.1 L387.1,366.2 L391.9,358.8 L396.6,352.3 L401.4,349.0 L406.1,349.7 L410.9,355.5 L415.7,364.4 L420.4,369.6 L425.2,366.2 L429.9,358.9 L434.7,355.1 L439.4,356.9 L444.2,364.3 L448.9,370.5 L453.7,371.2 L458.4,367.2 L463.2,359.0 L467.9,351.6 L472.7,353.1 L477.4,363.2 L482.2,373.1 L486.9,375.9 L491.7,372.6 L496.5,368.9 L501.2,366.8 L506.0,362.5 L510.7,354.8 L515.5,350.3 L520.2,351.7 L525.0,351.4 L529.7,344.9 L534.5,336.4 L539.2,329.6 L544.0,324.0 L548.7,324.2 L553.5,331.6 L558.2,341.5 L563.0,351.2 L567.7,356.9 L572.5,357.5 L577.3,354.0 L582.0,346.9 L586.8,339.3 L591.5,332.0 L596.3,328.4 L601.0,328.3 L605.8,329.3 L610.5,327.0 L615.3,321.9 L620.0,322.2 L624.8,327.9 L629.5,336.3 L634.3,342.3 L639.0,342.5 L643.8,340.9 L648.5,343.8 L653.3,352.5 L658.1,361.0 L662.8,367.6 L667.6,376.3 L672.3,388.1 L677.1,399.6 L681.8,410.1 L686.6,416.4 L691.3,418.9 L696.1,420.0 L700.8,420.6 L705.6,421.5 L710.3,422.4 L715.1,420.8 L719.8,416.4 L724.6,406.8 L729.3,392.0 L734.1,376.2 L738.9,357.2 L743.6,342.3 L748.4,340.9 L753.1,345.9 L757.9,346.0 L762.6,338.3 L767.4,329.2 L772.1,317.0 L776.9,305.3 L781.6,303.4 L786.4,311.4 L791.1,322.3 L795.9,320.1 L800.6,301.0 L805.4,285.7 L810.1,285.4 L814.9,289.7 L819.7,285.8 L824.4,272.5 L829.2,262.1 L833.9,263.1 L838.7,271.1 L843.4,273.4 L848.2,263.1 L852.9,250.4 L857.7,242.3 L862.4,236.8 L867.2,235.7 L871.9,237.9 L876.7,241.6 L881.4,248.9 L886.2,253.8 L891.0,247.3 L895.7,237.6 L900.5,238.4 L905.2,244.7 L910.0,248.5 L914.7,253.1 L919.5,259.5 L924.2,262.0 L929.0,257.9 L933.7,252.2 L938.5,250.8 L943.2,255.8 L948.0,264.8 L952.7,271.9 L957.5,271.4 L962.2,270.4 L967.0,273.1"/>
<path d="M87.7,457.3 L92.4,455.3 L97.2,453.2 L102.0,451.7 L106.7,450.9 L111.5,450.5 L116.2,450.4 L121.0,450.1 L125.7,449.5 L130.5,449.3 L135.2,449.5 L140.0,449.3 L144.7,448.8 L149.5,447.3 L154.2,445.5 L159.0,445.1 L163.7,445.2 L168.5,443.5 L173.2,440.8 L178.0,439.0 L182.8,437.7 L187.5,436.6 L192.3,435.9 L197.0,435.5 L201.8,434.6 L206.5,432.1 L211.3,428.8 L216.0,427.1 L220.8,427.0 L225.5,426.6 L230.3,425.1 L235.0,421.9 L239.8,418.4 L244.5,416.2 L249.3,415.1 L254.0,416.0 L258.8,417.9 L263.6,417.6 L268.3,414.8 L273.1,412.0 L277.8,409.1 L282.6,404.6 L287.3,400.2 L292.1,399.8 L296.8,401.7 L301.6,402.3 L306.3,402.0 L311.1,402.5 L315.8,401.9 L320.6,399.0 L325.3,395.9 L330.1,394.7 L334.8,396.1 L339.6,397.5 L344.4,395.6 L349.1,390.6 L353.9,386.5 L358.6,386.5 L363.4,388.7 L368.1,389.1 L372.9,388.0 L377.6,386.6 L382.4,384.0 L387.1,380.2 L391.9,377.6 L396.6,378.2 L401.4,381.2 L406.1,383.2 L410.9,383.5 L415.7,384.6 L420.4,385.5 L425.2,383.2 L429.9,379.1 L434.7,373.6 L439.4,367.0 L444.2,362.2 L448.9,361.1 L453.7,362.1 L458.4,361.4 L463.2,358.0 L467.9,356.3 L472.7,356.4 L477.4,352.0 L482.2,344.6 L486.9,334.4 L491.7,323.0 L496.5,316.8 L501.2,317.4 L506.0,319.9 L510.7,320.0 L515.5,318.6 L520.2,314.8 L525.0,306.8 L529.7,299.9 L534.5,296.9 L539.2,297.1 L544.0,301.0 L548.7,303.8 L553.5,300.4 L558.2,293.2 L563.0,287.4 L567.7,284.7 L572.5,283.4 L577.3,286.6 L582.0,296.7 L586.8,304.3 L591.5,301.0 L596.3,294.1 L601.0,292.2 L605.8,295.5 L610.5,299.5 L615.3,296.3 L620.0,286.3 L624.8,280.8 L629.5,280.1 L634.3,276.7 L639.0,270.8 L643.8,269.3 L648.5,278.9 L653.3,296.4 L658.1,308.6 L662.8,314.2 L667.6,325.0 L672.3,343.1 L677.1,350.7 L681.8,355.6 L686.6,357.0 L691.3,351.2 L696.1,338.6 L700.8,323.5 L705.6,308.0 L710.3,299.8 L715.1,302.9 L719.8,314.5 L724.6,323.3 L729.3,317.3 L734.1,299.7 L738.9,281.9 L743.6,270.7 L748.4,265.2 L753.1,261.8 L757.9,256.1 L762.6,247.3 L767.4,242.6 L772.1,246.9 L776.9,254.8 L781.6,260.4 L786.4,264.8 L791.1,265.0 L795.9,258.7 L800.6,250.8 L805.4,254.0 L810.1,268.0 L814.9,283.6 L819.7,301.6 L824.4,321.4 L829.2,338.8 L833.9,344.3 L838.7,362.1 L843.4,384.5 L848.2,396.3 L852.9,394.8 L857.7,394.6 L862.4,404.4 L867.2,416.6 L871.9,424.8 L876.7,423.9 L881.4,414.8 L886.2,406.8 L891.0,398.0 L895.7,379.1 L900.5,352.5 L905.2,329.1 L910.0,317.1 L914.7,317.2 L919.5,321.6 L924.2,315.1 L929.0,293.7 L933.7,276.8 L938.5,262.1 L943.2,264.2 L948.0,283.6 L952.7,289.0 L957.5,276.5 L962.2,270.1 L967.0,271.5"/>
<path d="M87.7,457.0 L92.4,456.7 L97.2,456.0 L102.0,454.8 L106.7,453.9 L111.5,453.5 L116.2,453.1 L121.0,451.8 L125.7,450.4 L130.5,449.3 L135.2,448.3 L140.0,447.2 L144.7,446.6 L149.5,446.2 L154.2,445.7 L159.0,445.0 L163.7,444.3 L168.5,444.5 L173.2,444.5 L178.0,442.5 L182.8,439.3 L187.5,437.6 L192.3,438.0 L197.0,438.2 L201.8,437.2 L206.5,435.6 L211.3,432.9 L216.0,429.6 L220.8,426.7 L225.5,424.4 L230.3,422.5 L235.0,421.3 L239.8,420.3 L244.5,417.8 L249.3,415.4 L254.0,414.8 L258.8,413.9 L263.6,411.6 L268.3,410.0 L273.1,409.4 L277.8,408.9 L282.6,408.1 L287.3,407.0 L292.1,406.4 L296.8,405.5 L301.6,403.5 L306.3,403.3 L311.1,405.2 L315.8,404.1 L320.6,398.6 L325.3,392.8 L330.1,390.1 L334.8,389.2 L339.6,387.0 L344.4,384.9 L349.1,385.7 L353.9,387.4 L358.6,387.8 L363.4,386.5 L368.1,381.8 L372.9,375.5 L377.6,371.0 L382.4,369.4 L387.1,368.7 L391.9,367.1 L396.6,364.4 L401.4,362.7 L406.1,362.7 L410.9,362.0 L415.7,359.2 L420.4,358.8 L425.2,361.6 L429.9,361.6 L434.7,357.9 L439.4,353.6 L444.2,349.2 L448.9,345.7 L453.7,345.3 L458.4,347.7 L463.2,353.3 L467.9,358.2 L472.7,360.7 L477.4,359.2 L482.2,355.5 L486.9,351.6 L491.7,348.8 L496.5,349.3 L501.2,352.1 L506.0,351.7 L510.7,349.1 L515.5,347.5 L520.2,347.1 L525.0,350.4 L529.7,357.9 L534.5,362.1 L539.2,359.6 L544.0,358.9 L548.7,367.1 L553.5,375.5 L558.2,376.0 L563.0,373.5 L567.7,369.7 L572.5,362.7 L577.3,351.1 L582.0,343.3 L586.8,347.9 L591.5,353.3 L596.3,348.2 L601.0,339.1 L605.8,334.2 L610.5,335.7 L615.3,342.7 L620.0,353.0 L624.8,359.1 L629.5,356.5 L634.3,350.7 L639.0,347.0 L643.8,346.8 L648.5,353.3 L653.3,364.8 L658.1,377.8 L662.8,391.6 L667.6,395.0 L672.3,385.9 L677.1,380.2 L681.8,385.6 L686.6,393.1 L691.3,391.7 L696.1,381.6 L700.8,372.3 L705.6,366.3 L710.3,357.5 L715.1,343.8 L719.8,330.6 L724.6,326.4 L729.3,331.8 L734.1,343.9 L738.9,359.5 L743.6,369.8 L748.4,367.8 L753.1,359.5 L757.9,351.5 L762.6,344.1 L767.4,344.1 L772.1,346.8 L776.9,341.6 L781.6,339.0 L786.4,349.1 L791.1,360.2 L795.9,363.0 L800.6,360.5 L805.4,354.3 L810.1,348.1 L814.9,345.2 L819.7,336.6 L824.4,321.2 L829.2,312.9 L833.9,318.1 L838.7,322.5 L843.4,311.1 L848.2,296.1 L852.9,281.4 L857.7,268.9 L862.4,257.0 L867.2,242.8 L871.9,233.7 L876.7,237.6 L881.4,248.7 L886.2,256.8 L891.0,257.5 L895.7,256.4 L900.5,264.7 L905.2,280.5 L910.0,300.5 L914.7,316.4 L919.5,328.7 L924.2,344.7 L929.0,362.7 L933.7,378.7 L938.5,391.6 L943.2,396.9 L948.0,395.4 L952.7,394.0 L957.5,395.5 L962.2,397.8 L967.0,397.2"/>
<path d="M87.7,458.4 L92.4,457.6 L97.2,456.8 L102.0,456.1 L106.7,455.1 L111.5,453.7 L116.2,452.3 L121.0,451.0 L125.7,450.2 L130.5,450.0 L135.2,449.6 L140.0,448.6 L144.7,447.2 L149.5,445.7 L154.2,444.9 L159.0,444.8 L163.7,444.4 L168.5,443.5 L173.2,442.8 L178.0,441.8 L182.8,440.2 L187.5,438.7 L192.3,437.2 L197.0,436.3 L201.8,435.9 L206.5,435.1 L211.3,433.0 L216.0,430.4 L220.8,428.0 L225.5,425.8 L230.3,423.7 L235.0,421.2 L239.8,418.6 L244.5,416.6 L249.3,415.8 L254.0,415.9 L258.8,415.4 L263.6,412.9 L268.3,410.1 L273.1,408.0 L277.8,407.0 L282.6,407.0 L287.3,406.9 L292.1,405.7 L296.8,405.2 L301.6,406.3 L306.3,406.8 L311.1,404.3 L315.8,399.4 L320.6,396.4 L325.3,394.6 L330.1,392.8 L334.8,390.5 L339.6,387.1 L344.4,385.3 L349.1,388.0 L353.9,392.8 L358.6,394.7 L363.4,391.4 L368.1,386.1 L372.9,383.9 L377.6,385.2 L382.4,386.2 L387.1,384.4 L391.9,380.3 L396.6,376.1 L401.4,373.7 L406.1,372.0 L410.9,368.6 L415.7,367.6 L420.4,371.2 L425.2,370.7 L429.9,365.5 L434.7,358.2 L439.4,351.3 L444.2,347.0 L448.9,345.3 L453.7,343.1 L458.4,336.9 L463.2,330.8 L467.9,331.4 L472.7,332.3 L477.4,327.2 L482.2,319.9 L486.9,312.1 L491.7,304.5 L496.5,302.6 L501.2,307.2 L506.0,310.8 L510.7,309.5 L515.5,307.2 L520.2,309.9 L525.0,315.5 L529.7,316.5 L534.5,314.9 L539.2,318.0 L544.0,327.6 L548.7,332.1 L553.5,328.6 L558.2,323.7 L563.0,324.2 L567.7,327.6 L572.5,328.9 L577.3,330.9 L582.0,331.8 L586.8,321.6 L591.5,308.6 L596.3,305.9 L601.0,314.9 L605.8,325.2 L610.5,327.5 L615.3,327.3 L620.0,332.1 L624.8,334.3 L629.5,336.5 L634.3,342.5 L639.0,343.6 L643.8,333.6 L648.5,326.2 L653.3,335.3 L658.1,350.5 L662.8,360.2 L667.6,362.3 L672.3,354.7 L677.1,348.8 L681.8,354.1 L686.6,360.9 L691.3,362.1 L696.1,359.9 L700.8,355.1 L705.6,345.7 L710.3,334.9 L715.1,328.0 L719.8,328.6 L724.6,331.9 L729.3,330.5 L734.1,328.9 L738.9,332.6 L743.6,341.3 L748.4,351.0 L753.1,357.0 L757.9,357.2 L762.6,350.7 L767.4,341.8 L772.1,339.1 L776.9,343.7 L781.6,350.3 L786.4,362.5 L791.1,377.6 L795.9,388.5 L800.6,402.7 L805.4,420.7 L810.1,436.5 L814.9,445.2 L819.7,441.6 L824.4,436.3 L829.2,433.0 L833.9,421.4 L838.7,407.5 L843.4,401.9 L848.2,403.9 L852.9,405.3 L857.7,399.6 L862.4,393.5 L867.2,395.4 L871.9,393.7 L876.7,379.8 L881.4,368.2 L886.2,363.9 L891.0,355.4 L895.7,338.4 L900.5,325.4 L905.2,327.7 L910.0,335.7 L914.7,327.4 L919.5,304.9 L924.2,290.5 L929.0,292.4 L933.7,306.4 L938.5,326.5 L943.2,346.6 L948.0,357.7 L952.7,354.7 L957.5,346.3 L962.2,336.2 L967.0,322.7"/>
<path d="M87.7,456.9 L92.4,456.3 L97.2,455.9 L102.0,455.0 L106.7,453.8 L111.5,452.7 L116.2,452.0 L121.0,451.3 L125.7,451.0 L130.5,450.5 L135.2,448.9 L140.0,446.9 L144.7,444.8 L149.5,442.8 L154.2,441.1 L159.0,439.7 L163.7,438.6 L168.5,437.6 L173.2,436.2 L178.0,435.1 L182.8,434.3 L187.5,433.3 L192.3,432.9 L197.0,432.8 L201.8,432.3 L206.5,432.2 L211.3,432.0 L216.0,429.3 L220.8,427.2 L225.5,426.9 L230.3,426.2 L235.0,425.0 L239.8,423.8 L244.5,422.1 L249.3,419.9 L254.0,417.4 L258.8,414.5 L263.6,411.3 L268.3,408.6 L273.1,406.8 L277.8,404.5 L282.6,402.9 L287.3,401.5 L292.1,400.5 L296.8,398.4 L301.6,393.8 L306.3,389.5 L311.1,388.5 L315.8,390.2 L320.6,392.2 L325.3,392.4 L330.1,390.3 L334.8,387.0 L339.6,384.0 L344.4,383.0 L349.1,384.4 L353.9,384.8 L358.6,382.4 L363.4,379.1 L368.1,376.2 L372.9,374.1 L377.6,372.7 L382.4,372.4 L387.1,374.9 L391.9,378.1 L396.6,378.6 L401.4,375.8 L406.1,373.4 L410.9,372.4 L415.7,370.5 L420.4,366.0 L425.2,360.1 L429.9,356.0 L434.7,353.5 L439.4,349.7 L444.2,345.0 L448.9,343.3 L453.7,345.6 L458.4,348.3 L463.2,348.9 L467.9,349.2 L472.7,348.2 L477.4,342.4 L482.2,333.5 L486.9,326.1 L491.7,323.7 L496.5,327.6 L501.2,333.3 L506.0,340.1 L510.7,346.9 L515.5,349.4 L520.2,345.2 L525.0,338.2 L529.7,330.2 L534.5,326.4 L539.2,328.4 L544.0,330.2 L548.7,329.4 L553.5,329.1 L558.2,328.8 L563.0,325.4 L567.7,320.0 L572.5,315.7 L577.3,309.8 L582.0,302.7 L586.8,298.4 L591.5,299.7 L596.3,302.5 L601.0,298.6 L605.8,295.3 L610.5,304.5 L615.3,319.5 L620.0,340.0 L624.8,354.8 L629.5,363.7 L634.3,366.4 L639.0,360.6 L643.8,348.0 L648.5,333.8 L653.3,324.4 L658.1,320.6 L662.8,316.5 L667.6,315.5 L672.3,317.7 L677.1,313.6 L681.8,302.9 L686.6,298.6 L691.3,306.1 L696.1,311.3 L700.8,306.3 L705.6,304.1 L710.3,311.2 L715.1,314.7 L719.8,310.9 L724.6,308.7 L729.3,310.7 L734.1,320.2 L738.9,328.7 L743.6,325.5 L748.4,317.1 L753.1,314.0 L757.9,322.9 L762.6,334.7 L767.4,332.6 L772.1,321.2 L776.9,319.8 L781.6,333.9 L786.4,351.6 L791.1,352.7 L795.9,345.5 L800.6,337.2 L805.4,337.4 L810.1,341.9 L814.9,336.2 L819.7,322.1 L824.4,309.7 L829.2,302.9 L833.9,292.8 L838.7,286.7 L843.4,288.7 L848.2,287.8 L852.9,280.2 L857.7,272.6 L862.4,272.1 L867.2,279.3 L871.9,289.6 L876.7,295.4 L881.4,294.0 L886.2,294.0 L891.0,295.8 L895.7,307.6 L900.5,324.8 L905.2,344.9 L910.0,371.9 L914.7,397.7 L919.5,405.0 L924.2,400.2 L929.0,404.2 L933.7,422.2 L938.5,444.6 L943.2,457.2 L948.0,458.5 L952.7,459.4 L957.5,465.6 L962.2,474.7 L967.0,477.6"/>
<path d="M87.7,460.2 L92.4,458.9 L97.2,457.7 L102.0,456.6 L106.7,455.5 L111.5,454.4 L116.2,453.6 L121.0,452.8 L125.7,451.5 L130.5,450.2 L135.2,449.3 L140.0,448.6 L144.7,447.5 L149.5,445.6 L154.2,443.3 L159.0,441.6 L163.7,440.5 L168.5,439.0 L173.2,437.2 L178.0,434.6 L182.8,431.6 L187.5,429.5 L192.3,428.4 L197.0,427.2 L201.8,426.0 L206.5,426.0 L211.3,427.2 L216.0,427.9 L220.8,427.2 L225.5,425.9 L230.3,424.5 L235.0,422.6 L239.8,419.9 L244.5,416.0 L249.3,413.1 L254.0,413.1 L258.8,412.9 L263.6,411.5 L268.3,408.2 L273.1,403.1 L277.8,400.3 L282.6,400.6 L287.3,399.3 L292.1,396.4 L296.8,395.2 L301.6,395.1 L306.3,395.0 L311.1,396.5 L315.8,398.0 L320.6,396.4 L325.3,392.3 L330.1,388.2 L334.8,385.0 L339.6,382.8 L344.4,380.6 L349.1,378.9 L353.9,379.7 L358.6,380.9 L363.4,378.5 L368.1,374.5 L372.9,374.1 L377.6,375.8 L382.4,374.4 L387.1,370.3 L391.9,367.8 L396.6,366.1 L401.4,363.4 L406.1,361.7 L410.9,363.3 L415.7,366.7 L420.4,368.9 L425.2,369.9 L429.9,375.0 L434.7,381.0 L439.4,384.2 L444.2,385.5 L448.9,385.0 L453.7,381.5 L458.4,378.6 L463.2,379.8 L467.9,382.9 L472.7,382.3 L477.4,379.7 L482.2,382.4 L486.9,387.6 L491.7,386.5 L496.5,377.7 L501.2,364.1 L506.0,348.5 L510.7,336.2 L515.5,328.9 L520.2,326.5 L525.0,326.7 L529.7,328.5 L534.5,329.7 L539.2,328.5 L544.0,321.6 L548.7,308.7 L553.5,297.2 L558.2,290.0 L563.0,285.8 L567.7,286.0 L572.5,288.8 L577.3,292.7 L582.0,298.7 L586.8,299.6 L591.5,290.2 L596.3,283.1 L601.0,286.1 L605.8,293.0 L610.5,298.4 L615.3,301.6 L620.0,304.5 L624.8,304.8 L629.5,296.6 L634.3,279.3 L639.0,258.4 L643.8,242.4 L648.5,239.1 L653.3,247.4 L658.1,255.4 L662.8,255.5 L667.6,250.0 L672.3,244.8 L677.1,247.3 L681.8,259.7 L686.6,272.8 L691.3,280.3 L696.1,286.9 L700.8,293.2 L705.6,299.7 L710.3,306.3 L715.1,309.8 L719.8,304.5 L724.6,290.3 L729.3,277.0 L734.1,271.0 L738.9,271.1 L743.6,272.9 L748.4,271.6 L753.1,267.7 L757.9,264.2 L762.6,260.5 L767.4,254.0 L772.1,246.8 L776.9,245.4 L781.6,243.5 L786.4,238.3 L791.1,236.6 L795.9,234.9 L800.6,224.1 L805.4,212.1 L810.1,212.1 L814.9,220.0 L819.7,227.1 L824.4,233.5 L829.2,234.8 L833.9,229.7 L838.7,223.1 L843.4,217.5 L848.2,217.7 L852.9,224.2 L857.7,230.7 L862.4,234.7 L867.2,241.2 L871.9,247.8 L876.7,244.3 L881.4,232.7 L886.2,229.2 L891.0,239.9 L895.7,254.5 L900.5,265.8 L905.2,276.0 L910.0,282.8 L914.7,279.3 L919.5,269.7 L924.2,264.0 L929.0,265.4 L933.7,268.5 L938.5,269.2 L943.2,272.4 L948.0,278.7 L952.7,277.0 L957.5,266.6 L962.2,266.6 L967.0,282.5"/>
<path d="M87.7,459.2 L92.4,457.8 L97.2,456.5 L102.0,455.5 L106.7,454.8 L111.5,453.7 L116.2,452.3 L121.0,450.8 L125.7,449.6 L130.5,449.0 L135.2,448.4 L140.0,446.7 L144.7,444.8 L149.5,444.2 L154.2,444.0 L159.0,442.8 L163.7,440.8 L168.5,438.4 L173.2,436.1 L178.0,434.3 L182.8,432.5 L187.5,430.5 L192.3,428.8 L197.0,427.6 L201.8,426.3 L206.5,425.1 L211.3,424.2 L216.0,423.6 L220.8,422.5 L225.5,420.4 L230.3,417.9 L235.0,415.5 L239.8,413.9 L244.5,414.1 L249.3,414.9 L254.0,414.7 L258.8,413.5 L263.6,413.4 L268.3,414.5 L273.1,414.2 L277.8,412.5 L282.6,411.3 L287.3,409.9 L292.1,406.8 L296.8,403.7 L301.6,403.4 L306.3,405.8 L311.1,407.0 L315.8,406.0 L320.6,404.3 L325.3,400.9 L330.1,396.1 L334.8,394.3 L339.6,395.5 L344.4,395.5 L349.1,393.7 L353.9,391.4 L358.6,389.8 L363.4,388.6 L368.1,385.4 L372.9,378.8 L377.6,373.8 L382.4,373.6 L387.1,373.4 L391.9,369.3 L396.6,363.8 L401.4,359.7 L406.1,357.0 L410.9,354.2 L415.7,351.6 L420.4,351.7 L425.2,355.8 L429.9,359.9 L434.7,360.4 L439.4,359.6 L444.2,358.1 L448.9,353.3 L453.7,349.3 L458.4,349.0 L463.2,351.2 L467.9,356.0 L472.7,357.8 L477.4,357.4 L482.2,360.4 L486.9,365.5 L491.7,367.2 L496.5,368.3 L501.2,370.6 L506.0,372.1 L510.7,375.1 L515.5,378.7 L520.2,378.5 L525.0,376.5 L529.7,374.1 L534.5,372.1 L539.2,375.2 L544.0,382.9 L548.7,389.0 L553.5,388.6 L558.2,383.4 L563.0,381.7 L567.7,383.5 L572.5,381.9 L577.3,376.2 L582.0,370.1 L586.8,364.3 L591.5,356.8 L596.3,352.1 L601.0,357.9 L605.8,366.8 L610.5,366.1 L615.3,354.6 L620.0,340.3 L624.8,328.8 L629.5,320.9 L634.3,306.1 L639.0,289.9 L643.8,279.9 L648.5,283.9 L653.3,289.5 L658.1,286.4 L662.8,280.8 L667.6,277.6 L672.3,270.0 L677.1,261.1 L681.8,265.9 L686.6,281.8 L691.3,296.3 L696.1,309.2 L700.8,325.6 L705.6,326.4 L710.3,321.1 L715.1,320.9 L719.8,330.0 L724.6,343.0 L729.3,355.6 L734.1,365.3 L738.9,376.0 L743.6,394.1 L748.4,413.5 L753.1,425.8 L757.9,429.4 L762.6,425.9 L767.4,423.0 L772.1,425.6 L776.9,426.3 L781.6,416.6 L786.4,396.2 L791.1,378.8 L795.9,378.5 L800.6,389.4 L805.4,396.6 L810.1,394.5 L814.9,385.8 L819.7,375.3 L824.4,373.0 L829.2,378.6 L833.9,383.3 L838.7,387.2 L843.4,388.3 L848.2,379.4 L852.9,363.0 L857.7,348.7 L862.4,340.8 L867.2,340.1 L871.9,342.2 L876.7,349.8 L881.4,367.7 L886.2,383.0 L891.0,390.8 L895.7,399.5 L900.5,408.7 L905.2,416.6 L910.0,424.3 L914.7,425.3 L919.5,421.2 L924.2,422.8 L929.0,431.0 L933.7,436.8 L938.5,433.0 L943.2,420.2 L948.0,403.5 L952.7,397.2 L957.5,404.2 L962.2,402.2 L967.0,382.2"/>
<path d="M87.7,457.2 L92.4,456.6 L97.2,455.8 L102.0,454.9 L106.7,453.6 L111.5,452.6 L116.2,452.1 L121.0,451.4 L125.7,450.8 L130.5,450.3 L135.2,449.8 L140.0,449.0 L144.7,448.5 L149.5,447.1 L154.2,444.6 L159.0,442.7 L163.7,441.2 L168.5,439.0 L173.2,436.7 L178.0,435.4 L182.8,434.7 L187.5,433.5 L192.3,432.4 L197.0,431.4 L201.8,430.6 L206.5,430.6 L211.3,430.7 L216.0,429.7 L220.8,427.1 L225.5,424.1 L230.3,422.7 L235.0,421.3 L239.8,418.6 L244.5,415.4 L249.3,412.6 L254.0,409.9 L258.8,407.4 L263.6,405.2 L268.3,402.4 L273.1,399.8 L277.8,398.3 L282.6,396.9 L287.3,395.5 L292.1,394.5 L296.8,394.2 L301.6,393.8 L306.3,392.9 L311.1,391.6 L315.8,389.5 L320.6,387.8 L325.3,388.0 L330.1,388.4 L334.8,388.7 L339.6,389.7 L344.4,389.2 L349.1,385.4 L353.9,381.2 L358.6,379.7 L363.4,379.4 L368.1,378.9 L372.9,379.0 L377.6,380.5 L382.4,381.8 L387.1,381.2 L391.9,380.6 L396.6,381.5 L401.4,382.5 L406.1,381.7 L410.9,377.8 L415.7,371.3 L420.4,362.9 L425.2,355.9 L429.9,356.1 L434.7,362.1 L439.4,368.8 L444.2,374.6 L448.9,372.6 L453.7,368.7 L458.4,372.0 L463.2,377.3 L467.9,377.0 L472.7,376.3 L477.4,377.7 L482.2,380.0 L486.9,384.2 L491.7,388.6 L496.5,389.1 L501.2,384.5 L506.0,378.9 L510.7,374.0 L515.5,369.0 L520.2,360.5 L525.0,349.4 L529.7,338.4 L534.5,328.9 L539.2,321.7 L544.0,313.7 L548.7,306.0 L553.5,302.3 L558.2,300.4 L563.0,299.0 L567.7,299.4 L572.5,296.5 L577.3,291.9 L582.0,293.2 L586.8,296.3 L591.5,297.0 L596.3,297.8 L601.0,293.7 L605.8,283.5 L610.5,277.1 L615.3,275.6 L620.0,268.9 L624.8,258.2 L629.5,250.9 L634.3,250.2 L639.0,256.4 L643.8,255.2 L648.5,243.4 L653.3,236.3 L658.1,233.7 L662.8,231.5 L667.6,233.8 L672.3,238.9 L677.1,239.6 L681.8,237.0 L686.6,240.6 L691.3,253.6 L696.1,265.6 L700.8,271.2 L705.6,276.9 L710.3,281.5 L715.1,289.7 L719.8,309.8 L724.6,333.9 L729.3,348.5 L734.1,343.3 L738.9,322.3 L743.6,301.2 L748.4,288.5 L753.1,287.9 L757.9,295.4 L762.6,299.8 L767.4,303.2 L772.1,314.4 L776.9,331.1 L781.6,343.3 L786.4,341.2 L791.1,344.0 L795.9,352.5 L800.6,352.3 L805.4,340.1 L810.1,335.8 L814.9,344.6 L819.7,353.6 L824.4,358.2 L829.2,357.6 L833.9,338.9 L838.7,307.7 L843.4,284.8 L848.2,272.6 L852.9,265.5 L857.7,257.7 L862.4,245.9 L867.2,232.7 L871.9,224.1 L876.7,219.8 L881.4,217.0 L886.2,217.2 L891.0,226.9 L895.7,243.9 L900.5,254.6 L905.2,252.5 L910.0,243.3 L914.7,243.2 L919.5,262.1 L924.2,290.4 L929.0,317.4 L933.7,340.2 L938.5,358.1 L943.2,360.5 L948.0,352.8 L952.7,339.9 L957.5,333.4 L962.2,333.7 L967.0,333.1"/>
<path d="M87.7,458.7 L92.4,457.8 L97.2,456.6 L102.0,455.6 L106.7,455.0 L111.5,454.2 L116.2,453.1 L121.0,452.0 L125.7,450.9 L130.5,449.8 L135.2,449.4 L140.0,449.4 L144.7,448.6 L149.5,447.3 L154.2,446.2 L159.0,445.4 L163.7,444.6 L168.5,443.1 L173.2,440.9 L178.0,438.9 L182.8,437.5 L187.5,436.8 L192.3,437.1 L197.0,438.1 L201.8,438.4 L206.5,436.7 L211.3,433.8 L216.0,431.0 L220.8,429.2 L225.5,428.1 L230.3,426.3 L235.0,424.2 L239.8,423.4 L244.5,423.1 L249.3,421.4 L254.0,418.7 L258.8,417.1 L263.6,415.9 L268.3,413.4 L273.1,409.0 L277.8,403.4 L282.6,397.8 L287.3,394.5 L292.1,394.2 L296.8,396.1 L301.6,397.1 L306.3,396.3 L311.1,395.4 L315.8,393.7 L320.6,391.3 L325.3,390.7 L330.1,392.7 L334.8,393.4 L339.6,392.3 L344.4,391.0 L349.1,388.1 L353.9,383.8 L358.6,379.9 L363.4,377.5 L368.1,377.1 L372.9,379.0 L377.6,381.0 L382.4,379.6 L387.1,376.3 L391.9,373.4 L396.6,371.2 L401.4,371.2 L406.1,371.0 L410.9,367.8 L415.7,363.7 L420.4,361.8 L425.2,362.3 L429.9,365.2 L434.7,369.2 L439.4,369.9 L444.2,364.8 L448.9,356.8 L453.7,352.1 L458.4,351.5 L463.2,349.7 L467.9,348.0 L472.7,350.6 L477.4,352.8 L482.2,348.2 L486.9,344.1 L491.7,345.7 L496.5,348.0 L501.2,345.4 L506.0,339.6 L510.7,337.3 L515.5,339.5 L520.2,340.4 L525.0,340.3 L529.7,341.4 L534.5,338.9 L539.2,331.6 L544.0,326.8 L548.7,325.9 L553.5,323.3 L558.2,324.0 L563.0,336.5 L567.7,351.5 L572.5,356.7 L577.3,351.7 L582.0,347.8 L586.8,358.0 L591.5,371.5 L596.3,370.3 L601.0,356.9 L605.8,346.1 L610.5,339.3 L615.3,329.8 L620.0,320.0 L624.8,316.2 L629.5,322.7 L634.3,334.3 L639.0,340.7 L643.8,335.3 L648.5,324.5 L653.3,318.8 L658.1,321.4 L662.8,331.6 L667.6,345.2 L672.3,356.7 L677.1,361.9 L681.8,366.9 L686.6,380.0 L691.3,393.5 L696.1,404.4 L700.8,416.9 L705.6,429.9 L710.3,441.9 L715.1,446.4 L719.8,443.2 L724.6,436.2 L729.3,421.9 L734.1,399.2 L738.9,377.2 L743.6,365.0 L748.4,360.2 L753.1,354.5 L757.9,345.7 L762.6,333.1 L767.4,308.8 L772.1,293.0 L776.9,280.9 L781.6,266.5 L786.4,253.3 L791.1,242.6 L795.9,234.8 L800.6,225.5 L805.4,211.6 L810.1,203.7 L814.9,210.9 L819.7,224.9 L824.4,232.5 L829.2,227.8 L833.9,218.5 L838.7,223.0 L843.4,240.1 L848.2,256.7 L852.9,262.3 L857.7,255.9 L862.4,251.4 L867.2,253.2 L871.9,246.6 L876.7,234.5 L881.4,232.3 L886.2,232.5 L891.0,229.5 L895.7,231.0 L900.5,236.0 L905.2,238.0 L910.0,238.4 L914.7,243.5 L919.5,254.7 L924.2,266.3 L929.0,277.6 L933.7,293.4 L938.5,316.6 L943.2,337.6 L948.0,344.5 L952.7,343.4 L957.5,343.6 L962.2,351.3 L967.0,356.5"/>
<path d="M87.7,458.2 L92.4,457.3 L97.2,456.6 L102.0,456.0 L106.7,455.2 L111.5,454.4 L116.2,454.0 L121.0,453.7 L125.7,453.2 L130.5,452.8 L135.2,452.2 L140.0,451.2 L144.7,450.5 L149.5,449.6 L154.2,448.2 L159.0,446.0 L163.7,443.8 L168.5,442.9 L173.2,443.3 L178.0,443.3 L182.8,442.8 L187.5,441.9 L192.3,440.1 L197.0,438.7 L201.8,438.0 L206.5,437.3 L211.3,435.7 L216.0,433.2 L220.8,430.1 L225.5,427.5 L230.3,426.3 L235.0,426.1 L239.8,426.3 L244.5,425.8 L249.3,423.8 L254.0,421.8 L258.8,420.5 L263.6,418.3 L268.3,415.4 L273.1,412.3 L277.8,408.7 L282.6,405.8 L287.3,403.3 L292.1,400.7 L296.8,398.4 L301.6,396.6 L306.3,393.8 L311.1,389.8 L315.8,387.6 L320.6,389.7 L325.3,393.0 L330.1,393.3 L334.8,390.9 L339.6,387.9 L344.4,384.9 L349.1,382.0 L353.9,379.7 L358.6,377.6 L363.4,375.6 L368.1,375.4 L372.9,376.5 L377.6,375.5 L382.4,371.2 L387.1,366.1 L391.9,360.5 L396.6,354.0 L401.4,350.3 L406.1,353.5 L410.9,359.7 L415.7,362.9 L420.4,364.3 L425.2,363.6 L429.9,357.2 L434.7,349.1 L439.4,345.7 L444.2,347.6 L448.9,349.1 L453.7,347.8 L458.4,347.3 L463.2,345.6 L467.9,340.1 L472.7,332.9 L477.4,326.3 L482.2,322.2 L486.9,322.9 L491.7,330.9 L496.5,339.4 L501.2,340.0 L506.0,337.8 L510.7,341.0 L515.5,346.1 L520.2,347.4 L525.0,343.5 L529.7,338.0 L534.5,334.9 L539.2,337.2 L544.0,344.5 L548.7,353.8 L553.5,360.3 L558.2,357.8 L563.0,345.3 L567.7,328.0 L572.5,316.7 L577.3,318.5 L582.0,323.1 L586.8,315.1 L591.5,296.8 L596.3,288.9 L601.0,296.1 L605.8,304.9 L610.5,312.3 L615.3,317.5 L620.0,316.4 L624.8,315.1 L629.5,324.0 L634.3,336.8 L639.0,340.6 L643.8,338.2 L648.5,336.4 L653.3,333.9 L658.1,332.8 L662.8,336.5 L667.6,339.4 L672.3,338.2 L677.1,336.4 L681.8,337.6 L686.6,341.5 L691.3,342.9 L696.1,345.0 L700.8,355.0 L705.6,366.1 L710.3,369.1 L715.1,368.5 L719.8,371.7 L724.6,382.8 L729.3,399.2 L734.1,407.2 L738.9,398.6 L743.6,380.9 L748.4,362.2 L753.1,343.8 L757.9,331.7 L762.6,332.1 L767.4,337.5 L772.1,334.9 L776.9,328.8 L781.6,328.3 L786.4,333.6 L791.1,340.6 L795.9,350.2 L800.6,361.8 L805.4,367.3 L810.1,363.8 L814.9,360.7 L819.7,362.2 L824.4,369.5 L829.2,377.6 L833.9,375.1 L838.7,365.4 L843.4,357.5 L848.2,352.3 L852.9,344.9 L857.7,334.6 L862.4,324.9 L867.2,316.5 L871.9,300.4 L876.7,290.2 L881.4,285.8 L886.2,288.1 L891.0,291.5 L895.7,292.1 L900.5,297.7 L905.2,312.5 L910.0,324.8 L914.7,338.2 L919.5,341.4 L924.2,337.3 L929.0,342.9 L933.7,360.6 L938.5,377.3 L943.2,378.8 L948.0,366.1 L952.7,354.9 L957.5,352.0 L962.2,354.2 L967.0,358.3"/>
<path d="M87.7,457.1 L92.4,455.7 L97.2,453.9 L102.0,452.7 L106.7,452.4 L111.5,452.5 L116.2,452.6 L121.0,452.4 L125.7,451.9 L130.5,451.1 L135.2,449.4 L140.0,447.8 L144.7,446.7 L149.5,445.6 L154.2,444.9 L159.0,444.8 L163.7,443.9 L168.5,441.8 L173.2,439.5 L178.0,438.4 L182.8,437.4 L187.5,435.7 L192.3,433.6 L197.0,431.3 L201.8,429.3 L206.5,428.3 L211.3,427.0 L216.0,425.4 L220.8,423.1 L225.5,420.0 L230.3,417.6 L235.0,415.9 L239.8,414.5 L244.5,413.3 L249.3,412.2 L254.0,410.8 L258.8,410.3 L263.6,409.9 L268.3,408.7 L273.1,407.5 L277.8,407.4 L282.6,407.4 L287.3,405.4 L292.1,401.9 L296.8,399.5 L301.6,399.1 L306.3,399.0 L311.1,397.4 L315.8,394.7 L320.6,392.7 L325.3,391.6 L330.1,387.4 L334.8,381.6 L339.6,379.9 L344.4,382.3 L349.1,383.6 L353.9,382.0 L358.6,379.8 L363.4,378.5 L368.1,378.1 L372.9,378.1 L377.6,375.7 L382.4,371.1 L387.1,368.8 L391.9,369.9 L396.6,370.3 L401.4,372.0 L406.1,375.4 L410.9,373.7 L415.7,366.1 L420.4,361.5 L425.2,361.3 L429.9,362.7 L434.7,368.5 L439.4,375.4 L444.2,374.0 L448.9,365.0 L453.7,356.9 L458.4,350.5 L463.2,342.8 L467.9,338.3 L472.7,339.4 L477.4,341.0 L482.2,342.0 L486.9,344.4 L491.7,350.4 L496.5,355.5 L501.2,357.4 L506.0,358.0 L510.7,362.7 L515.5,371.2 L520.2,377.5 L525.0,380.2 L529.7,381.5 L534.5,380.8 L539.2,383.4 L544.0,393.8 L548.7,406.1 L553.5,411.2 L558.2,405.8 L563.0,395.3 L567.7,389.0 L572.5,388.0 L577.3,385.0 L582.0,375.9 L586.8,367.0 L591.5,367.5 L596.3,375.9 L601.0,379.8 L605.8,379.5 L610.5,380.5 L615.3,380.0 L620.0,378.4 L624.8,373.8 L629.5,362.8 L634.3,352.5 L639.0,353.4 L643.8,365.2 L648.5,376.8 L653.3,381.5 L658.1,380.1 L662.8,375.4 L667.6,367.3 L672.3,358.2 L677.1,355.7 L681.8,358.5 L686.6,361.7 L691.3,364.0 L696.1,362.7 L700.8,358.1 L705.6,352.3 L710.3,351.6 L715.1,353.7 L719.8,348.0 L724.6,333.5 L729.3,317.8 L734.1,309.0 L738.9,309.7 L743.6,315.4 L748.4,320.9 L753.1,325.2 L757.9,326.4 L762.6,319.2 L767.4,310.0 L772.1,305.1 L776.9,300.6 L781.6,297.7 L786.4,299.5 L791.1,293.4 L795.9,274.3 L800.6,264.2 L805.4,275.5 L810.1,282.0 L814.9,266.1 L819.7,246.2 L824.4,238.7 L829.2,241.6 L833.9,243.4 L838.7,237.7 L843.4,227.5 L848.2,217.5 L852.9,212.9 L857.7,215.0 L862.4,221.5 L867.2,227.5 L871.9,231.1 L876.7,235.9 L881.4,243.3 L886.2,247.0 L891.0,245.5 L895.7,244.7 L900.5,251.2 L905.2,267.6 L910.0,288.0 L914.7,306.4 L919.5,326.7 L924.2,336.9 L929.0,339.1 L933.7,344.7 L938.5,352.7 L943.2,356.8 L948.0,356.8 L952.7,356.6 L957.5,352.9 L962.2,341.2 L967.0,323.6"/>
<path d="M87.7,457.0 L92.4,456.2 L97.2,455.2 L102.0,454.0 L106.7,453.0 L111.5,452.1 L116.2,451.5 L121.0,451.0 L125.7,450.2 L130.5,449.4 L135.2,448.6 L140.0,447.5 L144.7,445.8 L149.5,443.8 L154.2,442.2 L159.0,440.8 L163.7,439.7 L168.5,438.8 L173.2,437.4 L178.0,435.0 L182.8,432.1 L187.5,430.2 L192.3,429.3 L197.0,429.1 L201.8,429.7 L206.5,431.0 L211.3,431.9 L216.0,431.3 L220.8,428.1 L225.5,424.5 L230.3,422.0 L235.0,420.1 L239.8,418.4 L244.5,417.4 L249.3,416.8 L254.0,414.8 L258.8,411.4 L263.6,408.8 L268.3,408.3 L273.1,407.4 L277.8,405.2 L282.6,402.6 L287.3,401.5 L292.1,401.7 L296.8,400.1 L301.6,396.2 L306.3,393.7 L311.1,392.7 L315.8,392.0 L320.6,392.7 L325.3,393.2 L330.1,391.1 L334.8,388.3 L339.6,385.8 L344.4,383.5 L349.1,383.7 L353.9,385.5 L358.6,386.6 L363.4,387.3 L368.1,387.4 L372.9,384.3 L377.6,380.0 L382.4,378.9 L387.1,379.7 L391.9,377.8 L396.6,372.8 L401.4,369.3 L406.1,370.3 L410.9,372.5 L415.7,370.7 L420.4,367.6 L425.2,370.8 L429.9,379.5 L434.7,382.3 L439.4,374.2 L444.2,366.3 L448.9,365.1 L453.7,363.9 L458.4,362.4 L463.2,362.5 L467.9,359.5 L472.7,353.0 L477.4,348.6 L482.2,347.1 L486.9,344.7 L491.7,342.2 L496.5,342.3 L501.2,343.5 L506.0,345.1 L510.7,343.5 L515.5,338.8 L520.2,334.9 L525.0,334.6 L529.7,339.1 L534.5,342.9 L539.2,341.3 L544.0,337.1 L548.7,333.7 L553.5,332.5 L558.2,329.6 L563.0,322.0 L567.7,312.1 L572.5,304.0 L577.3,305.2 L582.0,317.1 L586.8,324.0 L591.5,317.7 L596.3,303.1 L601.0,291.6 L605.8,283.3 L610.5,278.9 L615.3,282.8 L620.0,285.5 L624.8,274.4 L629.5,254.4 L634.3,238.8 L639.0,232.7 L643.8,234.1 L648.5,239.4 L653.3,242.7 L658.1,241.3 L662.8,243.2 L667.6,251.7 L672.3,256.1 L677.1,253.4 L681.8,251.7 L686.6,250.1 L691.3,251.9 L696.1,265.5 L700.8,283.6 L705.6,290.1 L710.3,281.3 L715.1,271.8 L719.8,273.2 L724.6,279.0 L729.3,276.9 L734.1,269.6 L738.9,266.3 L743.6,263.8 L748.4,263.9 L753.1,272.7 L757.9,281.7 L762.6,284.7 L767.4,283.1 L772.1,283.0 L776.9,289.5 L781.6,299.5 L786.4,306.1 L791.1,306.3 L795.9,306.7 L800.6,310.6 L805.4,327.4 L810.1,346.6 L814.9,363.7 L819.7,377.7 L824.4,382.7 L829.2,383.5 L833.9,381.8 L838.7,373.2 L843.4,365.0 L848.2,361.6 L852.9,356.2 L857.7,354.0 L862.4,354.5 L867.2,341.1 L871.9,325.0 L876.7,326.9 L881.4,340.3 L886.2,354.3 L891.0,373.3 L895.7,391.7 L900.5,399.7 L905.2,397.9 L910.0,389.9 L914.7,385.0 L919.5,387.7 L924.2,391.2 L929.0,394.6 L933.7,393.3 L938.5,388.5 L943.2,395.4 L948.0,418.6 L952.7,450.8 L957.5,481.6 L962.2,498.5 L967.0,497.9"/>
<path d="M87.7,458.9 L92.4,458.4 L97.2,457.4 L102.0,456.1 L106.7,454.6 L111.5,453.2 L116.2,451.8 L121.0,450.6 L125.7,449.6 L130.5,449.1 L135.2,448.6 L140.0,447.8 L144.7,447.0 L149.5,446.3 L154.2,445.4 L159.0,444.1 L163.7,441.8 L168.5,438.8 L173.2,436.3 L178.0,434.6 L182.8,433.4 L187.5,430.6 L192.3,425.9 L197.0,422.3 L201.8,421.1 L206.5,421.0 L211.3,420.5 L216.0,419.3 L220.8,418.5 L225.5,418.5 L230.3,418.2 L235.0,417.8 L239.8,417.6 L244.5,417.2 L249.3,415.6 L254.0,414.5 L258.8,413.7 L263.6,413.1 L268.3,413.2 L273.1,414.4 L277.8,415.3 L282.6,412.8 L287.3,407.8 L292.1,405.0 L296.8,405.6 L301.6,406.6 L306.3,405.1 L311.1,401.7 L315.8,396.9 L320.6,391.9 L325.3,389.0 L330.1,388.5 L334.8,389.6 L339.6,390.0 L344.4,387.9 L349.1,385.6 L353.9,384.3 L358.6,381.3 L363.4,379.0 L368.1,379.7 L372.9,377.2 L377.6,370.1 L382.4,363.7 L387.1,360.4 L391.9,360.9 L396.6,362.8 L401.4,363.1 L406.1,361.9 L410.9,361.6 L415.7,363.5 L420.4,367.3 L425.2,370.6 L429.9,372.7 L434.7,374.5 L439.4,374.5 L444.2,371.5 L448.9,365.8 L453.7,357.7 L458.4,351.3 L463.2,349.0 L467.9,351.6 L472.7,355.6 L477.4,355.8 L482.2,350.9 L486.9,346.4 L491.7,345.6 L496.5,344.7 L501.2,338.8 L506.0,327.6 L510.7,319.1 L515.5,318.6 L520.2,321.6 L525.0,319.0 L529.7,315.0 L534.5,315.7 L539.2,319.0 L544.0,320.1 L548.7,317.1 L553.5,311.0 L558.2,308.1 L563.0,307.3 L567.7,300.4 L572.5,289.3 L577.3,282.1 L582.0,279.3 L586.8,281.7 L591.5,290.0 L596.3,294.2 L601.0,289.6 L605.8,286.0 L610.5,292.2 L615.3,300.9 L620.0,303.3 L624.8,303.9 L629.5,311.0 L634.3,314.7 L639.0,305.8 L643.8,293.2 L648.5,284.0 L653.3,283.2 L658.1,293.6 L662.8,301.9 L667.6,299.4 L672.3,299.4 L677.1,305.1 L681.8,303.7 L686.6,292.2 L691.3,278.7 L696.1,270.0 L700.8,265.9 L705.6,261.5 L710.3,252.2 L715.1,236.8 L719.8,222.1 L724.6,215.4 L729.3,211.3 L734.1,207.9 L738.9,209.0 L743.6,213.1 L748.4,214.1 L753.1,210.4 L757.9,208.9 L762.6,217.4 L767.4,228.8 L772.1,229.5 L776.9,221.6 L781.6,216.1 L786.4,216.9 L791.1,223.8 L795.9,236.6 L800.6,251.6 L805.4,263.4 L810.1,267.7 L814.9,259.5 L819.7,245.8 L824.4,238.9 L829.2,236.2 L833.9,237.7 L838.7,252.6 L843.4,279.1 L848.2,301.2 L852.9,305.4 L857.7,299.7 L862.4,294.2 L867.2,290.6 L871.9,287.9 L876.7,280.8 L881.4,278.2 L886.2,295.5 L891.0,316.3 L895.7,312.8 L900.5,294.7 L905.2,281.2 L910.0,276.6 L914.7,279.8 L919.5,279.8 L924.2,272.8 L929.0,273.0 L933.7,283.9 L938.5,297.6 L943.2,314.6 L948.0,334.8 L952.7,344.9 L957.5,349.5 L962.2,350.4 L967.0,343.4"/>
<path d="M87.7,458.2 L92.4,457.7 L97.2,456.5 L102.0,455.5 L106.7,455.4 L111.5,455.4 L116.2,454.6 L121.0,452.8 L125.7,451.5 L130.5,451.4 L135.2,451.6 L140.0,450.9 L144.7,449.3 L149.5,447.4 L154.2,444.8 L159.0,442.4 L163.7,440.2 L168.5,438.2 L173.2,436.5 L178.0,435.5 L182.8,434.9 L187.5,433.8 L192.3,430.7 L197.0,425.7 L201.8,421.0 L206.5,418.7 L211.3,418.2 L216.0,417.3 L220.8,416.0 L225.5,415.4 L230.3,415.0 L235.0,414.2 L239.8,413.3 L244.5,412.1 L249.3,410.5 L254.0,410.0 L258.8,410.5 L263.6,409.3 L268.3,406.3 L273.1,404.0 L277.8,404.3 L282.6,405.2 L287.3,405.1 L292.1,405.2 L296.8,404.8 L301.6,403.8 L306.3,403.1 L311.1,402.6 L315.8,400.7 L320.6,396.8 L325.3,392.9 L330.1,390.4 L334.8,388.8 L339.6,388.9 L344.4,390.2 L349.1,390.9 L353.9,390.4 L358.6,388.7 L363.4,386.2 L368.1,385.2 L372.9,386.0 L377.6,384.3 L382.4,379.0 L387.1,374.8 L391.9,373.5 L396.6,373.4 L401.4,375.0 L406.1,377.8 L410.9,379.2 L415.7,376.9 L420.4,369.5 L425.2,361.3 L429.9,359.2 L434.7,362.6 L439.4,362.6 L444.2,356.6 L448.9,352.6 L453.7,353.1 L458.4,353.4 L463.2,351.4 L467.9,345.5 L472.7,336.0 L477.4,328.7 L482.2,327.3 L486.9,329.6 L491.7,330.0 L496.5,326.0 L501.2,319.7 L506.0,315.4 L510.7,316.8 L515.5,317.1 L520.2,310.7 L525.0,303.2 L529.7,300.4 L534.5,302.0 L539.2,302.7 L544.0,297.2 L548.7,289.9 L553.5,285.1 L558.2,281.9 L563.0,278.4 L567.7,274.3 L572.5,272.2 L577.3,273.0 L582.0,274.2 L586.8,276.4 L591.5,277.3 L596.3,271.2 L601.0,257.1 L605.8,244.4 L610.5,244.2 L615.3,253.7 L620.0,259.7 L624.8,259.2 L629.5,264.0 L634.3,272.7 L639.0,278.5 L643.8,283.7 L648.5,288.2 L653.3,294.0 L658.1,305.6 L662.8,316.5 L667.6,319.0 L672.3,318.6 L677.1,315.8 L681.8,298.7 L686.6,272.0 L691.3,250.4 L696.1,237.5 L700.8,224.1 L705.6,209.6 L710.3,205.7 L715.1,211.8 L719.8,220.1 L724.6,223.7 L729.3,224.6 L734.1,234.1 L738.9,248.1 L743.6,254.7 L748.4,258.7 L753.1,268.0 L757.9,281.9 L762.6,291.2 L767.4,289.8 L772.1,279.6 L776.9,265.1 L781.6,253.6 L786.4,247.2 L791.1,236.3 L795.9,224.5 L800.6,221.4 L805.4,227.7 L810.1,239.7 L814.9,250.3 L819.7,251.4 L824.4,242.5 L829.2,235.3 L833.9,236.1 L838.7,245.4 L843.4,264.1 L848.2,280.9 L852.9,283.5 L857.7,284.9 L862.4,292.0 L867.2,293.8 L871.9,284.9 L876.7,271.2 L881.4,265.2 L886.2,264.6 L891.0,258.9 L895.7,249.3 L900.5,236.5 L905.2,225.6 L910.0,226.9 L914.7,236.0 L919.5,240.5 L924.2,233.9 L929.0,226.1 L933.7,223.6 L938.5,221.6 L943.2,225.1 L948.0,231.3 L952.7,235.2 L957.5,238.7 L962.2,235.5 L967.0,224.5"/>
<path d="M87.7,458.3 L92.4,457.4 L97.2,456.7 L102.0,455.6 L106.7,454.2 L111.5,452.8 L116.2,451.4 L121.0,450.3 L125.7,449.8 L130.5,449.9 L135.2,449.9 L140.0,448.9 L144.7,447.4 L149.5,446.3 L154.2,445.6 L159.0,444.4 L163.7,442.5 L168.5,441.5 L173.2,441.6 L178.0,440.8 L182.8,439.9 L187.5,440.4 L192.3,439.7 L197.0,436.2 L201.8,431.8 L206.5,429.0 L211.3,427.0 L216.0,424.8 L220.8,423.3 L225.5,422.5 L230.3,420.7 L235.0,419.0 L239.8,417.8 L244.5,415.6 L249.3,412.2 L254.0,409.0 L258.8,406.2 L263.6,402.9 L268.3,400.9 L273.1,400.6 L277.8,399.5 L282.6,396.9 L287.3,393.7 L292.1,390.6 L296.8,389.0 L301.6,390.6 L306.3,394.6 L311.1,396.4 L315.8,394.5 L320.6,392.6 L325.3,391.4 L330.1,387.4 L334.8,382.0 L339.6,380.9 L344.4,384.7 L349.1,387.2 L353.9,384.2 L358.6,379.3 L363.4,375.5 L368.1,372.3 L372.9,370.2 L377.6,368.6 L382.4,366.4 L387.1,363.4 L391.9,360.0 L396.6,356.9 L401.4,353.2 L406.1,349.0 L410.9,347.2 L415.7,348.4 L420.4,349.6 L425.2,349.1 L429.9,349.0 L434.7,347.3 L439.4,342.1 L444.2,335.9 L448.9,331.3 L453.7,332.5 L458.4,337.2 L463.2,339.6 L467.9,339.1 L472.7,337.1 L477.4,337.1 L482.2,338.2 L486.9,336.9 L491.7,337.0 L496.5,340.8 L501.2,341.8 L506.0,340.7 L510.7,339.4 L515.5,335.9 L520.2,333.9 L525.0,336.6 L529.7,339.7 L534.5,341.0 L539.2,346.1 L544.0,354.6 L548.7,355.9 L553.5,346.5 L558.2,332.9 L563.0,325.6 L567.7,328.8 L572.5,333.7 L577.3,336.0 L582.0,339.4 L586.8,344.5 L591.5,347.3 L596.3,352.2 L601.0,358.2 L605.8,353.9 L610.5,342.7 L615.3,338.8 L620.0,343.5 L624.8,348.0 L629.5,346.2 L634.3,335.6 L639.0,326.9 L643.8,331.0 L648.5,344.1 L653.3,358.0 L658.1,367.1 L662.8,366.9 L667.6,358.6 L672.3,350.7 L677.1,346.4 L681.8,340.6 L686.6,335.1 L691.3,338.6 L696.1,350.3 L700.8,355.3 L705.6,344.4 L710.3,328.8 L715.1,320.4 L719.8,318.9 L724.6,322.8 L729.3,320.1 L734.1,310.8 L738.9,311.0 L743.6,331.0 L748.4,355.1 L753.1,361.5 L757.9,356.3 L762.6,357.4 L767.4,363.3 L772.1,366.6 L776.9,369.6 L781.6,371.3 L786.4,366.4 L791.1,354.7 L795.9,345.1 L800.6,347.2 L805.4,352.1 L810.1,344.1 L814.9,334.0 L819.7,341.1 L824.4,356.2 L829.2,371.9 L833.9,393.0 L838.7,408.8 L843.4,410.4 L848.2,407.9 L852.9,406.5 L857.7,403.4 L862.4,395.4 L867.2,377.2 L871.9,356.5 L876.7,349.0 L881.4,350.4 L886.2,343.1 L891.0,331.5 L895.7,326.4 L900.5,317.5 L905.2,303.0 L910.0,297.1 L914.7,302.6 L919.5,299.0 L924.2,284.8 L929.0,281.1 L933.7,293.2 L938.5,299.7 L943.2,289.5 L948.0,280.9 L952.7,285.3 L957.5,287.2 L962.2,282.5 L967.0,285.0"/>
<path d="M87.7,458.3 L92.4,456.5 L97.2,454.8 L102.0,453.8 L106.7,453.5 L111.5,453.4 L116.2,452.9 L121.0,451.9 L125.7,450.9 L130.5,449.7 L135.2,448.2 L140.0,446.5 L144.7,445.0 L149.5,443.8 L154.2,442.9 L159.0,442.2 L163.7,440.8 L168.5,439.0 L173.2,437.6 L178.0,436.6 L182.8,436.6 L187.5,436.7 L192.3,435.7 L197.0,433.3 L201.8,431.1 L206.5,428.9 L211.3,427.9 L216.0,427.5 L220.8,427.0 L225.5,426.4 L230.3,425.5 L235.0,423.7 L239.8,422.0 L244.5,421.9 L249.3,422.3 L254.0,422.1 L258.8,422.5 L263.6,422.9 L268.3,421.7 L273.1,419.6 L277.8,417.5 L282.6,415.9 L287.3,415.0 L292.1,413.3 L296.8,410.4 L301.6,408.0 L306.3,406.8 L311.1,406.0 L315.8,404.3 L320.6,402.4 L325.3,401.3 L330.1,400.2 L334.8,398.6 L339.6,396.8 L344.4,394.9 L349.1,392.4 L353.9,389.7 L358.6,388.0 L363.4,386.6 L368.1,384.5 L372.9,381.7 L377.6,378.2 L382.4,376.7 L387.1,378.9 L391.9,379.2 L396.6,375.7 L401.4,372.1 L406.1,367.8 L410.9,362.5 L415.7,358.8 L420.4,357.3 L425.2,356.2 L429.9,354.4 L434.7,351.8 L439.4,349.1 L444.2,346.6 L448.9,343.6 L453.7,343.9 L458.4,349.4 L463.2,353.4 L467.9,351.3 L472.7,344.3 L477.4,338.3 L482.2,335.6 L486.9,332.4 L491.7,328.1 L496.5,323.9 L501.2,318.8 L506.0,314.0 L510.7,312.9 L515.5,314.0 L520.2,316.6 L525.0,322.7 L529.7,333.7 L534.5,340.6 L539.2,338.9 L544.0,336.2 L548.7,339.4 L553.5,337.5 L558.2,333.3 L563.0,328.6 L567.7,320.1 L572.5,317.1 L577.3,321.1 L582.0,326.2 L586.8,335.0 L591.5,346.8 L596.3,350.4 L601.0,341.6 L605.8,330.4 L610.5,326.4 L615.3,329.6 L620.0,335.8 L624.8,343.1 L629.5,345.4 L634.3,336.8 L639.0,329.6 L643.8,339.0 L648.5,356.2 L653.3,363.2 L658.1,354.1 L662.8,338.7 L667.6,330.2 L672.3,324.1 L677.1,319.2 L681.8,324.9 L686.6,334.5 L691.3,324.3 L696.1,311.1 L700.8,303.0 L705.6,294.6 L710.3,285.1 L715.1,284.0 L719.8,287.0 L724.6,288.7 L729.3,291.7 L734.1,296.0 L738.9,301.8 L743.6,304.9 L748.4,302.3 L753.1,299.3 L757.9,304.6 L762.6,319.9 L767.4,340.7 L772.1,348.0 L776.9,349.6 L781.6,352.2 L786.4,356.8 L791.1,357.1 L795.9,357.7 L800.6,359.3 L805.4,357.9 L810.1,355.8 L814.9,353.1 L819.7,346.9 L824.4,346.5 L829.2,371.2 L833.9,423.9 L838.7,481.3 L843.4,513.9 L848.2,510.7 L852.9,477.8 L857.7,436.7 L862.4,410.9 L867.2,404.5 L871.9,405.9 L876.7,407.2 L881.4,404.4 L886.2,395.8 L891.0,385.0 L895.7,366.7 L900.5,345.2 L905.2,339.2 L910.0,344.2 L914.7,338.8 L919.5,321.4 L924.2,296.2 L929.0,288.5 L933.7,296.9 L938.5,305.7 L943.2,305.5 L948.0,300.5 L952.7,295.0 L957.5,285.0 L962.2,272.9 L967.0,274.1"/>
<path d="M87.7,458.0 L92.4,457.4 L97.2,456.6 L102.0,455.6 L106.7,454.2 L111.5,453.2 L116.2,452.9 L121.0,452.4 L125.7,451.2 L130.5,449.8 L135.2,448.9 L140.0,448.2 L144.7,447.9 L149.5,447.8 L154.2,447.2 L159.0,446.2 L163.7,444.8 L168.5,442.6 L173.2,440.2 L178.0,438.3 L182.8,436.1 L187.5,434.2 L192.3,433.5 L197.0,433.5 L201.8,432.8 L206.5,431.9 L211.3,430.9 L216.0,429.0 L220.8,426.8 L225.5,425.1 L230.3,423.3 L235.0,421.9 L239.8,421.3 L244.5,420.4 L249.3,417.8 L254.0,414.8 L258.8,412.9 L263.6,412.6 L268.3,411.9 L273.1,409.2 L277.8,407.1 L282.6,407.3 L287.3,408.3 L292.1,409.3 L296.8,410.7 L301.6,412.0 L306.3,411.0 L311.1,406.4 L315.8,402.0 L320.6,400.4 L325.3,400.1 L330.1,399.8 L334.8,398.5 L339.6,395.1 L344.4,390.5 L349.1,387.1 L353.9,385.4 L358.6,386.3 L363.4,388.2 L368.1,388.6 L372.9,386.5 L377.6,382.7 L382.4,379.0 L387.1,377.2 L391.9,379.2 L396.6,384.1 L401.4,388.8 L406.1,391.8 L410.9,392.8 L415.7,391.1 L420.4,387.3 L425.2,382.6 L429.9,376.1 L434.7,369.2 L439.4,367.7 L444.2,372.3 L448.9,375.4 L453.7,372.1 L458.4,367.5 L463.2,365.5 L467.9,360.9 L472.7,353.6 L477.4,349.6 L482.2,347.4 L486.9,342.8 L491.7,336.1 L496.5,328.7 L501.2,324.4 L506.0,323.0 L510.7,320.1 L515.5,315.3 L520.2,310.8 L525.0,309.8 L529.7,310.4 L534.5,306.2 L539.2,298.9 L544.0,294.5 L548.7,292.9 L553.5,292.4 L558.2,293.4 L563.0,293.4 L567.7,289.3 L572.5,281.5 L577.3,275.7 L582.0,276.8 L586.8,281.2 L591.5,284.9 L596.3,289.5 L601.0,294.1 L605.8,298.1 L610.5,300.0 L615.3,297.6 L620.0,293.3 L624.8,296.8 L629.5,310.9 L634.3,327.7 L639.0,335.4 L643.8,337.9 L648.5,335.7 L653.3,333.1 L658.1,339.8 L662.8,355.6 L667.6,367.4 L672.3,370.7 L677.1,369.4 L681.8,377.6 L686.6,407.7 L691.3,451.7 L696.1,490.6 L700.8,506.7 L705.6,495.4 L710.3,472.2 L715.1,455.5 L719.8,453.0 L724.6,461.8 L729.3,466.9 L734.1,461.5 L738.9,454.5 L743.6,452.1 L748.4,448.7 L753.1,438.1 L757.9,419.9 L762.6,401.6 L767.4,386.7 L772.1,373.8 L776.9,363.5 L781.6,355.9 L786.4,359.0 L791.1,371.5 L795.9,373.3 L800.6,361.6 L805.4,351.3 L810.1,347.0 L814.9,342.4 L819.7,332.1 L824.4,319.8 L829.2,312.9 L833.9,312.0 L838.7,315.4 L843.4,317.9 L848.2,321.9 L852.9,331.5 L857.7,342.7 L862.4,343.3 L867.2,332.0 L871.9,324.1 L876.7,320.7 L881.4,313.0 L886.2,308.4 L891.0,314.2 L895.7,327.4 L900.5,341.6 L905.2,349.2 L910.0,349.5 L914.7,346.3 L919.5,342.6 L924.2,336.5 L929.0,331.3 L933.7,331.6 L938.5,332.5 L943.2,319.4 L948.0,297.7 L952.7,274.3 L957.5,257.1 L962.2,250.1 L967.0,255.8"/>
<path d="M87.7,458.7 L92.4,458.5 L97.2,457.6 L102.0,456.5 L106.7,455.6 L111.5,454.5 L116.2,452.9 L121.0,451.4 L125.7,450.4 L130.5,449.1 L135.2,447.8 L140.0,447.2 L144.7,446.8 L149.5,445.9 L154.2,445.1 L159.0,444.0 L163.7,443.2 L168.5,443.9 L173.2,444.9 L178.0,443.7 L182.8,440.9 L187.5,439.2 L192.3,438.9 L197.0,438.5 L201.8,437.8 L206.5,438.1 L211.3,439.0 L216.0,438.5 L220.8,436.3 L225.5,433.3 L230.3,429.7 L235.0,425.5 L239.8,421.3 L244.5,417.2 L249.3,414.2 L254.0,412.6 L258.8,412.0 L263.6,412.1 L268.3,412.6 L273.1,412.4 L277.8,410.9 L282.6,409.1 L287.3,408.2 L292.1,407.4 L296.8,404.9 L301.6,400.6 L306.3,397.0 L311.1,396.7 L315.8,397.3 L320.6,395.8 L325.3,394.2 L330.1,393.6 L334.8,392.8 L339.6,391.7 L344.4,389.2 L349.1,385.7 L353.9,383.8 L358.6,382.8 L363.4,380.4 L368.1,378.8 L372.9,378.8 L377.6,378.4 L382.4,377.8 L387.1,376.5 L391.9,374.2 L396.6,372.4 L401.4,372.6 L406.1,374.3 L410.9,376.0 L415.7,378.2 L420.4,379.7 L425.2,379.6 L429.9,379.1 L434.7,378.8 L439.4,378.6 L444.2,377.5 L448.9,374.3 L453.7,368.5 L458.4,362.2 L463.2,360.7 L467.9,364.9 L472.7,366.5 L477.4,360.5 L482.2,354.7 L486.9,356.1 L491.7,360.4 L496.5,359.3 L501.2,351.5 L506.0,345.4 L510.7,346.7 L515.5,350.9 L520.2,354.0 L525.0,357.0 L529.7,361.5 L534.5,368.7 L539.2,373.9 L544.0,375.7 L548.7,385.2 L553.5,404.6 L558.2,418.7 L563.0,418.7 L567.7,414.0 L572.5,409.0 L577.3,398.3 L582.0,387.9 L586.8,386.6 L591.5,384.8 L596.3,375.1 L601.0,371.0 L605.8,377.5 L610.5,382.1 L615.3,375.6 L620.0,361.9 L624.8,351.7 L629.5,348.7 L634.3,350.7 L639.0,358.3 L643.8,368.4 L648.5,375.3 L653.3,378.6 L658.1,385.5 L662.8,399.6 L667.6,413.7 L672.3,420.0 L677.1,419.1 L681.8,416.2 L686.6,414.0 L691.3,415.6 L696.1,423.3 L700.8,433.0 L705.6,437.0 L710.3,432.8 L715.1,423.1 L719.8,405.2 L724.6,381.5 L729.3,365.0 L734.1,356.0 L738.9,346.5 L743.6,340.2 L748.4,341.6 L753.1,342.9 L757.9,332.4 L762.6,316.9 L767.4,306.3 L772.1,299.1 L776.9,288.0 L781.6,280.2 L786.4,284.7 L791.1,287.4 L795.9,278.4 L800.6,268.7 L805.4,267.0 L810.1,267.2 L814.9,271.3 L819.7,284.2 L824.4,292.7 L829.2,292.0 L833.9,287.8 L838.7,279.7 L843.4,273.6 L848.2,274.1 L852.9,268.9 L857.7,254.8 L862.4,245.4 L867.2,250.0 L871.9,262.7 L876.7,273.2 L881.4,274.2 L886.2,264.3 L891.0,256.0 L895.7,252.9 L900.5,250.6 L905.2,248.3 L910.0,245.4 L914.7,242.5 L919.5,240.7 L924.2,246.1 L929.0,259.6 L933.7,275.2 L938.5,296.9 L943.2,322.3 L948.0,339.5 L952.7,353.6 L957.5,363.0 L962.2,362.5 L967.0,356.4"/>
<path d="M87.7,457.4 L92.4,456.6 L97.2,455.7 L102.0,454.8 L106.7,453.5 L111.5,452.0 L116.2,450.6 L121.0,449.9 L125.7,449.6 L130.5,449.1 L135.2,448.2 L140.0,447.3 L144.7,447.0 L149.5,447.1 L154.2,447.1 L159.0,446.6 L163.7,446.1 L168.5,445.9 L173.2,445.3 L178.0,444.0 L182.8,442.3 L187.5,441.1 L192.3,439.3 L197.0,437.2 L201.8,436.3 L206.5,435.6 L211.3,434.0 L216.0,431.7 L220.8,428.7 L225.5,425.3 L230.3,422.9 L235.0,421.5 L239.8,419.6 L244.5,417.8 L249.3,417.5 L254.0,417.3 L258.8,414.8 L263.6,412.4 L268.3,411.4 L273.1,410.3 L277.8,407.6 L282.6,403.7 L287.3,399.6 L292.1,397.1 L296.8,396.4 L301.6,395.8 L306.3,393.8 L311.1,391.6 L315.8,389.8 L320.6,386.8 L325.3,383.9 L330.1,384.0 L334.8,386.7 L339.6,388.4 L344.4,385.8 L349.1,380.9 L353.9,377.5 L358.6,376.5 L363.4,375.6 L368.1,373.0 L372.9,369.5 L377.6,366.6 L382.4,364.4 L387.1,359.8 L391.9,353.5 L396.6,351.0 L401.4,351.7 L406.1,351.7 L410.9,350.3 L415.7,348.8 L420.4,347.9 L425.2,348.1 L429.9,349.9 L434.7,351.8 L439.4,349.6 L444.2,344.5 L448.9,340.0 L453.7,338.9 L458.4,339.7 L463.2,338.8 L467.9,337.9 L472.7,339.8 L477.4,343.1 L482.2,341.0 L486.9,333.2 L491.7,326.3 L496.5,325.5 L501.2,332.3 L506.0,340.0 L510.7,342.9 L515.5,344.7 L520.2,347.3 L525.0,345.1 L529.7,339.0 L534.5,336.2 L539.2,339.6 L544.0,339.6 L548.7,327.7 L553.5,315.0 L558.2,315.8 L563.0,322.2 L567.7,319.8 L572.5,310.6 L577.3,302.8 L582.0,300.1 L586.8,301.6 L591.5,300.5 L596.3,298.2 L601.0,301.2 L605.8,313.7 L610.5,329.7 L615.3,336.3 L620.0,335.1 L624.8,336.7 L629.5,342.2 L634.3,342.3 L639.0,342.8 L643.8,351.3 L648.5,362.2 L653.3,365.4 L658.1,361.6 L662.8,357.7 L667.6,358.2 L672.3,359.3 L677.1,354.6 L681.8,346.4 L686.6,340.1 L691.3,339.7 L696.1,341.9 L700.8,340.1 L705.6,336.9 L710.3,336.5 L715.1,335.4 L719.8,336.0 L724.6,341.7 L729.3,341.2 L734.1,335.5 L738.9,335.8 L743.6,339.1 L748.4,338.5 L753.1,335.0 L757.9,331.5 L762.6,325.3 L767.4,310.0 L772.1,302.4 L776.9,298.8 L781.6,287.6 L786.4,273.4 L791.1,262.8 L795.9,253.3 L800.6,239.6 L805.4,221.8 L810.1,208.8 L814.9,211.2 L819.7,228.7 L824.4,245.5 L829.2,249.4 L833.9,246.5 L838.7,246.8 L843.4,250.4 L848.2,253.3 L852.9,255.9 L857.7,254.7 L862.4,246.1 L867.2,245.1 L871.9,266.1 L876.7,295.3 L881.4,309.9 L886.2,308.8 L891.0,306.7 L895.7,307.8 L900.5,306.4 L905.2,303.1 L910.0,301.7 L914.7,301.0 L919.5,298.3 L924.2,287.5 L929.0,274.4 L933.7,267.8 L938.5,265.3 L943.2,264.0 L948.0,265.5 L952.7,275.3 L957.5,291.5 L962.2,307.0 L967.0,320.4"/>
<path d="M87.7,457.8 L92.4,457.2 L97.2,457.0 L102.0,456.4 L106.7,454.7 L111.5,452.3 L116.2,450.7 L121.0,450.1 L125.7,449.5 L130.5,448.3 L135.2,446.7 L140.0,444.8 L144.7,443.3 L149.5,442.5 L154.2,441.9 L159.0,442.0 L163.7,441.9 L168.5,441.0 L173.2,440.3 L178.0,440.0 L182.8,439.6 L187.5,438.7 L192.3,437.0 L197.0,435.4 L201.8,434.9 L206.5,433.5 L211.3,431.0 L216.0,428.4 L220.8,425.5 L225.5,422.0 L230.3,418.7 L235.0,416.9 L239.8,416.7 L244.5,416.6 L249.3,415.4 L254.0,413.5 L258.8,411.6 L263.6,408.7 L268.3,405.5 L273.1,405.1 L277.8,406.7 L282.6,407.9 L287.3,409.2 L292.1,409.6 L296.8,406.7 L301.6,402.7 L306.3,400.6 L311.1,400.8 L315.8,402.3 L320.6,402.5 L325.3,400.5 L330.1,398.9 L334.8,398.8 L339.6,398.5 L344.4,396.7 L349.1,395.0 L353.9,394.6 L358.6,393.7 L363.4,391.1 L368.1,387.5 L372.9,385.1 L377.6,383.0 L382.4,380.3 L387.1,376.9 L391.9,375.8 L396.6,376.0 L401.4,376.7 L406.1,376.0 L410.9,375.7 L415.7,377.5 L420.4,380.4 L425.2,382.2 L429.9,382.6 L434.7,384.5 L439.4,385.8 L444.2,381.7 L448.9,375.5 L453.7,370.7 L458.4,364.9 L463.2,358.7 L467.9,353.4 L472.7,347.8 L477.4,342.6 L482.2,339.6 L486.9,334.5 L491.7,327.4 L496.5,322.9 L501.2,321.8 L506.0,319.3 L510.7,316.1 L515.5,317.6 L520.2,320.8 L525.0,319.9 L529.7,316.3 L534.5,314.1 L539.2,312.6 L544.0,310.7 L548.7,306.8 L553.5,306.4 L558.2,317.8 L563.0,331.7 L567.7,339.8 L572.5,342.3 L577.3,348.7 L582.0,362.6 L586.8,379.1 L591.5,392.8 L596.3,398.4 L601.0,395.0 L605.8,389.5 L610.5,384.6 L615.3,384.4 L620.0,393.0 L624.8,402.6 L629.5,405.1 L634.3,401.8 L639.0,393.2 L643.8,376.8 L648.5,358.8 L653.3,346.0 L658.1,338.3 L662.8,333.3 L667.6,330.5 L672.3,332.0 L677.1,336.3 L681.8,338.2 L686.6,338.8 L691.3,341.8 L696.1,346.3 L700.8,349.1 L705.6,345.6 L710.3,342.4 L715.1,352.1 L719.8,366.5 L724.6,370.8 L729.3,369.2 L734.1,371.4 L738.9,376.9 L743.6,381.2 L748.4,383.0 L753.1,379.4 L757.9,368.5 L762.6,360.2 L767.4,362.9 L772.1,375.1 L776.9,387.5 L781.6,385.0 L786.4,369.2 L791.1,356.9 L795.9,352.2 L800.6,347.8 L805.4,339.6 L810.1,326.7 L814.9,313.6 L819.7,293.7 L824.4,291.1 L829.2,296.9 L833.9,292.6 L838.7,276.7 L843.4,262.1 L848.2,250.3 L852.9,238.0 L857.7,227.9 L862.4,216.8 L867.2,206.5 L871.9,203.4 L876.7,204.3 L881.4,201.1 L886.2,199.5 L891.0,205.5 L895.7,214.2 L900.5,221.9 L905.2,220.6 L910.0,210.2 L914.7,202.5 L919.5,203.8 L924.2,212.0 L929.0,226.4 L933.7,243.7 L938.5,249.9 L943.2,244.1 L948.0,247.9 L952.7,265.2 L957.5,279.6 L962.2,280.5 L967.0,270.9"/>
<path d="M87.7,459.0 L92.4,458.0 L97.2,456.8 L102.0,456.1 L106.7,455.3 L111.5,453.6 L116.2,451.7 L121.0,449.9 L125.7,448.3 L130.5,447.5 L135.2,447.2 L140.0,447.0 L144.7,446.4 L149.5,446.0 L154.2,445.3 L159.0,443.1 L163.7,439.9 L168.5,437.7 L173.2,437.1 L178.0,437.4 L182.8,437.2 L187.5,435.8 L192.3,433.3 L197.0,431.3 L201.8,430.4 L206.5,430.9 L211.3,430.6 L216.0,429.4 L220.8,428.8 L225.5,428.5 L230.3,426.9 L235.0,423.1 L239.8,417.8 L244.5,412.8 L249.3,409.8 L254.0,409.0 L258.8,409.9 L263.6,411.1 L268.3,410.7 L273.1,409.0 L277.8,407.2 L282.6,405.3 L287.3,403.7 L292.1,402.5 L296.8,401.8 L301.6,401.4 L306.3,400.0 L311.1,399.0 L315.8,400.2 L320.6,401.0 L325.3,398.6 L330.1,395.1 L334.8,394.1 L339.6,394.9 L344.4,394.6 L349.1,392.7 L353.9,388.4 L358.6,383.4 L363.4,380.6 L368.1,379.9 L372.9,379.7 L377.6,380.9 L382.4,382.5 L387.1,381.6 L391.9,381.2 L396.6,382.7 L401.4,380.7 L406.1,375.0 L410.9,371.9 L415.7,373.2 L420.4,373.9 L425.2,373.2 L429.9,373.9 L434.7,374.3 L439.4,373.5 L444.2,372.5 L448.9,373.0 L453.7,374.3 L458.4,374.0 L463.2,372.8 L467.9,371.9 L472.7,370.7 L477.4,373.0 L482.2,377.7 L486.9,380.0 L491.7,377.7 L496.5,373.8 L501.2,374.9 L506.0,376.1 L510.7,370.0 L515.5,362.0 L520.2,358.4 L525.0,355.9 L529.7,352.9 L534.5,348.7 L539.2,339.6 L544.0,330.3 L548.7,325.6 L553.5,322.4 L558.2,318.6 L563.0,318.0 L567.7,320.0 L572.5,325.4 L577.3,330.3 L582.0,330.3 L586.8,328.6 L591.5,329.0 L596.3,329.0 L601.0,322.8 L605.8,318.1 L610.5,329.3 L615.3,351.2 L620.0,368.3 L624.8,378.7 L629.5,389.2 L634.3,395.9 L639.0,395.0 L643.8,396.0 L648.5,399.2 L653.3,390.8 L658.1,373.0 L662.8,360.4 L667.6,351.4 L672.3,336.7 L677.1,316.9 L681.8,301.5 L686.6,287.0 L691.3,279.3 L696.1,275.9 L700.8,267.6 L705.6,259.0 L710.3,253.2 L715.1,250.1 L719.8,254.4 L724.6,259.9 L729.3,261.6 L734.1,261.5 L738.9,254.8 L743.6,245.4 L748.4,240.6 L753.1,238.6 L757.9,238.4 L762.6,244.6 L767.4,250.0 L772.1,241.9 L776.9,228.7 L781.6,224.5 L786.4,224.2 L791.1,224.6 L795.9,226.0 L800.6,227.3 L805.4,232.1 L810.1,241.1 L814.9,244.9 L819.7,243.2 L824.4,249.2 L829.2,264.1 L833.9,275.3 L838.7,277.4 L843.4,275.7 L848.2,274.3 L852.9,273.6 L857.7,273.0 L862.4,266.3 L867.2,250.1 L871.9,237.7 L876.7,247.8 L881.4,274.2 L886.2,292.2 L891.0,293.9 L895.7,287.1 L900.5,280.2 L905.2,275.8 L910.0,273.8 L914.7,275.0 L919.5,270.0 L924.2,253.6 L929.0,239.4 L933.7,230.6 L938.5,227.5 L943.2,242.5 L948.0,266.7 L952.7,278.8 L957.5,281.5 L962.2,283.4 L967.0,286.5"/>
<path d="M87.7,457.7 L92.4,456.0 L97.2,454.3 L102.0,452.9 L106.7,451.9 L111.5,451.0 L116.2,450.3 L121.0,449.8 L125.7,449.8 L130.5,449.7 L135.2,449.3 L140.0,449.2 L144.7,449.4 L149.5,448.7 L154.2,446.7 L159.0,444.7 L163.7,443.5 L168.5,442.5 L173.2,441.3 L178.0,439.8 L182.8,437.9 L187.5,435.9 L192.3,433.2 L197.0,431.0 L201.8,430.2 L206.5,429.1 L211.3,426.5 L216.0,423.2 L220.8,420.5 L225.5,418.7 L230.3,417.2 L235.0,415.2 L239.8,411.8 L244.5,407.6 L249.3,404.8 L254.0,404.8 L258.8,405.7 L263.6,405.4 L268.3,404.8 L273.1,404.1 L277.8,402.4 L282.6,400.0 L287.3,398.8 L292.1,398.2 L296.8,396.1 L301.6,392.7 L306.3,391.1 L311.1,392.8 L315.8,395.2 L320.6,395.0 L325.3,391.5 L330.1,387.5 L334.8,384.8 L339.6,381.8 L344.4,377.4 L349.1,373.4 L353.9,371.6 L358.6,372.1 L363.4,373.5 L368.1,374.0 L372.9,374.2 L377.6,375.3 L382.4,375.4 L387.1,373.1 L391.9,368.7 L396.6,362.6 L401.4,357.3 L406.1,354.7 L410.9,355.5 L415.7,358.6 L420.4,359.9 L425.2,359.4 L429.9,357.9 L434.7,353.0 L439.4,344.1 L444.2,337.4 L448.9,337.6 L453.7,339.2 L458.4,339.6 L463.2,339.1 L467.9,335.0 L472.7,329.2 L477.4,327.5 L482.2,329.1 L486.9,331.8 L491.7,340.8 L496.5,351.4 L501.2,349.4 L506.0,342.1 L510.7,337.2 L515.5,336.1 L520.2,335.1 L525.0,330.6 L529.7,324.4 L534.5,323.4 L539.2,325.5 L544.0,325.1 L548.7,325.9 L553.5,326.3 L558.2,317.5 L563.0,309.1 L567.7,312.1 L572.5,319.9 L577.3,320.7 L582.0,317.9 L586.8,319.8 L591.5,331.1 L596.3,349.1 L601.0,368.5 L605.8,383.0 L610.5,383.7 L615.3,377.9 L620.0,383.4 L624.8,400.4 L629.5,417.8 L634.3,427.0 L639.0,420.4 L643.8,400.7 L648.5,384.0 L653.3,371.6 L658.1,350.3 L662.8,326.3 L667.6,312.8 L672.3,305.7 L677.1,291.1 L681.8,284.3 L686.6,281.0 L691.3,273.8 L696.1,267.6 L700.8,265.1 L705.6,266.1 L710.3,267.6 L715.1,267.0 L719.8,265.4 L724.6,259.7 L729.3,257.7 L734.1,265.9 L738.9,275.0 L743.6,277.0 L748.4,276.8 L753.1,285.3 L757.9,301.2 L762.6,311.2 L767.4,314.2 L772.1,318.2 L776.9,317.4 L781.6,305.6 L786.4,291.9 L791.1,283.9 L795.9,276.6 L800.6,269.4 L805.4,271.3 L810.1,275.1 L814.9,278.5 L819.7,284.9 L824.4,279.8 L829.2,263.0 L833.9,251.6 L838.7,246.6 L843.4,242.6 L848.2,245.3 L852.9,255.4 L857.7,261.4 L862.4,256.5 L867.2,248.4 L871.9,244.4 L876.7,245.2 L881.4,247.4 L886.2,246.6 L891.0,247.7 L895.7,249.5 L900.5,248.3 L905.2,251.6 L910.0,258.1 L914.7,257.8 L919.5,253.2 L924.2,254.5 L929.0,261.9 L933.7,266.0 L938.5,261.7 L943.2,253.5 L948.0,244.6 L952.7,234.9 L957.5,234.3 L962.2,249.4 L967.0,262.4"/>
<path d="M87.7,459.6 L92.4,458.6 L97.2,457.0 L102.0,455.9 L106.7,455.1 L111.5,454.4 L116.2,453.8 L121.0,452.9 L125.7,451.7 L130.5,450.2 L135.2,448.9 L140.0,447.5 L144.7,446.0 L149.5,444.4 L154.2,442.4 L159.0,440.6 L163.7,439.9 L168.5,439.4 L173.2,438.2 L178.0,437.0 L182.8,436.4 L187.5,435.6 L192.3,434.1 L197.0,432.4 L201.8,430.4 L206.5,427.6 L211.3,425.5 L216.0,424.8 L220.8,422.8 L225.5,419.4 L230.3,417.0 L235.0,415.4 L239.8,414.6 L244.5,414.2 L249.3,413.6 L254.0,413.0 L258.8,411.9 L263.6,408.4 L268.3,403.8 L273.1,400.9 L277.8,399.7 L282.6,398.4 L287.3,398.1 L292.1,399.6 L296.8,402.8 L301.6,406.2 L306.3,406.5 L311.1,405.7 L315.8,405.2 L320.6,405.2 L325.3,405.7 L330.1,404.6 L334.8,400.5 L339.6,396.1 L344.4,391.4 L349.1,385.5 L353.9,380.9 L358.6,378.7 L363.4,378.0 L368.1,378.4 L372.9,378.4 L377.6,377.2 L382.4,376.8 L387.1,378.2 L391.9,379.5 L396.6,379.1 L401.4,379.5 L406.1,382.7 L410.9,387.6 L415.7,391.2 L420.4,391.5 L425.2,389.3 L429.9,387.1 L434.7,386.4 L439.4,386.4 L444.2,385.8 L448.9,384.2 L453.7,380.3 L458.4,373.5 L463.2,366.8 L467.9,360.9 L472.7,355.4 L477.4,349.9 L482.2,343.8 L486.9,335.9 L491.7,327.8 L496.5,322.4 L501.2,323.2 L506.0,329.3 L510.7,335.1 L515.5,333.0 L520.2,326.3 L525.0,325.1 L529.7,329.2 L534.5,334.1 L539.2,340.0 L544.0,344.9 L548.7,346.6 L553.5,347.8 L558.2,348.7 L563.0,346.8 L567.7,343.7 L572.5,339.1 L577.3,332.7 L582.0,333.3 L586.8,337.4 L591.5,331.4 L596.3,324.5 L601.0,327.4 L605.8,327.7 L610.5,314.7 L615.3,302.9 L620.0,300.9 L624.8,299.5 L629.5,295.6 L634.3,296.5 L639.0,301.8 L643.8,299.2 L648.5,289.6 L653.3,288.6 L658.1,299.0 L662.8,314.3 L667.6,331.9 L672.3,346.2 L677.1,354.8 L681.8,351.4 L686.6,336.9 L691.3,321.3 L696.1,312.3 L700.8,307.8 L705.6,303.0 L710.3,300.7 L715.1,293.9 L719.8,277.6 L724.6,256.0 L729.3,234.9 L734.1,222.3 L738.9,221.3 L743.6,227.1 L748.4,228.4 L753.1,219.4 L757.9,211.6 L762.6,216.7 L767.4,235.1 L772.1,258.5 L776.9,279.0 L781.6,286.5 L786.4,278.5 L791.1,268.5 L795.9,266.9 L800.6,266.9 L805.4,261.0 L810.1,252.5 L814.9,245.7 L819.7,239.3 L824.4,232.5 L829.2,224.8 L833.9,227.2 L838.7,246.4 L843.4,258.9 L848.2,252.2 L852.9,244.3 L857.7,243.0 L862.4,243.7 L867.2,249.8 L871.9,259.8 L876.7,269.3 L881.4,281.0 L886.2,299.3 L891.0,317.5 L895.7,341.3 L900.5,360.4 L905.2,380.3 L910.0,405.4 L914.7,427.1 L919.5,436.2 L924.2,434.1 L929.0,422.3 L933.7,404.6 L938.5,400.4 L943.2,413.4 L948.0,418.5 L952.7,402.8 L957.5,381.2 L962.2,367.9 L967.0,365.7"/>
<path d="M87.7,455.1 L92.4,453.7 L97.2,452.4 L102.0,451.0 L106.7,449.8 L111.5,449.7 L116.2,450.3 L121.0,450.2 L125.7,449.2 L130.5,447.9 L135.2,446.5 L140.0,445.1 L144.7,444.1 L149.5,444.1 L154.2,444.1 L159.0,443.4 L163.7,442.8 L168.5,442.5 L173.2,442.4 L178.0,440.9 L182.8,438.7 L187.5,437.3 L192.3,437.0 L197.0,436.6 L201.8,435.2 L206.5,433.5 L211.3,431.5 L216.0,430.1 L220.8,430.0 L225.5,428.3 L230.3,424.1 L235.0,420.7 L239.8,420.8 L244.5,422.0 L249.3,420.4 L254.0,417.1 L258.8,414.5 L263.6,413.0 L268.3,411.8 L273.1,410.0 L277.8,408.5 L282.6,408.0 L287.3,406.9 L292.1,405.4 L296.8,403.6 L301.6,401.3 L306.3,397.9 L311.1,394.7 L315.8,392.9 L320.6,391.1 L325.3,387.0 L330.1,381.0 L334.8,378.1 L339.6,380.8 L344.4,385.8 L349.1,387.4 L353.9,384.4 L358.6,380.2 L363.4,377.4 L368.1,378.1 L372.9,380.7 L377.6,381.4 L382.4,378.7 L387.1,374.2 L391.9,370.5 L396.6,367.6 L401.4,365.8 L406.1,366.2 L410.9,367.8 L415.7,367.8 L420.4,365.2 L425.2,362.1 L429.9,359.6 L434.7,357.4 L439.4,356.7 L444.2,358.5 L448.9,359.3 L453.7,356.5 L458.4,351.4 L463.2,345.7 L467.9,341.4 L472.7,340.7 L477.4,344.0 L482.2,347.1 L486.9,344.8 L491.7,340.4 L496.5,342.8 L501.2,351.0 L506.0,356.5 L510.7,355.9 L515.5,350.1 L520.2,341.6 L525.0,337.5 L529.7,340.9 L534.5,346.4 L539.2,347.0 L544.0,343.5 L548.7,338.8 L553.5,332.5 L558.2,325.7 L563.0,323.1 L567.7,329.0 L572.5,342.3 L577.3,356.7 L582.0,363.5 L586.8,358.1 L591.5,347.0 L596.3,341.8 L601.0,341.9 L605.8,338.5 L610.5,330.6 L615.3,323.8 L620.0,322.8 L624.8,317.8 L629.5,308.7 L634.3,295.9 L639.0,284.7 L643.8,278.2 L648.5,276.5 L653.3,276.0 L658.1,275.1 L662.8,274.2 L667.6,276.1 L672.3,283.3 L677.1,289.7 L681.8,291.2 L686.6,288.1 L691.3,285.1 L696.1,289.8 L700.8,298.7 L705.6,303.5 L710.3,305.6 L715.1,310.4 L719.8,316.0 L724.6,316.2 L729.3,316.0 L734.1,321.7 L738.9,322.5 L743.6,314.7 L748.4,305.9 L753.1,304.7 L757.9,312.0 L762.6,312.9 L767.4,298.0 L772.1,283.3 L776.9,281.6 L781.6,284.1 L786.4,280.1 L791.1,270.1 L795.9,265.7 L800.6,271.8 L805.4,280.4 L810.1,280.6 L814.9,273.6 L819.7,264.4 L824.4,251.1 L829.2,234.4 L833.9,224.0 L838.7,229.1 L843.4,246.6 L848.2,267.3 L852.9,283.1 L857.7,300.1 L862.4,319.0 L867.2,334.3 L871.9,350.4 L876.7,367.0 L881.4,389.9 L886.2,416.0 L891.0,436.5 L895.7,446.5 L900.5,445.3 L905.2,440.7 L910.0,436.1 L914.7,428.1 L919.5,413.4 L924.2,389.7 L929.0,362.7 L933.7,343.4 L938.5,338.3 L943.2,342.5 L948.0,335.4 L952.7,313.6 L957.5,284.5 L962.2,259.9 L967.0,246.6"/>
<path d="M87.7,458.9 L92.4,457.8 L97.2,456.7 L102.0,455.6 L106.7,454.5 L111.5,453.9 L116.2,453.6 L121.0,453.2 L125.7,452.6 L130.5,452.2 L135.2,452.2 L140.0,451.3 L144.7,449.4 L149.5,447.7 L154.2,447.2 L159.0,447.2 L163.7,446.5 L168.5,444.6 L173.2,443.2 L178.0,442.7 L182.8,442.0 L187.5,440.9 L192.3,439.7 L197.0,439.4 L201.8,439.5 L206.5,438.2 L211.3,436.5 L216.0,435.6 L220.8,434.1 L225.5,430.8 L230.3,426.9 L235.0,424.1 L239.8,423.0 L244.5,422.4 L249.3,420.4 L254.0,416.8 L258.8,414.4 L263.6,414.2 L268.3,413.9 L273.1,412.4 L277.8,411.2 L282.6,410.4 L287.3,410.5 L292.1,412.1 L296.8,412.7 L301.6,411.6 L306.3,411.1 L311.1,411.2 L315.8,410.3 L320.6,406.9 L325.3,403.6 L330.1,401.8 L334.8,398.6 L339.6,392.9 L344.4,389.6 L349.1,391.3 L353.9,394.4 L358.6,394.6 L363.4,391.0 L368.1,385.8 L372.9,382.2 L377.6,381.6 L382.4,381.4 L387.1,379.6 L391.9,376.7 L396.6,373.4 L401.4,371.6 L406.1,370.8 L410.9,368.6 L415.7,368.4 L420.4,367.2 L425.2,361.6 L429.9,354.5 L434.7,348.3 L439.4,343.5 L444.2,341.0 L448.9,340.6 L453.7,340.7 L458.4,340.2 L463.2,340.7 L467.9,344.9 L472.7,348.7 L477.4,346.5 L482.2,339.6 L486.9,333.6 L491.7,331.5 L496.5,334.2 L501.2,338.9 L506.0,340.3 L510.7,336.1 L515.5,331.2 L520.2,331.9 L525.0,334.0 L529.7,331.9 L534.5,326.2 L539.2,318.4 L544.0,308.0 L548.7,299.4 L553.5,295.4 L558.2,294.4 L563.0,297.6 L567.7,304.2 L572.5,310.5 L577.3,312.7 L582.0,310.3 L586.8,309.1 L591.5,311.0 L596.3,312.2 L601.0,314.6 L605.8,315.6 L610.5,320.4 L615.3,325.8 L620.0,328.9 L624.8,333.5 L629.5,335.5 L634.3,331.8 L639.0,338.0 L643.8,354.8 L648.5,367.2 L653.3,372.7 L658.1,373.5 L662.8,372.4 L667.6,369.3 L672.3,361.8 L677.1,354.4 L681.8,345.6 L686.6,329.6 L691.3,315.1 L696.1,317.2 L700.8,334.6 L705.6,333.0 L710.3,315.3 L715.1,289.0 L719.8,270.5 L724.6,265.6 L729.3,269.7 L734.1,271.5 L738.9,261.9 L743.6,244.7 L748.4,235.2 L753.1,241.9 L757.9,255.1 L762.6,269.8 L767.4,285.2 L772.1,298.7 L776.9,306.5 L781.6,299.6 L786.4,287.7 L791.1,296.3 L795.9,321.4 L800.6,331.0 L805.4,327.5 L810.1,329.6 L814.9,339.1 L819.7,346.2 L824.4,345.1 L829.2,344.3 L833.9,353.4 L838.7,367.2 L843.4,367.5 L848.2,356.0 L852.9,351.2 L857.7,363.5 L862.4,383.9 L867.2,394.1 L871.9,382.5 L876.7,356.5 L881.4,334.6 L886.2,325.8 L891.0,327.0 L895.7,331.2 L900.5,336.1 L905.2,338.9 L910.0,338.3 L914.7,339.4 L919.5,342.4 L924.2,338.3 L929.0,332.9 L933.7,337.5 L938.5,347.1 L943.2,357.9 L948.0,369.3 L952.7,376.0 L957.5,371.7 L962.2,355.5 L967.0,335.5"/>
<path d="M87.7,457.3 L92.4,456.2 L97.2,454.9 L102.0,453.9 L106.7,452.7 L111.5,451.1 L116.2,449.5 L121.0,448.5 L125.7,448.3 L130.5,448.3 L135.2,447.9 L140.0,446.9 L144.7,446.1 L149.5,445.7 L154.2,444.9 L159.0,443.5 L163.7,442.2 L168.5,440.7 L173.2,438.9 L178.0,437.0 L182.8,434.8 L187.5,432.5 L192.3,430.9 L197.0,430.3 L201.8,430.2 L206.5,429.4 L211.3,427.5 L216.0,424.6 L220.8,421.7 L225.5,419.6 L230.3,419.3 L235.0,420.5 L239.8,420.9 L244.5,420.4 L249.3,418.1 L254.0,414.8 L258.8,412.3 L263.6,412.6 L268.3,415.8 L273.1,419.7 L277.8,421.1 L282.6,418.0 L287.3,411.4 L292.1,405.2 L296.8,402.1 L301.6,401.6 L306.3,401.1 L311.1,400.3 L315.8,400.1 L320.6,398.6 L325.3,395.2 L330.1,391.6 L334.8,389.8 L339.6,388.5 L344.4,385.3 L349.1,381.4 L353.9,378.3 L358.6,377.2 L363.4,378.4 L368.1,379.7 L372.9,377.4 L377.6,372.3 L382.4,368.4 L387.1,366.5 L391.9,364.6 L396.6,363.1 L401.4,363.3 L406.1,362.4 L410.9,356.3 L415.7,347.5 L420.4,344.3 L425.2,346.7 L429.9,347.2 L434.7,343.9 L439.4,340.7 L444.2,341.6 L448.9,345.7 L453.7,350.2 L458.4,351.2 L463.2,346.3 L467.9,341.8 L472.7,344.6 L477.4,350.6 L482.2,352.1 L486.9,348.5 L491.7,342.6 L496.5,338.7 L501.2,339.1 L506.0,338.2 L510.7,332.3 L515.5,324.6 L520.2,318.4 L525.0,314.8 L529.7,312.5 L534.5,309.6 L539.2,303.9 L544.0,299.9 L548.7,302.8 L553.5,309.7 L558.2,317.2 L563.0,324.3 L567.7,328.7 L572.5,329.6 L577.3,328.4 L582.0,326.9 L586.8,327.0 L591.5,326.8 L596.3,329.2 L601.0,330.1 L605.8,334.0 L610.5,344.3 L615.3,353.6 L620.0,358.0 L624.8,360.2 L629.5,360.7 L634.3,355.0 L639.0,343.5 L643.8,332.6 L648.5,324.5 L653.3,321.2 L658.1,327.0 L662.8,337.0 L667.6,344.6 L672.3,349.1 L677.1,354.3 L681.8,363.9 L686.6,377.9 L691.3,387.5 L696.1,389.2 L700.8,397.8 L705.6,417.2 L710.3,432.3 L715.1,440.9 L719.8,454.1 L724.6,471.5 L729.3,480.0 L734.1,470.1 L738.9,446.7 L743.6,425.1 L748.4,410.1 L753.1,396.7 L757.9,383.0 L762.6,370.6 L767.4,363.9 L772.1,362.2 L776.9,362.2 L781.6,360.9 L786.4,355.3 L791.1,345.1 L795.9,338.1 L800.6,338.0 L805.4,334.9 L810.1,328.5 L814.9,327.2 L819.7,323.9 L824.4,312.2 L829.2,302.3 L833.9,301.3 L838.7,299.6 L843.4,300.1 L848.2,301.7 L852.9,301.1 L857.7,291.5 L862.4,277.5 L867.2,270.6 L871.9,276.3 L876.7,284.7 L881.4,290.5 L886.2,294.3 L891.0,293.9 L895.7,291.6 L900.5,287.6 L905.2,281.0 L910.0,279.5 L914.7,284.6 L919.5,289.4 L924.2,290.5 L929.0,288.1 L933.7,289.9 L938.5,290.0 L943.2,278.4 L948.0,263.2 L952.7,255.5 L957.5,259.0 L962.2,265.6 L967.0,261.8"/>
<path d="M87.7,456.8 L92.4,455.5 L97.2,454.4 L102.0,453.4 L106.7,451.9 L111.5,449.9 L116.2,448.3 L121.0,447.8 L125.7,448.1 L130.5,448.1 L135.2,447.6 L140.0,446.7 L144.7,445.1 L149.5,443.4 L154.2,441.7 L159.0,439.8 L163.7,438.3 L168.5,437.8 L173.2,437.6 L178.0,436.9 L182.8,436.5 L187.5,437.1 L192.3,437.0 L197.0,436.4 L201.8,435.4 L206.5,433.6 L211.3,430.9 L216.0,427.7 L220.8,424.3 L225.5,421.6 L230.3,420.2 L235.0,419.8 L239.8,419.7 L244.5,418.7 L249.3,416.0 L254.0,413.2 L258.8,411.9 L263.6,411.8 L268.3,410.6 L273.1,407.2 L277.8,403.9 L282.6,403.6 L287.3,405.3 L292.1,405.4 L296.8,402.4 L301.6,398.0 L306.3,394.4 L311.1,391.8 L315.8,390.5 L320.6,391.1 L325.3,392.6 L330.1,392.6 L334.8,390.0 L339.6,388.0 L344.4,388.0 L349.1,389.6 L353.9,389.1 L358.6,385.5 L363.4,382.7 L368.1,382.5 L372.9,382.5 L377.6,381.2 L382.4,378.6 L387.1,373.4 L391.9,369.4 L396.6,369.1 L401.4,369.6 L406.1,366.2 L410.9,358.7 L415.7,350.9 L420.4,347.5 L425.2,350.6 L429.9,355.9 L434.7,355.7 L439.4,348.2 L444.2,339.7 L448.9,336.6 L453.7,340.0 L458.4,345.6 L463.2,347.0 L467.9,343.5 L472.7,338.9 L477.4,335.8 L482.2,334.2 L486.9,334.2 L491.7,334.1 L496.5,332.1 L501.2,327.8 L506.0,323.9 L510.7,320.9 L515.5,317.0 L520.2,313.5 L525.0,310.5 L529.7,307.7 L534.5,304.4 L539.2,298.3 L544.0,292.0 L548.7,289.4 L553.5,291.0 L558.2,295.8 L563.0,298.7 L567.7,296.6 L572.5,295.9 L577.3,300.8 L582.0,303.2 L586.8,299.5 L591.5,297.5 L596.3,299.2 L601.0,298.6 L605.8,292.8 L610.5,280.6 L615.3,268.7 L620.0,264.0 L624.8,262.3 L629.5,259.2 L634.3,258.5 L639.0,266.8 L643.8,277.8 L648.5,282.5 L653.3,283.9 L658.1,287.6 L662.8,299.5 L667.6,317.4 L672.3,334.5 L677.1,334.6 L681.8,332.3 L686.6,325.4 L691.3,311.7 L696.1,304.8 L700.8,318.0 L705.6,341.8 L710.3,357.2 L715.1,357.3 L719.8,343.7 L724.6,329.4 L729.3,327.5 L734.1,334.4 L738.9,340.3 L743.6,348.0 L748.4,360.9 L753.1,378.0 L757.9,403.2 L762.6,439.1 L767.4,477.0 L772.1,502.6 L776.9,503.7 L781.6,487.1 L786.4,470.0 L791.1,451.2 L795.9,427.3 L800.6,405.3 L805.4,386.2 L810.1,361.0 L814.9,333.4 L819.7,310.5 L824.4,291.6 L829.2,283.4 L833.9,273.0 L838.7,260.6 L843.4,252.7 L848.2,249.5 L852.9,246.1 L857.7,241.6 L862.4,238.3 L867.2,241.3 L871.9,250.4 L876.7,260.1 L881.4,270.5 L886.2,279.2 L891.0,282.3 L895.7,284.1 L900.5,287.5 L905.2,297.4 L910.0,317.5 L914.7,336.3 L919.5,345.8 L924.2,358.4 L929.0,364.1 L933.7,357.6 L938.5,353.5 L943.2,355.9 L948.0,352.4 L952.7,342.8 L957.5,336.7 L962.2,335.0 L967.0,335.6"/>
<path d="M87.7,460.2 L92.4,459.8 L97.2,458.7 L102.0,457.0 L106.7,455.6 L111.5,454.7 L116.2,454.4 L121.0,454.6 L125.7,454.9 L130.5,454.4 L135.2,452.6 L140.0,450.6 L144.7,448.9 L149.5,447.7 L154.2,446.9 L159.0,445.7 L163.7,443.8 L168.5,442.0 L173.2,441.4 L178.0,441.8 L182.8,441.7 L187.5,439.6 L192.3,436.1 L197.0,433.2 L201.8,430.9 L206.5,429.6 L211.3,429.3 L216.0,428.1 L220.8,424.8 L225.5,420.9 L230.3,417.8 L235.0,415.0 L239.8,412.2 L244.5,411.4 L249.3,411.6 L254.0,409.4 L258.8,406.5 L263.6,407.0 L268.3,410.5 L273.1,412.4 L277.8,409.3 L282.6,405.2 L287.3,403.9 L292.1,405.6 L296.8,408.7 L301.6,410.3 L306.3,409.4 L311.1,408.5 L315.8,407.7 L320.6,404.1 L325.3,398.1 L330.1,393.1 L334.8,390.3 L339.6,390.0 L344.4,390.7 L349.1,390.8 L353.9,392.1 L358.6,393.5 L363.4,391.1 L368.1,387.0 L372.9,386.0 L377.6,388.0 L382.4,391.7 L387.1,396.1 L391.9,397.6 L396.6,397.5 L401.4,397.1 L406.1,393.8 L410.9,389.8 L415.7,389.1 L420.4,389.9 L425.2,389.8 L429.9,388.7 L434.7,385.1 L439.4,378.8 L444.2,373.3 L448.9,371.0 L453.7,368.2 L458.4,363.6 L463.2,361.6 L467.9,359.2 L472.7,354.2 L477.4,348.8 L482.2,343.2 L486.9,338.4 L491.7,338.0 L496.5,337.4 L501.2,335.1 L506.0,336.6 L510.7,337.9 L515.5,330.2 L520.2,316.6 L525.0,308.9 L529.7,313.7 L534.5,325.8 L539.2,332.6 L544.0,332.7 L548.7,333.4 L553.5,339.2 L558.2,348.3 L563.0,351.6 L567.7,345.2 L572.5,336.5 L577.3,332.6 L582.0,327.6 L586.8,314.9 L591.5,305.0 L596.3,304.8 L601.0,307.7 L605.8,304.7 L610.5,297.9 L615.3,291.4 L620.0,284.0 L624.8,277.5 L629.5,273.7 L634.3,274.2 L639.0,274.9 L643.8,266.0 L648.5,257.2 L653.3,263.4 L658.1,271.1 L662.8,271.8 L667.6,275.8 L672.3,277.1 L677.1,272.9 L681.8,269.9 L686.6,267.2 L691.3,269.6 L696.1,276.7 L700.8,274.2 L705.6,264.6 L710.3,262.7 L715.1,266.0 L719.8,270.3 L724.6,275.8 L729.3,276.5 L734.1,273.5 L738.9,266.8 L743.6,258.7 L748.4,256.2 L753.1,255.9 L757.9,254.3 L762.6,256.3 L767.4,265.1 L772.1,275.2 L776.9,277.1 L781.6,265.0 L786.4,251.5 L791.1,256.0 L795.9,274.2 L800.6,288.1 L805.4,295.1 L810.1,305.8 L814.9,325.0 L819.7,333.4 L824.4,336.3 L829.2,337.8 L833.9,343.0 L838.7,349.6 L843.4,353.6 L848.2,358.2 L852.9,368.2 L857.7,378.5 L862.4,384.2 L867.2,392.4 L871.9,401.3 L876.7,403.5 L881.4,401.1 L886.2,398.5 L891.0,401.0 L895.7,409.3 L900.5,413.9 L905.2,406.6 L910.0,388.4 L914.7,364.7 L919.5,340.8 L924.2,321.9 L929.0,292.1 L933.7,276.4 L938.5,264.9 L943.2,249.2 L948.0,231.7 L952.7,226.3 L957.5,231.8 L962.2,236.4 L967.0,238.7"/>
<path d="M87.7,459.1 L92.4,458.3 L97.2,457.2 L102.0,456.1 L106.7,455.1 L111.5,454.2 L116.2,453.1 L121.0,452.2 L125.7,450.9 L130.5,449.1 L135.2,447.9 L140.0,447.7 L144.7,447.8 L149.5,447.6 L154.2,447.3 L159.0,447.3 L163.7,446.6 L168.5,444.8 L173.2,443.3 L178.0,442.2 L182.8,440.2 L187.5,436.9 L192.3,434.0 L197.0,432.5 L201.8,431.6 L206.5,430.1 L211.3,427.0 L216.0,423.2 L220.8,419.4 L225.5,416.9 L230.3,415.4 L235.0,414.7 L239.8,415.0 L244.5,416.2 L249.3,415.7 L254.0,412.7 L258.8,410.8 L263.6,411.8 L268.3,412.5 L273.1,410.8 L277.8,409.2 L282.6,408.4 L287.3,407.5 L292.1,406.3 L296.8,403.9 L301.6,401.0 L306.3,399.0 L311.1,398.5 L315.8,399.5 L320.6,400.1 L325.3,399.2 L330.1,397.5 L334.8,396.8 L339.6,396.9 L344.4,397.6 L349.1,397.0 L353.9,393.1 L358.6,388.7 L363.4,387.7 L368.1,388.4 L372.9,386.0 L377.6,381.2 L382.4,377.7 L387.1,376.1 L391.9,376.3 L396.6,374.0 L401.4,370.3 L406.1,370.3 L410.9,372.0 L415.7,368.5 L420.4,362.8 L425.2,362.0 L429.9,364.6 L434.7,365.3 L439.4,365.6 L444.2,367.4 L448.9,366.8 L453.7,361.6 L458.4,355.1 L463.2,352.1 L467.9,354.2 L472.7,357.9 L477.4,361.6 L482.2,367.2 L486.9,372.0 L491.7,373.8 L496.5,376.7 L501.2,383.9 L506.0,390.7 L510.7,389.8 L515.5,386.1 L520.2,391.9 L525.0,403.2 L529.7,409.7 L534.5,413.1 L539.2,416.6 L544.0,418.0 L548.7,417.4 L553.5,417.2 L558.2,416.7 L563.0,416.0 L567.7,418.0 L572.5,421.2 L577.3,421.5 L582.0,419.1 L586.8,415.8 L591.5,416.0 L596.3,420.2 L601.0,423.7 L605.8,423.3 L610.5,417.2 L615.3,405.0 L620.0,388.8 L624.8,376.0 L629.5,372.2 L634.3,369.6 L639.0,360.2 L643.8,347.0 L648.5,332.6 L653.3,309.2 L658.1,292.8 L662.8,281.7 L667.6,269.0 L672.3,254.3 L677.1,246.5 L681.8,246.9 L686.6,250.9 L691.3,258.7 L696.1,264.7 L700.8,260.0 L705.6,249.2 L710.3,242.7 L715.1,246.6 L719.8,260.0 L724.6,278.6 L729.3,296.7 L734.1,311.6 L738.9,319.8 L743.6,323.0 L748.4,325.5 L753.1,330.3 L757.9,341.2 L762.6,352.7 L767.4,359.4 L772.1,366.6 L776.9,375.8 L781.6,378.8 L786.4,377.7 L791.1,372.4 L795.9,364.4 L800.6,360.5 L805.4,355.8 L810.1,342.5 L814.9,328.3 L819.7,324.7 L824.4,330.9 L829.2,340.5 L833.9,345.6 L838.7,341.3 L843.4,331.1 L848.2,319.7 L852.9,312.4 L857.7,316.4 L862.4,328.4 L867.2,336.0 L871.9,323.4 L876.7,302.5 L881.4,288.4 L886.2,288.4 L891.0,301.4 L895.7,315.4 L900.5,314.8 L905.2,304.5 L910.0,300.2 L914.7,301.2 L919.5,300.9 L924.2,304.9 L929.0,320.9 L933.7,344.2 L938.5,360.1 L943.2,368.8 L948.0,378.8 L952.7,387.1 L957.5,390.8 L962.2,394.0 L967.0,402.4"/>
<path d="M87.7,457.3 L92.4,456.7 L97.2,456.0 L102.0,455.0 L106.7,453.9 L111.5,452.9 L116.2,452.2 L121.0,451.5 L125.7,450.5 L130.5,449.2 L135.2,447.9 L140.0,446.3 L144.7,444.2 L149.5,441.9 L154.2,439.9 L159.0,438.9 L163.7,438.7 L168.5,438.0 L173.2,435.6 L178.0,433.0 L182.8,431.1 L187.5,429.2 L192.3,427.4 L197.0,426.4 L201.8,426.1 L206.5,424.3 L211.3,421.6 L216.0,420.0 L220.8,419.2 L225.5,419.1 L230.3,420.9 L235.0,421.5 L239.8,421.7 L244.5,421.7 L249.3,421.1 L254.0,420.1 L258.8,419.2 L263.6,416.1 L268.3,411.7 L273.1,410.9 L277.8,412.1 L282.6,411.2 L287.3,409.7 L292.1,409.0 L296.8,406.9 L301.6,404.0 L306.3,402.7 L311.1,401.3 L315.8,398.8 L320.6,396.8 L325.3,396.0 L330.1,394.5 L334.8,393.0 L339.6,394.4 L344.4,397.4 L349.1,397.4 L353.9,394.6 L358.6,393.6 L363.4,394.2 L368.1,396.0 L372.9,399.6 L377.6,402.2 L382.4,400.2 L387.1,397.0 L391.9,397.0 L396.6,398.4 L401.4,397.6 L406.1,393.8 L410.9,389.5 L415.7,385.1 L420.4,379.4 L425.2,375.0 L429.9,374.4 L434.7,372.3 L439.4,367.0 L444.2,364.1 L448.9,366.3 L453.7,366.4 L458.4,359.7 L463.2,354.5 L467.9,356.0 L472.7,357.3 L477.4,354.0 L482.2,350.8 L486.9,349.7 L491.7,343.0 L496.5,335.0 L501.2,337.4 L506.0,340.3 L510.7,334.4 L515.5,331.5 L520.2,341.1 L525.0,353.7 L529.7,358.8 L534.5,356.2 L539.2,347.3 L544.0,337.7 L548.7,333.5 L553.5,329.6 L558.2,321.6 L563.0,317.3 L567.7,320.0 L572.5,322.9 L577.3,319.0 L582.0,314.9 L586.8,320.0 L591.5,328.2 L596.3,326.0 L601.0,317.3 L605.8,311.6 L610.5,309.0 L615.3,308.3 L620.0,309.0 L624.8,305.7 L629.5,298.5 L634.3,290.6 L639.0,282.0 L643.8,276.1 L648.5,272.1 L653.3,266.9 L658.1,266.8 L662.8,273.0 L667.6,277.9 L672.3,282.7 L677.1,285.2 L681.8,284.9 L686.6,291.2 L691.3,300.2 L696.1,301.8 L700.8,300.3 L705.6,301.6 L710.3,305.7 L715.1,313.0 L719.8,323.7 L724.6,335.9 L729.3,344.4 L734.1,347.2 L738.9,348.0 L743.6,349.6 L748.4,351.6 L753.1,349.2 L757.9,348.9 L762.6,349.4 L767.4,342.4 L772.1,325.4 L776.9,312.3 L781.6,305.1 L786.4,303.6 L791.1,305.2 L795.9,305.0 L800.6,306.8 L805.4,309.4 L810.1,303.4 L814.9,291.9 L819.7,290.6 L824.4,290.1 L829.2,302.0 L833.9,318.7 L838.7,332.6 L843.4,336.0 L848.2,330.4 L852.9,331.8 L857.7,345.3 L862.4,350.4 L867.2,338.5 L871.9,329.1 L876.7,330.8 L881.4,333.6 L886.2,328.6 L891.0,322.4 L895.7,316.5 L900.5,316.5 L905.2,316.4 L910.0,305.3 L914.7,282.5 L919.5,269.7 L924.2,273.6 L929.0,288.7 L933.7,312.3 L938.5,338.6 L943.2,356.2 L948.0,358.5 L952.7,347.7 L957.5,340.0 L962.2,339.4 L967.0,337.5"/>
<path d="M87.7,458.7 L92.4,458.4 L97.2,457.9 L102.0,456.7 L106.7,455.2 L111.5,454.0 L116.2,453.1 L121.0,452.0 L125.7,450.9 L130.5,449.9 L135.2,449.2 L140.0,448.6 L144.7,447.9 L149.5,446.7 L154.2,445.5 L159.0,445.2 L163.7,444.5 L168.5,442.4 L173.2,440.2 L178.0,440.0 L182.8,441.9 L187.5,443.1 L192.3,442.0 L197.0,440.1 L201.8,438.7 L206.5,437.6 L211.3,436.7 L216.0,435.1 L220.8,432.4 L225.5,429.2 L230.3,426.2 L235.0,424.4 L239.8,423.9 L244.5,424.4 L249.3,424.4 L254.0,422.5 L258.8,419.8 L263.6,418.0 L268.3,417.3 L273.1,416.8 L277.8,414.7 L282.6,411.2 L287.3,407.8 L292.1,404.6 L296.8,401.4 L301.6,399.3 L306.3,396.8 L311.1,394.8 L315.8,393.7 L320.6,392.8 L325.3,391.7 L330.1,391.2 L334.8,390.0 L339.6,387.1 L344.4,383.3 L349.1,379.1 L353.9,376.2 L358.6,375.2 L363.4,374.4 L368.1,374.4 L372.9,376.1 L377.6,375.7 L382.4,372.4 L387.1,370.3 L391.9,369.6 L396.6,368.8 L401.4,367.3 L406.1,364.9 L410.9,364.3 L415.7,364.6 L420.4,360.8 L425.2,355.1 L429.9,352.3 L434.7,353.3 L439.4,354.8 L444.2,353.9 L448.9,352.8 L453.7,352.0 L458.4,347.3 L463.2,340.1 L467.9,338.5 L472.7,341.1 L477.4,344.0 L482.2,346.2 L486.9,345.9 L491.7,345.1 L496.5,349.8 L501.2,356.9 L506.0,359.8 L510.7,361.4 L515.5,368.2 L520.2,376.2 L525.0,378.6 L529.7,373.3 L534.5,366.9 L539.2,366.4 L544.0,365.2 L548.7,360.8 L553.5,356.3 L558.2,352.4 L563.0,347.9 L567.7,338.6 L572.5,329.5 L577.3,322.8 L582.0,320.9 L586.8,320.4 L591.5,320.6 L596.3,319.0 L601.0,314.8 L605.8,311.6 L610.5,311.0 L615.3,310.0 L620.0,306.4 L624.8,306.6 L629.5,313.6 L634.3,323.5 L639.0,333.0 L643.8,341.1 L648.5,348.8 L653.3,351.7 L658.1,350.4 L662.8,352.4 L667.6,359.5 L672.3,363.4 L677.1,356.1 L681.8,346.6 L686.6,342.5 L691.3,339.8 L696.1,336.7 L700.8,335.9 L705.6,341.8 L710.3,352.2 L715.1,360.2 L719.8,363.8 L724.6,363.7 L729.3,364.3 L734.1,372.4 L738.9,385.2 L743.6,389.7 L748.4,380.8 L753.1,364.1 L757.9,347.3 L762.6,341.9 L767.4,347.6 L772.1,360.7 L776.9,377.9 L781.6,382.9 L786.4,370.9 L791.1,348.6 L795.9,329.7 L800.6,326.7 L805.4,336.9 L810.1,345.7 L814.9,349.1 L819.7,357.1 L824.4,366.5 L829.2,371.8 L833.9,386.4 L838.7,407.1 L843.4,404.2 L848.2,375.2 L852.9,353.4 L857.7,354.5 L862.4,359.1 L867.2,349.9 L871.9,332.9 L876.7,321.1 L881.4,314.6 L886.2,305.9 L891.0,294.1 L895.7,296.3 L900.5,304.3 L905.2,311.3 L910.0,314.3 L914.7,307.6 L919.5,297.0 L924.2,295.4 L929.0,302.8 L933.7,314.8 L938.5,322.6 L943.2,327.8 L948.0,332.2 L952.7,335.7 L957.5,342.8 L962.2,350.5 L967.0,350.1"/>
<path d="M87.7,457.8 L92.4,456.4 L97.2,455.6 L102.0,454.7 L106.7,453.4 L111.5,452.3 L116.2,452.3 L121.0,452.1 L125.7,451.1 L130.5,450.0 L135.2,449.7 L140.0,449.9 L144.7,450.3 L149.5,449.5 L154.2,447.2 L159.0,444.4 L163.7,442.2 L168.5,441.1 L173.2,440.6 L178.0,440.6 L182.8,440.7 L187.5,440.2 L192.3,439.2 L197.0,437.9 L201.8,436.4 L206.5,435.4 L211.3,434.2 L216.0,431.9 L220.8,428.8 L225.5,426.3 L230.3,424.8 L235.0,422.4 L239.8,419.0 L244.5,416.9 L249.3,415.7 L254.0,414.7 L258.8,413.8 L263.6,412.7 L268.3,412.1 L273.1,411.1 L277.8,408.7 L282.6,406.3 L287.3,404.7 L292.1,404.3 L296.8,405.7 L301.6,407.5 L306.3,408.0 L311.1,405.5 L315.8,399.2 L320.6,393.4 L325.3,392.0 L330.1,393.9 L334.8,395.8 L339.6,394.2 L344.4,391.0 L349.1,390.6 L353.9,393.0 L358.6,394.6 L363.4,392.3 L368.1,388.5 L372.9,385.5 L377.6,382.7 L382.4,379.3 L387.1,377.6 L391.9,378.2 L396.6,379.0 L401.4,380.2 L406.1,382.4 L410.9,384.7 L415.7,388.6 L420.4,395.4 L425.2,401.0 L429.9,400.5 L434.7,393.7 L439.4,385.6 L444.2,380.9 L448.9,379.3 L453.7,378.4 L458.4,377.0 L463.2,375.0 L467.9,371.7 L472.7,367.3 L477.4,363.6 L482.2,360.0 L486.9,355.0 L491.7,348.7 L496.5,341.6 L501.2,335.4 L506.0,328.8 L510.7,322.0 L515.5,317.4 L520.2,314.6 L525.0,311.3 L529.7,308.4 L534.5,306.1 L539.2,303.5 L544.0,302.8 L548.7,303.3 L553.5,300.5 L558.2,294.7 L563.0,292.8 L567.7,300.7 L572.5,316.1 L577.3,331.0 L582.0,338.4 L586.8,335.9 L591.5,323.4 L596.3,310.4 L601.0,307.2 L605.8,316.8 L610.5,329.5 L615.3,336.6 L620.0,337.2 L624.8,334.2 L629.5,329.6 L634.3,325.3 L639.0,320.2 L643.8,319.9 L648.5,318.3 L653.3,312.9 L658.1,303.9 L662.8,296.2 L667.6,293.6 L672.3,290.5 L677.1,281.5 L681.8,275.8 L686.6,281.9 L691.3,293.6 L696.1,304.9 L700.8,316.0 L705.6,326.5 L710.3,334.4 L715.1,341.8 L719.8,347.1 L724.6,344.7 L729.3,333.1 L734.1,319.8 L738.9,312.2 L743.6,309.1 L748.4,305.5 L753.1,299.9 L757.9,295.9 L762.6,295.7 L767.4,299.7 L772.1,301.2 L776.9,292.4 L781.6,276.2 L786.4,258.7 L791.1,241.0 L795.9,227.6 L800.6,219.7 L805.4,214.7 L810.1,210.0 L814.9,209.3 L819.7,217.1 L824.4,231.7 L829.2,241.8 L833.9,241.4 L838.7,235.3 L843.4,226.8 L848.2,218.6 L852.9,212.9 L857.7,213.1 L862.4,222.8 L867.2,235.4 L871.9,243.2 L876.7,250.2 L881.4,264.0 L886.2,281.6 L891.0,291.2 L895.7,295.2 L900.5,301.2 L905.2,306.2 L910.0,309.0 L914.7,313.0 L919.5,329.2 L924.2,342.5 L929.0,352.6 L933.7,358.5 L938.5,360.5 L943.2,359.0 L948.0,356.6 L952.7,353.9 L957.5,356.5 L962.2,370.9 L967.0,387.7"/>
<path d="M87.7,458.6 L92.4,457.3 L97.2,455.8 L102.0,454.6 L106.7,453.3 L111.5,451.9 L116.2,451.3 L121.0,451.8 L125.7,452.1 L130.5,451.4 L135.2,449.8 L140.0,447.9 L144.7,446.4 L149.5,445.7 L154.2,445.2 L159.0,444.5 L163.7,443.4 L168.5,442.3 L173.2,441.6 L178.0,440.8 L182.8,439.9 L187.5,438.3 L192.3,435.1 L197.0,430.7 L201.8,425.9 L206.5,422.0 L211.3,420.5 L216.0,420.7 L220.8,419.7 L225.5,416.8 L230.3,412.7 L235.0,408.6 L239.8,405.9 L244.5,404.7 L249.3,403.4 L254.0,402.7 L258.8,403.5 L263.6,404.3 L268.3,405.1 L273.1,405.6 L277.8,404.3 L282.6,401.8 L287.3,400.1 L292.1,398.6 L296.8,396.5 L301.6,394.1 L306.3,392.1 L311.1,390.7 L315.8,389.9 L320.6,390.2 L325.3,391.4 L330.1,391.3 L334.8,389.5 L339.6,388.3 L344.4,390.1 L349.1,392.1 L353.9,389.8 L358.6,384.9 L363.4,381.1 L368.1,378.8 L372.9,378.3 L377.6,380.8 L382.4,384.5 L387.1,386.5 L391.9,385.0 L396.6,382.1 L401.4,379.4 L406.1,378.0 L410.9,378.6 L415.7,378.7 L420.4,375.1 L425.2,369.9 L429.9,367.0 L434.7,366.1 L439.4,364.8 L444.2,362.3 L448.9,359.3 L453.7,358.3 L458.4,358.6 L463.2,362.9 L467.9,367.6 L472.7,365.0 L477.4,357.3 L482.2,353.6 L486.9,355.3 L491.7,355.6 L496.5,351.2 L501.2,340.6 L506.0,327.7 L510.7,320.3 L515.5,322.0 L520.2,324.1 L525.0,322.6 L529.7,317.8 L534.5,312.7 L539.2,313.0 L544.0,319.9 L548.7,327.6 L553.5,330.1 L558.2,327.9 L563.0,325.1 L567.7,326.6 L572.5,328.2 L577.3,327.6 L582.0,326.8 L586.8,338.1 L591.5,359.7 L596.3,382.1 L601.0,398.3 L605.8,403.9 L610.5,401.9 L615.3,400.3 L620.0,402.3 L624.8,411.8 L629.5,435.3 L634.3,468.6 L639.0,494.3 L643.8,498.5 L648.5,484.8 L653.3,466.7 L658.1,452.4 L662.8,434.4 L667.6,410.8 L672.3,395.8 L677.1,392.3 L681.8,385.6 L686.6,370.9 L691.3,358.6 L696.1,351.8 L700.8,349.0 L705.6,348.3 L710.3,342.0 L715.1,332.2 L719.8,327.9 L724.6,316.2 L729.3,301.2 L734.1,288.4 L738.9,282.1 L743.6,276.7 L748.4,272.2 L753.1,275.4 L757.9,283.8 L762.6,289.7 L767.4,294.3 L772.1,299.0 L776.9,299.9 L781.6,294.2 L786.4,285.9 L791.1,281.5 L795.9,276.6 L800.6,265.1 L805.4,262.2 L810.1,277.6 L814.9,296.3 L819.7,298.2 L824.4,283.7 L829.2,267.5 L833.9,263.7 L838.7,269.2 L843.4,272.1 L848.2,273.3 L852.9,273.1 L857.7,269.5 L862.4,264.5 L867.2,260.1 L871.9,259.0 L876.7,261.0 L881.4,259.6 L886.2,255.9 L891.0,259.6 L895.7,265.6 L900.5,268.7 L905.2,278.7 L910.0,297.8 L914.7,315.0 L919.5,322.9 L924.2,314.8 L929.0,296.0 L933.7,285.1 L938.5,284.9 L943.2,282.5 L948.0,281.0 L952.7,296.0 L957.5,316.8 L962.2,325.6 L967.0,325.1"/>
<path d="M87.7,458.1 L92.4,456.2 L97.2,454.5 L102.0,453.7 L106.7,453.6 L111.5,453.2 L116.2,452.4 L121.0,451.7 L125.7,451.9 L130.5,452.2 L135.2,452.0 L140.0,450.3 L144.7,448.1 L149.5,447.1 L154.2,447.2 L159.0,447.5 L163.7,447.0 L168.5,445.4 L173.2,443.0 L178.0,441.3 L182.8,440.4 L187.5,439.3 L192.3,437.8 L197.0,436.9 L201.8,435.4 L206.5,432.3 L211.3,429.2 L216.0,427.2 L220.8,425.9 L225.5,424.2 L230.3,422.8 L235.0,420.9 L239.8,418.1 L244.5,415.9 L249.3,415.2 L254.0,415.1 L258.8,414.0 L263.6,412.4 L268.3,412.0 L273.1,411.7 L277.8,410.2 L282.6,408.6 L287.3,408.9 L292.1,409.8 L296.8,409.7 L301.6,407.6 L306.3,404.5 L311.1,402.7 L315.8,402.7 L320.6,401.1 L325.3,397.5 L330.1,395.1 L334.8,394.0 L339.6,391.7 L344.4,389.3 L349.1,387.3 L353.9,386.0 L358.6,384.5 L363.4,382.1 L368.1,380.2 L372.9,378.8 L377.6,377.6 L382.4,377.1 L387.1,376.9 L391.9,376.0 L396.6,373.9 L401.4,371.3 L406.1,371.4 L410.9,373.9 L415.7,375.6 L420.4,374.7 L425.2,372.1 L429.9,366.3 L434.7,356.7 L439.4,345.9 L444.2,338.3 L448.9,334.2 L453.7,331.1 L458.4,329.8 L463.2,331.3 L467.9,334.9 L472.7,336.7 L477.4,331.4 L482.2,322.6 L486.9,320.4 L491.7,326.0 L496.5,325.8 L501.2,315.5 L506.0,308.1 L510.7,309.2 L515.5,309.6 L520.2,302.4 L525.0,295.8 L529.7,297.8 L534.5,306.3 L539.2,312.8 L544.0,316.5 L548.7,320.8 L553.5,322.2 L558.2,326.8 L563.0,336.5 L567.7,350.3 L572.5,359.7 L577.3,364.4 L582.0,367.7 L586.8,371.6 L591.5,377.2 L596.3,379.9 L601.0,374.0 L605.8,366.4 L610.5,363.8 L615.3,362.9 L620.0,361.6 L624.8,363.8 L629.5,370.2 L634.3,376.4 L639.0,381.9 L643.8,390.4 L648.5,401.6 L653.3,413.6 L658.1,421.8 L662.8,418.9 L667.6,406.1 L672.3,399.2 L677.1,404.9 L681.8,411.3 L686.6,414.7 L691.3,420.3 L696.1,419.6 L700.8,405.1 L705.6,387.6 L710.3,378.5 L715.1,378.3 L719.8,377.2 L724.6,368.1 L729.3,362.8 L734.1,364.4 L738.9,362.9 L743.6,364.9 L748.4,374.6 L753.1,377.9 L757.9,377.4 L762.6,389.3 L767.4,407.6 L772.1,416.8 L776.9,414.4 L781.6,408.8 L786.4,409.0 L791.1,415.1 L795.9,416.8 L800.6,406.3 L805.4,393.3 L810.1,387.2 L814.9,378.1 L819.7,357.9 L824.4,341.7 L829.2,339.7 L833.9,339.9 L838.7,332.0 L843.4,324.3 L848.2,324.6 L852.9,314.8 L857.7,296.1 L862.4,271.1 L867.2,253.4 L871.9,252.7 L876.7,259.8 L881.4,259.5 L886.2,250.7 L891.0,237.5 L895.7,223.7 L900.5,221.6 L905.2,238.7 L910.0,260.8 L914.7,270.0 L919.5,273.5 L924.2,283.5 L929.0,292.2 L933.7,284.6 L938.5,272.7 L943.2,277.4 L948.0,290.8 L952.7,296.0 L957.5,293.5 L962.2,291.0 L967.0,286.7"/>
<path d="M87.7,459.1 L92.4,457.8 L97.2,456.4 L102.0,455.0 L106.7,453.9 L111.5,453.0 L116.2,452.4 L121.0,451.6 L125.7,450.6 L130.5,449.9 L135.2,449.7 L140.0,449.4 L144.7,448.2 L149.5,446.1 L154.2,443.7 L159.0,441.4 L163.7,439.9 L168.5,439.0 L173.2,438.0 L178.0,436.4 L182.8,434.3 L187.5,432.1 L192.3,429.7 L197.0,428.0 L201.8,427.7 L206.5,428.1 L211.3,428.3 L216.0,428.0 L220.8,426.4 L225.5,422.4 L230.3,418.3 L235.0,417.1 L239.8,417.7 L244.5,416.8 L249.3,414.5 L254.0,411.9 L258.8,410.3 L263.6,410.0 L268.3,409.9 L273.1,409.8 L277.8,411.0 L282.6,411.0 L287.3,407.7 L292.1,404.0 L296.8,401.8 L301.6,399.5 L306.3,398.0 L311.1,398.9 L315.8,399.8 L320.6,398.6 L325.3,396.9 L330.1,395.4 L334.8,393.8 L339.6,392.3 L344.4,391.6 L349.1,391.8 L353.9,391.7 L358.6,390.2 L363.4,387.1 L368.1,384.3 L372.9,383.4 L377.6,383.6 L382.4,382.9 L387.1,381.2 L391.9,378.6 L396.6,374.9 L401.4,372.1 L406.1,371.1 L410.9,369.5 L415.7,366.6 L420.4,363.5 L425.2,361.9 L429.9,363.6 L434.7,363.7 L439.4,365.2 L444.2,370.1 L448.9,373.3 L453.7,374.8 L458.4,378.2 L463.2,377.8 L467.9,367.3 L472.7,353.4 L477.4,348.3 L482.2,351.2 L486.9,354.0 L491.7,355.4 L496.5,355.2 L501.2,352.4 L506.0,347.2 L510.7,340.5 L515.5,335.5 L520.2,335.5 L525.0,339.4 L529.7,342.6 L534.5,343.0 L539.2,343.4 L544.0,341.7 L548.7,335.1 L553.5,327.4 L558.2,324.0 L563.0,322.3 L567.7,315.1 L572.5,305.7 L577.3,301.6 L582.0,306.1 L586.8,311.9 L591.5,310.9 L596.3,299.0 L601.0,285.0 L605.8,282.4 L610.5,287.8 L615.3,294.4 L620.0,301.7 L624.8,304.6 L629.5,303.0 L634.3,307.5 L639.0,321.5 L643.8,338.1 L648.5,349.1 L653.3,366.0 L658.1,381.5 L662.8,391.7 L667.6,399.9 L672.3,406.3 L677.1,408.9 L681.8,404.0 L686.6,395.5 L691.3,391.4 L696.1,392.4 L700.8,391.6 L705.6,385.2 L710.3,376.2 L715.1,368.1 L719.8,361.7 L724.6,356.9 L729.3,350.6 L734.1,341.1 L738.9,329.5 L743.6,319.1 L748.4,317.0 L753.1,320.5 L757.9,320.0 L762.6,314.0 L767.4,304.4 L772.1,293.1 L776.9,290.8 L781.6,298.3 L786.4,306.2 L791.1,305.7 L795.9,302.3 L800.6,302.0 L805.4,305.7 L810.1,317.4 L814.9,325.0 L819.7,329.6 L824.4,329.8 L829.2,329.0 L833.9,328.5 L838.7,336.6 L843.4,350.7 L848.2,358.1 L852.9,356.8 L857.7,352.6 L862.4,339.1 L867.2,322.0 L871.9,299.7 L876.7,285.9 L881.4,270.2 L886.2,256.1 L891.0,249.3 L895.7,253.1 L900.5,257.3 L905.2,251.6 L910.0,236.4 L914.7,219.0 L919.5,213.5 L924.2,220.9 L929.0,222.2 L933.7,208.5 L938.5,188.1 L943.2,178.1 L948.0,182.4 L952.7,188.9 L957.5,195.1 L962.2,200.1 L967.0,203.6"/>
</g>
<path d="M87.7,458.4 L92.4,457.5 L97.2,456.5 L102.0,455.5 L106.7,454.4 L111.5,453.5 L116.2,452.7 L121.0,452.0 L125.7,451.2 L130.5,450.5 L135.2,449.8 L140.0,448.8 L144.7,447.8 L149.5,446.8 L154.2,445.7 L159.0,444.7 L163.7,443.5 L168.5,442.3 L173.2,441.0 L178.0,439.7 L182.8,438.4 L187.5,437.1 L192.3,435.6 L197.0,434.1 L201.8,432.6 L206.5,431.1 L211.3,429.5 L216.0,427.8 L220.8,425.9 L225.5,424.0 L230.3,422.1 L235.0,420.2 L239.8,418.5 L244.5,417.1 L249.3,415.7 L254.0,414.4 L258.8,413.0 L263.6,411.7 L268.3,410.6 L273.1,409.5 L277.8,408.5 L282.6,407.4 L287.3,406.4 L292.1,405.3 L296.8,404.3 L301.6,403.2 L306.3,402.2 L311.1,401.1 L315.8,399.9 L320.6,398.4 L325.3,396.9 L330.1,395.4 L334.8,393.9 L339.6,392.4 L344.4,390.9 L349.1,389.6 L353.9,388.3 L358.6,386.9 L363.4,385.6 L368.1,384.3 L372.9,383.0 L377.6,381.7 L382.4,380.5 L387.1,379.5 L391.9,378.6 L396.6,377.6 L401.4,376.6 L406.1,375.6 L410.9,374.7 L415.7,373.7 L420.4,372.5 L425.2,371.0 L429.9,369.5 L434.7,367.7 L439.4,365.9 L444.2,364.1 L448.9,362.2 L453.7,360.4 L458.4,358.6 L463.2,356.7 L467.9,354.9 L472.7,353.0 L477.4,351.1 L482.2,349.2 L486.9,347.3 L491.7,345.4 L496.5,343.4 L501.2,341.5 L506.0,339.6 L510.7,337.9 L515.5,336.2 L520.2,334.8 L525.0,333.7 L529.7,332.7 L534.5,331.7 L539.2,330.7 L544.0,329.6 L548.7,328.4 L553.5,327.0 L558.2,325.9 L563.0,325.4 L567.7,325.1 L572.5,325.4 L577.3,325.7 L582.0,326.2 L586.8,326.7 L591.5,326.2 L596.3,325.5 L601.0,324.8 L605.8,324.0 L610.5,323.1 L615.3,322.4 L620.0,322.8 L624.8,323.4 L629.5,323.9 L634.3,323.7 L639.0,323.3 L643.8,323.0 L648.5,322.8 L653.3,323.6 L658.1,325.1 L662.8,326.7 L667.6,328.1 L672.3,328.5 L677.1,327.9 L681.8,327.2 L686.6,326.5 L691.3,326.2 L696.1,326.6 L700.8,327.1 L705.6,327.6 L710.3,328.4 L715.1,329.3 L719.8,330.1 L724.6,330.8 L729.3,330.1 L734.1,329.2 L738.9,328.2 L743.6,327.4 L748.4,327.7 L753.1,328.6 L757.9,329.6 L762.6,330.6 L767.4,331.7 L772.1,332.8 L776.9,333.6 L781.6,332.1 L786.4,330.1 L791.1,327.9 L795.9,325.8 L800.6,324.1 L805.4,323.4 L810.1,322.8 L814.9,322.2 L819.7,321.6 L824.4,321.3 L829.2,322.4 L833.9,324.0 L838.7,325.4 L843.4,325.9 L848.2,325.0 L852.9,322.3 L857.7,319.4 L862.4,316.4 L867.2,313.9 L871.9,312.9 L876.7,312.3 L881.4,311.6 L886.2,311.0 L891.0,311.7 L895.7,313.3 L900.5,315.0 L905.2,316.7 L910.0,318.1 L914.7,317.9 L919.5,317.5 L924.2,317.2 L929.0,317.5 L933.7,319.7 L938.5,322.0 L943.2,324.3 L948.0,326.0 L952.7,326.5 L957.5,326.8 L962.2,327.2 L967.0,327.5" fill="none" stroke="#0072B2" stroke-width="3.2" stroke-linejoin="round"/>
<line x1="87.7" y1="431.67" x2="967.0" y2="431.67" stroke="#626262" stroke-width="2.71" stroke-dasharray="10.07 4.35"/>
<rect x="582.5" y="269.85" width="308.8" height="83.85" fill="none" stroke="#EC1C24" stroke-width="4"/>
</g>

<rect x="112.9" y="92.5" width="847.5" height="39.9" rx="3" ry="3" fill="rgba(255,255,255,0.8)" stroke="#d6d6d6" stroke-width="1.6"/>
<rect x="117.2" y="97.5" width="26.6" height="10.5" fill="rgba(218,140,0,0.5)"/>
<rect x="117.2" y="116" width="26.6" height="10.5" fill="rgba(218,140,0,0.7)"/>
<line x1="322.1" y1="102.7" x2="350.1" y2="102.7" stroke="#D55E00" stroke-width="2.6"/>
<rect x="322.6" y="116" width="27.1" height="10.3" fill="rgba(218,140,0,0.3)"/>
<line x1="529.2" y1="102.6" x2="557.2" y2="102.6" stroke="#0072B2" stroke-width="3.2"/>
<line x1="529.8" y1="121.3" x2="556.6" y2="121.3" stroke="rgba(0,114,178,0.5)" stroke-width="1"/>
<line x1="773.7" y1="102.6" x2="801.6" y2="102.6" stroke="#000" stroke-width="2.6"/>
<text class="lg" x="152.50" y="107.20" text-anchor="start" textLength="145.18" lengthAdjust="spacingAndGlyphs" >Model climate P10-P90</text>
<text class="lg" x="152.50" y="125.60" text-anchor="start" textLength="145.18" lengthAdjust="spacingAndGlyphs" >Model climate P25-P75</text>
<text class="lg" x="358.50" y="107.20" text-anchor="start" textLength="129.00" lengthAdjust="spacingAndGlyphs" >Model climate mean</text>
<text class="lg" x="358.50" y="125.60" text-anchor="start" textLength="146.33" lengthAdjust="spacingAndGlyphs" >Model climate Min-Max</text>
<text class="lg" x="566.20" y="107.20" text-anchor="start" textLength="159.65" lengthAdjust="spacingAndGlyphs" >Forecast ensemble mean</text>
<text class="lg" x="566.20" y="125.60" text-anchor="start" textLength="183.86" lengthAdjust="spacingAndGlyphs" >Forecast ensemble members</text>
<text class="lg" x="809.70" y="107.20" text-anchor="start" textLength="145.18" lengthAdjust="spacingAndGlyphs" >ERA5 daily climatology</text>

<rect x="87.7" y="86.2" width="879.3" height="561.5999999999999" fill="none" stroke="#000" stroke-width="1.4" stroke-linecap="square"/>
<line x1="81.30" y1="604.46" x2="87.7" y2="604.46" stroke="#000" stroke-width="1.4"/>
<text class="tk" x="75.20" y="611.06" text-anchor="end" textLength="38.41" lengthAdjust="spacingAndGlyphs" >−40</text>
<line x1="81.30" y1="518.08" x2="87.7" y2="518.08" stroke="#000" stroke-width="1.4"/>
<text class="tk" x="75.20" y="524.68" text-anchor="end" textLength="38.41" lengthAdjust="spacingAndGlyphs" >−20</text>
<line x1="81.30" y1="431.70" x2="87.7" y2="431.70" stroke="#000" stroke-width="1.4"/>
<text class="tk" x="75.20" y="438.30" text-anchor="end" textLength="11.58" lengthAdjust="spacingAndGlyphs" >0</text>
<line x1="81.30" y1="345.32" x2="87.7" y2="345.32" stroke="#000" stroke-width="1.4"/>
<text class="tk" x="75.20" y="351.92" text-anchor="end" textLength="23.16" lengthAdjust="spacingAndGlyphs" >20</text>
<line x1="81.30" y1="258.94" x2="87.7" y2="258.94" stroke="#000" stroke-width="1.4"/>
<text class="tk" x="75.20" y="265.54" text-anchor="end" textLength="23.16" lengthAdjust="spacingAndGlyphs" >40</text>
<line x1="81.30" y1="172.56" x2="87.7" y2="172.56" stroke="#000" stroke-width="1.4"/>
<text class="tk" x="75.20" y="179.16" text-anchor="end" textLength="23.16" lengthAdjust="spacingAndGlyphs" >60</text>
<line x1="81.30" y1="86.18" x2="87.7" y2="86.18" stroke="#000" stroke-width="1.4"/>
<text class="tk" x="75.20" y="92.78" text-anchor="end" textLength="23.16" lengthAdjust="spacingAndGlyphs" >80</text>
<line x1="232.66" y1="647.8" x2="232.66" y2="654.20" stroke="#000" stroke-width="1.4"/>
<text class="tk" x="232.66" y="674.10" text-anchor="middle" textLength="115.35" lengthAdjust="spacingAndGlyphs" >01 Sep 2022</text>
<line x1="375.25" y1="647.8" x2="375.25" y2="654.20" stroke="#000" stroke-width="1.4"/>
<text class="tk" x="375.25" y="674.10" text-anchor="middle" textLength="112.52" lengthAdjust="spacingAndGlyphs" >01 Oct 2022</text>
<line x1="522.59" y1="647.8" x2="522.59" y2="654.20" stroke="#000" stroke-width="1.4"/>
<text class="tk" x="522.59" y="674.10" text-anchor="middle" textLength="116.57" lengthAdjust="spacingAndGlyphs" >01 Nov 2022</text>
<line x1="665.18" y1="647.8" x2="665.18" y2="654.20" stroke="#000" stroke-width="1.4"/>
<text class="tk" x="665.18" y="674.10" text-anchor="middle" textLength="116.27" lengthAdjust="spacingAndGlyphs" >01 Dec 2022</text>
<line x1="812.53" y1="647.8" x2="812.53" y2="654.20" stroke="#000" stroke-width="1.4"/>
<text class="tk" x="812.53" y="674.10" text-anchor="middle" textLength="109.10" lengthAdjust="spacingAndGlyphs" >01 Jan 2023</text>
<line x1="959.87" y1="647.8" x2="959.87" y2="654.20" stroke="#000" stroke-width="1.4"/>
<text class="tk" x="959.87" y="674.10" text-anchor="middle" textLength="113.27" lengthAdjust="spacingAndGlyphs" >01 Feb 2023</text>

<text class="tt" x="527.30" y="26.80" text-anchor="middle" textLength="300.04" lengthAdjust="spacingAndGlyphs" >Zonal mean U10hPa at 60N</text>
<text class="tt" x="527.60" y="51.30" text-anchor="middle" textLength="468.52" lengthAdjust="spacingAndGlyphs" >C3S: ECMWF contribution from 1 Aug 2022</text>
<text class="tt" x="527.30" y="75.00" text-anchor="middle" textLength="286.02" lengthAdjust="spacingAndGlyphs" >Climate period 1993-2016</text>
<text class="tk" x="0.00" y="0.00" text-anchor="middle" textLength="122.66" lengthAdjust="spacingAndGlyphs" transform="translate(25.9,366.4) rotate(-90)">U10hPa (m/s)</text>

</svg>
</body></html>
